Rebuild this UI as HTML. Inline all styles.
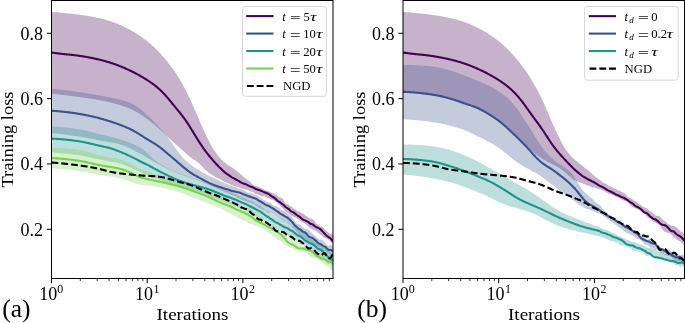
<!DOCTYPE html>
<html><head><meta charset="utf-8"><style>
html,body{margin:0;padding:0;background:#fff;}
svg{display:block;font-family:"Liberation Serif", serif;will-change:transform;}
</style></head><body>
<svg width="685" height="323" viewBox="0 0 685 323">
<defs>
<clipPath id="cl"><rect x="51.50" y="0.50" width="281.50" height="278.00"/></clipPath>
<clipPath id="cr"><rect x="403.00" y="0.50" width="281.50" height="278.00"/></clipPath>
</defs>

<g clip-path="url(#cl)">
<path d="M51.5,11.90 52.0,11.94 52.5,11.98 53.0,12.02 53.5,12.06 54.0,12.10 54.5,12.14 55.0,12.18 55.5,12.22 56.0,12.26 56.5,12.30 57.0,12.35 57.5,12.39 58.0,12.43 58.5,12.48 59.0,12.52 59.5,12.56 60.0,12.61 60.5,12.66 61.0,12.70 61.5,12.75 62.0,12.80 62.5,12.84 63.0,12.89 63.5,12.94 64.0,12.99 64.5,13.04 65.0,13.09 65.5,13.14 66.0,13.19 66.5,13.24 67.0,13.29 67.5,13.35 68.0,13.40 68.5,13.45 69.0,13.51 69.5,13.56 70.0,13.61 70.5,13.67 71.0,13.72 71.5,13.78 72.0,13.84 72.5,13.89 73.0,13.95 73.5,14.01 74.0,14.07 74.5,14.13 75.0,14.19 75.5,14.25 76.0,14.31 76.5,14.37 77.0,14.43 77.5,14.49 78.0,14.56 78.5,14.62 79.0,14.69 79.5,14.75 80.0,14.82 80.5,14.89 81.0,14.95 81.5,15.02 82.0,15.09 82.5,15.16 83.0,15.23 83.5,15.31 84.0,15.38 84.5,15.45 85.0,15.53 85.5,15.61 86.0,15.68 86.5,15.76 87.0,15.84 87.5,15.92 88.0,16.00 88.5,16.09 89.0,16.17 89.5,16.25 90.0,16.34 90.5,16.43 91.0,16.52 91.5,16.61 92.0,16.70 92.5,16.79 93.0,16.89 93.5,16.98 94.0,17.08 94.5,17.18 95.0,17.28 95.5,17.38 96.0,17.48 96.5,17.59 97.0,17.70 97.5,17.80 98.0,17.91 98.5,18.03 99.0,18.14 99.5,18.25 100.0,18.37 100.5,18.49 101.0,18.61 101.5,18.73 102.0,18.85 102.5,18.98 103.0,19.10 103.5,19.23 104.0,19.36 104.5,19.49 105.0,19.63 105.5,19.76 106.0,19.90 106.5,20.04 107.0,20.19 107.5,20.33 108.0,20.48 108.5,20.63 109.0,20.78 109.5,20.93 110.0,21.09 110.5,21.25 111.0,21.41 111.5,21.58 112.0,21.75 112.5,21.92 113.0,22.10 113.5,22.27 114.0,22.46 114.5,22.64 115.0,22.83 115.5,23.02 116.0,23.21 116.5,23.41 117.0,23.61 117.5,23.81 118.0,24.02 118.5,24.23 119.0,24.44 119.5,24.66 120.0,24.88 120.5,25.10 121.0,25.32 121.5,25.55 122.0,25.78 122.5,26.01 123.0,26.24 123.5,26.48 124.0,26.72 124.5,26.96 125.0,27.21 125.5,27.45 126.0,27.70 126.5,27.96 127.0,28.21 127.5,28.47 128.0,28.73 128.5,28.99 129.0,29.25 129.5,29.52 130.0,29.79 130.5,30.07 131.0,30.34 131.5,30.62 132.0,30.90 132.5,31.19 133.0,31.48 133.5,31.77 134.0,32.07 134.5,32.37 135.0,32.67 135.5,32.98 136.0,33.29 136.5,33.60 137.0,33.92 137.5,34.24 138.0,34.57 138.5,34.89 139.0,35.23 139.5,35.56 140.0,35.90 140.5,36.24 141.0,36.59 141.5,36.94 142.0,37.29 142.5,37.65 143.0,38.01 143.5,38.38 144.0,38.75 144.5,39.12 145.0,39.49 145.5,39.87 146.0,40.26 146.5,40.64 147.0,41.04 147.5,41.43 148.0,41.83 148.5,42.24 149.0,42.65 149.5,43.07 150.0,43.49 150.5,43.92 151.0,44.35 151.5,44.79 152.0,45.23 152.5,45.68 153.0,46.14 153.5,46.60 154.0,47.07 154.5,47.55 155.0,48.03 155.5,48.52 156.0,49.01 156.5,49.51 157.0,50.02 157.5,50.53 158.0,51.05 158.5,51.57 159.0,52.10 159.5,52.64 160.0,53.18 160.5,53.72 161.0,54.28 161.5,54.83 162.0,55.40 162.5,55.97 163.0,56.54 163.5,57.12 164.0,57.71 164.5,58.30 165.0,58.90 165.5,59.50 166.0,60.11 166.5,60.72 167.0,61.34 167.5,61.97 168.0,62.60 168.5,63.24 169.0,63.88 169.5,64.53 170.0,65.18 170.5,65.84 171.0,66.51 171.5,67.18 172.0,67.86 172.5,68.54 173.0,69.23 173.5,69.93 174.0,70.64 174.5,71.35 175.0,72.08 175.5,72.81 176.0,73.55 176.5,74.30 177.0,75.06 177.5,75.83 178.0,76.60 178.5,77.39 179.0,78.19 179.5,79.01 180.0,79.83 180.5,80.66 181.0,81.51 181.5,82.37 182.0,83.25 182.5,84.14 183.0,85.04 183.5,85.95 184.0,86.88 184.5,87.83 185.0,88.78 185.5,89.76 186.0,90.74 186.5,91.74 187.0,92.76 187.5,93.79 188.0,94.83 188.5,95.88 189.0,96.94 189.5,98.01 190.0,99.10 190.5,100.19 191.0,101.29 191.5,102.40 192.0,103.51 192.5,104.63 193.0,105.75 193.5,106.88 194.0,108.02 194.5,109.15 195.0,110.29 195.5,111.43 196.0,112.58 196.5,113.72 197.0,114.87 197.5,116.02 198.0,117.16 198.5,118.31 199.0,119.46 199.5,120.61 200.0,121.75 200.5,122.90 201.0,124.04 201.5,125.18 202.0,126.31 202.5,127.45 203.0,128.57 203.5,129.69 204.0,130.80 204.5,131.90 205.0,132.99 205.5,134.07 206.0,135.14 206.5,136.20 207.0,137.24 207.5,138.27 208.0,139.29 208.5,140.30 209.0,141.29 209.5,142.26 210.0,143.21 210.5,144.15 211.0,145.06 211.5,145.95 212.0,146.82 212.5,147.67 213.0,148.50 213.5,149.30 214.0,150.08 214.5,150.84 215.0,151.57 215.5,152.28 216.0,152.98 216.5,153.66 217.0,154.32 217.5,154.98 218.0,155.61 218.5,156.22 219.0,156.82 219.5,157.40 220.0,157.95 220.5,158.50 221.0,159.02 221.5,159.54 222.0,160.03 222.5,160.52 223.0,161.00 223.5,161.47 224.0,161.92 224.5,162.36 225.0,162.78 225.5,163.18 226.0,163.57 226.5,163.95 227.0,164.33 227.5,164.70 228.0,165.06 228.5,165.40 229.0,165.73 229.5,166.05 230.0,166.36 230.5,166.67 231.0,166.98 231.5,167.28 232.0,167.57 232.5,167.87 233.0,168.19 233.5,168.52 234.0,168.89 234.5,169.28 235.0,169.69 235.5,170.11 236.0,170.52 236.5,170.93 237.0,171.32 237.5,171.70 238.0,172.09 238.5,172.49 239.0,172.88 239.5,173.28 240.0,173.68 240.5,174.08 241.0,174.49 241.5,174.91 242.0,175.36 242.5,175.83 243.0,176.32 243.5,176.79 244.0,177.23 244.5,177.65 245.0,178.05 245.5,178.41 246.0,178.73 246.5,179.03 247.0,179.33 247.5,179.66 248.0,180.02 248.5,180.43 249.0,180.86 249.5,181.31 250.0,181.78 250.5,182.28 251.0,182.81 251.5,183.35 252.0,183.89 252.5,184.38 253.0,184.81 253.5,185.16 254.0,185.45 254.5,185.67 255.0,185.83 255.5,185.93 256.0,185.99 256.5,186.03 257.0,186.10 257.5,186.24 258.0,186.46 258.5,186.75 259.0,187.06 259.5,187.35 260.0,187.62 260.5,187.85 261.0,188.07 261.5,188.29 262.0,188.52 262.5,188.77 263.0,189.04 263.5,189.31 264.0,189.57 264.5,189.81 265.0,190.02 265.5,190.20 266.0,190.36 266.5,190.51 267.0,190.65 267.5,190.79 268.0,190.95 268.5,191.15 269.0,191.41 269.5,191.70 270.0,192.00 270.5,192.24 271.0,192.41 271.5,192.56 272.0,192.72 272.5,192.95 273.0,193.25 273.5,193.57 274.0,193.86 274.5,194.06 275.0,194.17 275.5,194.26 276.0,194.42 276.5,194.72 277.0,195.15 277.5,195.66 278.0,196.16 278.5,196.60 279.0,196.95 279.5,197.21 280.0,197.42 280.5,197.60 281.0,197.77 281.5,198.00 282.0,198.32 282.5,198.76 283.0,199.32 283.5,199.97 284.0,200.69 284.5,201.44 285.0,202.17 285.5,202.83 286.0,203.37 286.5,203.75 287.0,204.01 287.5,204.21 288.0,204.41 288.5,204.67 289.0,204.99 289.5,205.33 290.0,205.64 290.5,205.92 291.0,206.18 291.5,206.49 292.0,206.88 292.5,207.38 293.0,207.93 293.5,208.44 294.0,208.85 294.5,209.16 295.0,209.43 295.5,209.72 296.0,210.06 296.5,210.40 297.0,210.68 297.5,210.89 298.0,211.04 298.5,211.21 299.0,211.41 299.5,211.67 300.0,211.98 300.5,212.30 301.0,212.61 301.5,212.88 302.0,213.11 302.5,213.33 303.0,213.56 303.5,213.85 304.0,214.20 304.5,214.60 305.0,215.02 305.5,215.41 306.0,215.76 306.5,216.07 307.0,216.36 307.5,216.67 308.0,217.03 308.5,217.42 309.0,217.79 309.5,218.10 310.0,218.34 310.5,218.52 311.0,218.68 311.5,218.84 312.0,218.99 312.5,219.17 313.0,219.43 313.5,219.84 314.0,220.42 314.5,221.13 315.0,221.87 315.5,222.57 316.0,223.20 316.5,223.79 317.0,224.32 317.5,224.79 318.0,225.18 318.5,225.52 319.0,225.82 319.5,226.10 320.0,226.32 320.5,226.45 321.0,226.51 321.5,226.57 322.0,226.70 322.5,226.95 323.0,227.36 323.5,227.90 324.0,228.54 324.5,229.21 325.0,229.85 325.5,230.41 326.0,230.85 326.5,231.19 327.0,231.47 327.5,231.74 328.0,232.06 328.5,232.46 329.0,232.90 329.5,233.32 330.0,233.66 330.5,233.87 331.0,233.99 331.5,234.06 332.0,234.16 332.5,234.33 333.0,234.63 L333.0,243.57 332.5,243.24 332.0,242.99 331.5,242.73 331.0,242.38 330.5,241.89 330.0,241.32 329.5,240.72 329.0,240.18 328.5,239.72 328.0,239.36 327.5,239.05 327.0,238.80 326.5,238.58 326.0,238.40 325.5,238.23 325.0,238.06 324.5,237.83 324.0,237.55 323.5,237.20 323.0,236.79 322.5,236.32 322.0,235.84 321.5,235.37 321.0,234.96 320.5,234.61 320.0,234.31 319.5,234.00 319.0,233.61 318.5,233.14 318.0,232.61 317.5,232.07 317.0,231.57 316.5,231.15 316.0,230.85 315.5,230.65 315.0,230.52 314.5,230.40 314.0,230.25 313.5,230.02 313.0,229.72 312.5,229.37 312.0,229.00 311.5,228.67 311.0,228.40 310.5,228.19 310.0,228.00 309.5,227.77 309.0,227.46 308.5,227.05 308.0,226.56 307.5,226.02 307.0,225.49 306.5,224.98 306.0,224.49 305.5,224.04 305.0,223.62 304.5,223.27 304.0,223.00 303.5,222.78 303.0,222.57 302.5,222.29 302.0,221.94 301.5,221.53 301.0,221.13 300.5,220.78 300.0,220.49 299.5,220.23 299.0,219.95 298.5,219.64 298.0,219.27 297.5,218.85 297.0,218.42 296.5,218.03 296.0,217.73 295.5,217.52 295.0,217.36 294.5,217.19 294.0,217.00 293.5,216.79 293.0,216.57 292.5,216.36 292.0,216.13 291.5,215.84 291.0,215.49 290.5,215.09 290.0,214.68 289.5,214.28 289.0,213.92 288.5,213.59 288.0,213.29 287.5,213.00 287.0,212.69 286.5,212.31 286.0,211.83 285.5,211.27 285.0,210.65 284.5,210.04 284.0,209.47 283.5,208.96 283.0,208.49 282.5,208.04 282.0,207.60 281.5,207.14 281.0,206.66 280.5,206.16 280.0,205.65 279.5,205.12 279.0,204.57 278.5,204.00 278.0,203.40 277.5,202.81 277.0,202.27 276.5,201.82 276.0,201.46 275.5,201.16 275.0,200.89 274.5,200.64 274.0,200.41 273.5,200.21 273.0,200.05 272.5,199.92 272.0,199.80 271.5,199.65 271.0,199.46 270.5,199.22 270.0,198.97 269.5,198.72 269.0,198.51 268.5,198.32 268.0,198.15 267.5,197.94 267.0,197.68 266.5,197.36 266.0,196.99 265.5,196.63 265.0,196.32 264.5,196.14 264.0,196.08 263.5,196.14 263.0,196.23 262.5,196.30 262.0,196.29 261.5,196.18 261.0,196.00 260.5,195.76 260.0,195.51 259.5,195.24 259.0,194.97 258.5,194.72 258.0,194.50 257.5,194.33 257.0,194.20 256.5,194.10 256.0,193.99 255.5,193.81 255.0,193.55 254.5,193.20 254.0,192.83 253.5,192.47 253.0,192.17 252.5,191.93 252.0,191.75 251.5,191.61 251.0,191.47 250.5,191.31 250.0,191.11 249.5,190.87 249.0,190.61 248.5,190.35 248.0,190.13 247.5,189.96 247.0,189.84 246.5,189.75 246.0,189.67 245.5,189.57 245.0,189.46 244.5,189.33 244.0,189.18 243.5,189.03 243.0,188.90 242.5,188.77 242.0,188.63 241.5,188.47 241.0,188.27 240.5,188.03 240.0,187.78 239.5,187.52 239.0,187.30 238.5,187.11 238.0,186.97 237.5,186.87 237.0,186.77 236.5,186.68 236.0,186.58 235.5,186.47 235.0,186.34 234.5,186.19 234.0,186.04 233.5,185.89 233.0,185.72 232.5,185.54 232.0,185.34 231.5,185.13 231.0,184.90 230.5,184.66 230.0,184.39 229.5,184.11 229.0,183.83 228.5,183.57 228.0,183.33 227.5,183.12 227.0,182.93 226.5,182.73 226.0,182.53 225.5,182.31 225.0,182.06 224.5,181.78 224.0,181.50 223.5,181.21 223.0,180.92 222.5,180.65 222.0,180.38 221.5,180.12 221.0,179.86 220.5,179.60 220.0,179.34 219.5,179.08 219.0,178.82 218.5,178.55 218.0,178.28 217.5,178.01 217.0,177.74 216.5,177.46 216.0,177.18 215.5,176.91 215.0,176.63 214.5,176.35 214.0,176.06 213.5,175.78 213.0,175.49 212.5,175.19 212.0,174.89 211.5,174.58 211.0,174.27 210.5,173.94 210.0,173.61 209.5,173.26 209.0,172.90 208.5,172.53 208.0,172.14 207.5,171.74 207.0,171.33 206.5,170.89 206.0,170.44 205.5,169.97 205.0,169.48 204.5,168.98 204.0,168.46 203.5,167.93 203.0,167.39 202.5,166.85 202.0,166.32 201.5,165.79 201.0,165.27 200.5,164.77 200.0,164.28 199.5,163.81 199.0,163.37 198.5,162.94 198.0,162.53 197.5,162.13 197.0,161.75 196.5,161.38 196.0,161.02 195.5,160.67 195.0,160.33 194.5,159.99 194.0,159.65 193.5,159.31 193.0,158.96 192.5,158.61 192.0,158.26 191.5,157.90 191.0,157.53 190.5,157.15 190.0,156.77 189.5,156.37 189.0,155.97 188.5,155.57 188.0,155.15 187.5,154.73 187.0,154.30 186.5,153.86 186.0,153.42 185.5,152.98 185.0,152.53 184.5,152.08 184.0,151.63 183.5,151.18 183.0,150.73 182.5,150.28 182.0,149.83 181.5,149.38 181.0,148.93 180.5,148.48 180.0,148.04 179.5,147.59 179.0,147.15 178.5,146.71 178.0,146.26 177.5,145.82 177.0,145.38 176.5,144.94 176.0,144.50 175.5,144.05 175.0,143.61 174.5,143.16 174.0,142.71 173.5,142.26 173.0,141.81 172.5,141.36 172.0,140.90 171.5,140.44 171.0,139.98 170.5,139.52 170.0,139.05 169.5,138.58 169.0,138.11 168.5,137.64 168.0,137.16 167.5,136.69 167.0,136.21 166.5,135.73 166.0,135.26 165.5,134.78 165.0,134.30 164.5,133.82 164.0,133.35 163.5,132.87 163.0,132.40 162.5,131.93 162.0,131.46 161.5,130.99 161.0,130.53 160.5,130.07 160.0,129.61 159.5,129.15 159.0,128.70 158.5,128.25 158.0,127.81 157.5,127.37 157.0,126.93 156.5,126.49 156.0,126.06 155.5,125.63 155.0,125.21 154.5,124.79 154.0,124.37 153.5,123.96 153.0,123.55 152.5,123.14 152.0,122.74 151.5,122.34 151.0,121.95 150.5,121.56 150.0,121.17 149.5,120.79 149.0,120.41 148.5,120.04 148.0,119.67 147.5,119.30 147.0,118.93 146.5,118.57 146.0,118.21 145.5,117.86 145.0,117.50 144.5,117.15 144.0,116.80 143.5,116.46 143.0,116.12 142.5,115.78 142.0,115.44 141.5,115.11 141.0,114.78 140.5,114.46 140.0,114.14 139.5,113.82 139.0,113.51 138.5,113.20 138.0,112.90 137.5,112.60 137.0,112.30 136.5,112.01 136.0,111.73 135.5,111.45 135.0,111.18 134.5,110.91 134.0,110.65 133.5,110.40 133.0,110.15 132.5,109.90 132.0,109.66 131.5,109.43 131.0,109.20 130.5,108.98 130.0,108.76 129.5,108.55 129.0,108.34 128.5,108.14 128.0,107.94 127.5,107.74 127.0,107.55 126.5,107.36 126.0,107.18 125.5,106.99 125.0,106.81 124.5,106.64 124.0,106.46 123.5,106.29 123.0,106.12 122.5,105.95 122.0,105.79 121.5,105.63 121.0,105.47 120.5,105.31 120.0,105.15 119.5,105.00 119.0,104.84 118.5,104.69 118.0,104.54 117.5,104.40 117.0,104.25 116.5,104.11 116.0,103.97 115.5,103.83 115.0,103.69 114.5,103.55 114.0,103.42 113.5,103.28 113.0,103.15 112.5,103.02 112.0,102.90 111.5,102.77 111.0,102.64 110.5,102.52 110.0,102.40 109.5,102.28 109.0,102.16 108.5,102.04 108.0,101.92 107.5,101.81 107.0,101.69 106.5,101.58 106.0,101.47 105.5,101.36 105.0,101.25 104.5,101.15 104.0,101.04 103.5,100.94 103.0,100.83 102.5,100.73 102.0,100.63 101.5,100.53 101.0,100.43 100.5,100.33 100.0,100.24 99.5,100.14 99.0,100.05 98.5,99.96 98.0,99.87 97.5,99.78 97.0,99.69 96.5,99.60 96.0,99.51 95.5,99.43 95.0,99.34 94.5,99.26 94.0,99.18 93.5,99.10 93.0,99.02 92.5,98.94 92.0,98.86 91.5,98.78 91.0,98.70 90.5,98.63 90.0,98.55 89.5,98.48 89.0,98.41 88.5,98.33 88.0,98.26 87.5,98.19 87.0,98.12 86.5,98.05 86.0,97.98 85.5,97.91 85.0,97.84 84.5,97.77 84.0,97.70 83.5,97.63 83.0,97.57 82.5,97.50 82.0,97.43 81.5,97.36 81.0,97.30 80.5,97.23 80.0,97.16 79.5,97.10 79.0,97.03 78.5,96.96 78.0,96.90 77.5,96.83 77.0,96.77 76.5,96.70 76.0,96.63 75.5,96.57 75.0,96.50 74.5,96.43 74.0,96.37 73.5,96.30 73.0,96.24 72.5,96.17 72.0,96.11 71.5,96.04 71.0,95.98 70.5,95.91 70.0,95.85 69.5,95.78 69.0,95.72 68.5,95.65 68.0,95.59 67.5,95.52 67.0,95.46 66.5,95.40 66.0,95.33 65.5,95.27 65.0,95.21 64.5,95.15 64.0,95.08 63.5,95.02 63.0,94.96 62.5,94.90 62.0,94.84 61.5,94.78 61.0,94.71 60.5,94.65 60.0,94.59 59.5,94.53 59.0,94.47 58.5,94.41 58.0,94.36 57.5,94.30 57.0,94.24 56.5,94.18 56.0,94.12 55.5,94.06 55.0,94.00 54.5,93.95 54.0,93.89 53.5,93.83 53.0,93.77 52.5,93.72 52.0,93.66 51.5,93.60 Z" fill="#440154" fill-opacity="0.30" stroke="none"/>
<path d="M51.5,88.70 52.0,88.75 52.5,88.80 53.0,88.86 53.5,88.91 54.0,88.96 54.5,89.01 55.0,89.07 55.5,89.12 56.0,89.17 56.5,89.23 57.0,89.28 57.5,89.34 58.0,89.39 58.5,89.45 59.0,89.50 59.5,89.56 60.0,89.62 60.5,89.67 61.0,89.73 61.5,89.79 62.0,89.85 62.5,89.91 63.0,89.97 63.5,90.03 64.0,90.09 64.5,90.15 65.0,90.21 65.5,90.27 66.0,90.33 66.5,90.39 67.0,90.46 67.5,90.52 68.0,90.58 68.5,90.65 69.0,90.71 69.5,90.78 70.0,90.84 70.5,90.91 71.0,90.97 71.5,91.04 72.0,91.10 72.5,91.17 73.0,91.24 73.5,91.31 74.0,91.38 74.5,91.44 75.0,91.51 75.5,91.58 76.0,91.65 76.5,91.72 77.0,91.80 77.5,91.87 78.0,91.94 78.5,92.01 79.0,92.08 79.5,92.16 80.0,92.23 80.5,92.31 81.0,92.38 81.5,92.46 82.0,92.53 82.5,92.61 83.0,92.69 83.5,92.76 84.0,92.84 84.5,92.92 85.0,93.00 85.5,93.08 86.0,93.16 86.5,93.24 87.0,93.32 87.5,93.40 88.0,93.48 88.5,93.57 89.0,93.65 89.5,93.73 90.0,93.82 90.5,93.90 91.0,93.99 91.5,94.07 92.0,94.16 92.5,94.25 93.0,94.34 93.5,94.42 94.0,94.51 94.5,94.60 95.0,94.69 95.5,94.78 96.0,94.87 96.5,94.96 97.0,95.05 97.5,95.14 98.0,95.23 98.5,95.32 99.0,95.42 99.5,95.51 100.0,95.60 100.5,95.69 101.0,95.78 101.5,95.87 102.0,95.97 102.5,96.06 103.0,96.15 103.5,96.24 104.0,96.33 104.5,96.42 105.0,96.52 105.5,96.61 106.0,96.70 106.5,96.79 107.0,96.88 107.5,96.97 108.0,97.07 108.5,97.16 109.0,97.25 109.5,97.35 110.0,97.44 110.5,97.54 111.0,97.63 111.5,97.73 112.0,97.83 112.5,97.93 113.0,98.02 113.5,98.13 114.0,98.23 114.5,98.33 115.0,98.44 115.5,98.54 116.0,98.65 116.5,98.76 117.0,98.87 117.5,98.98 118.0,99.10 118.5,99.21 119.0,99.33 119.5,99.45 120.0,99.58 120.5,99.70 121.0,99.83 121.5,99.96 122.0,100.10 122.5,100.23 123.0,100.37 123.5,100.51 124.0,100.66 124.5,100.81 125.0,100.96 125.5,101.12 126.0,101.28 126.5,101.45 127.0,101.62 127.5,101.80 128.0,101.99 128.5,102.18 129.0,102.38 129.5,102.58 130.0,102.80 130.5,103.02 131.0,103.25 131.5,103.50 132.0,103.75 132.5,104.01 133.0,104.28 133.5,104.56 134.0,104.85 134.5,105.15 135.0,105.46 135.5,105.77 136.0,106.10 136.5,106.44 137.0,106.78 137.5,107.14 138.0,107.50 138.5,107.86 139.0,108.24 139.5,108.62 140.0,109.00 140.5,109.40 141.0,109.79 141.5,110.19 142.0,110.60 142.5,111.01 143.0,111.43 143.5,111.85 144.0,112.27 144.5,112.70 145.0,113.13 145.5,113.56 146.0,114.01 146.5,114.45 147.0,114.90 147.5,115.36 148.0,115.82 148.5,116.28 149.0,116.75 149.5,117.22 150.0,117.70 150.5,118.19 151.0,118.68 151.5,119.17 152.0,119.67 152.5,120.17 153.0,120.67 153.5,121.18 154.0,121.70 154.5,122.21 155.0,122.73 155.5,123.25 156.0,123.78 156.5,124.31 157.0,124.84 157.5,125.37 158.0,125.91 158.5,126.45 159.0,126.99 159.5,127.53 160.0,128.08 160.5,128.64 161.0,129.19 161.5,129.76 162.0,130.32 162.5,130.90 163.0,131.48 163.5,132.06 164.0,132.66 164.5,133.26 165.0,133.87 165.5,134.49 166.0,135.11 166.5,135.75 167.0,136.39 167.5,137.04 168.0,137.70 168.5,138.36 169.0,139.03 169.5,139.71 170.0,140.40 170.5,141.09 171.0,141.79 171.5,142.49 172.0,143.19 172.5,143.90 173.0,144.61 173.5,145.32 174.0,146.03 174.5,146.74 175.0,147.45 175.5,148.16 176.0,148.86 176.5,149.56 177.0,150.25 177.5,150.93 178.0,151.61 178.5,152.28 179.0,152.94 179.5,153.58 180.0,154.22 180.5,154.84 181.0,155.45 181.5,156.04 182.0,156.62 182.5,157.19 183.0,157.74 183.5,158.28 184.0,158.80 184.5,159.31 185.0,159.81 185.5,160.29 186.0,160.76 186.5,161.22 187.0,161.67 187.5,162.11 188.0,162.54 188.5,162.96 189.0,163.37 189.5,163.77 190.0,164.16 190.5,164.55 191.0,164.93 191.5,165.31 192.0,165.67 192.5,166.04 193.0,166.39 193.5,166.74 194.0,167.09 194.5,167.43 195.0,167.77 195.5,168.10 196.0,168.42 196.5,168.75 197.0,169.07 197.5,169.38 198.0,169.69 198.5,170.00 199.0,170.30 199.5,170.60 200.0,170.90 200.5,171.19 201.0,171.48 201.5,171.77 202.0,172.05 202.5,172.33 203.0,172.61 203.5,172.88 204.0,173.15 204.5,173.42 205.0,173.68 205.5,173.94 206.0,174.20 206.5,174.45 207.0,174.70 207.5,174.95 208.0,175.20 208.5,175.45 209.0,175.69 209.5,175.94 210.0,176.18 210.5,176.42 211.0,176.66 211.5,176.90 212.0,177.14 212.5,177.37 213.0,177.61 213.5,177.85 214.0,178.09 214.5,178.32 215.0,178.56 215.5,178.79 216.0,179.02 216.5,179.26 217.0,179.50 217.5,179.74 218.0,179.99 218.5,180.23 219.0,180.47 219.5,180.70 220.0,180.93 220.5,181.16 221.0,181.39 221.5,181.64 222.0,181.88 222.5,182.12 223.0,182.35 223.5,182.57 224.0,182.78 224.5,182.98 225.0,183.19 225.5,183.41 226.0,183.64 226.5,183.87 227.0,184.09 227.5,184.30 228.0,184.49 228.5,184.66 229.0,184.83 229.5,185.01 230.0,185.22 230.5,185.45 231.0,185.69 231.5,185.92 232.0,186.14 232.5,186.34 233.0,186.51 233.5,186.65 234.0,186.76 234.5,186.86 235.0,186.96 235.5,187.09 236.0,187.26 236.5,187.49 237.0,187.77 237.5,188.07 238.0,188.35 238.5,188.56 239.0,188.71 239.5,188.81 240.0,188.90 240.5,189.01 241.0,189.15 241.5,189.34 242.0,189.55 242.5,189.78 243.0,190.01 243.5,190.23 244.0,190.45 244.5,190.68 245.0,190.93 245.5,191.20 246.0,191.49 246.5,191.78 247.0,192.04 247.5,192.25 248.0,192.40 248.5,192.49 249.0,192.55 249.5,192.61 250.0,192.70 250.5,192.83 251.0,193.01 251.5,193.24 252.0,193.50 252.5,193.78 253.0,194.06 253.5,194.32 254.0,194.55 254.5,194.74 255.0,194.91 255.5,195.08 256.0,195.25 256.5,195.44 257.0,195.63 257.5,195.85 258.0,196.09 258.5,196.38 259.0,196.72 259.5,197.11 260.0,197.52 260.5,197.92 261.0,198.29 261.5,198.62 262.0,198.92 262.5,199.20 263.0,199.48 263.5,199.75 264.0,200.02 264.5,200.29 265.0,200.56 265.5,200.85 266.0,201.14 266.5,201.43 267.0,201.68 267.5,201.89 268.0,202.04 268.5,202.16 269.0,202.27 269.5,202.40 270.0,202.59 270.5,202.84 271.0,203.21 271.5,203.68 272.0,204.24 272.5,204.80 273.0,205.28 273.5,205.62 274.0,205.82 274.5,205.90 275.0,205.94 275.5,205.98 276.0,206.07 276.5,206.19 277.0,206.37 277.5,206.61 278.0,206.93 278.5,207.32 279.0,207.76 279.5,208.22 280.0,208.68 280.5,209.13 281.0,209.56 281.5,209.94 282.0,210.24 282.5,210.45 283.0,210.63 283.5,210.82 284.0,211.02 284.5,211.25 285.0,211.49 285.5,211.75 286.0,212.06 286.5,212.45 287.0,212.91 287.5,213.41 288.0,213.90 288.5,214.34 289.0,214.71 289.5,215.04 290.0,215.35 290.5,215.71 291.0,216.18 291.5,216.75 292.0,217.40 292.5,218.09 293.0,218.78 293.5,219.45 294.0,220.10 294.5,220.73 295.0,221.36 295.5,221.95 296.0,222.51 296.5,222.98 297.0,223.38 297.5,223.71 298.0,224.01 298.5,224.32 299.0,224.63 299.5,224.93 300.0,225.22 300.5,225.51 301.0,225.80 301.5,226.12 302.0,226.46 302.5,226.83 303.0,227.27 303.5,227.75 304.0,228.23 304.5,228.65 305.0,228.92 305.5,229.03 306.0,229.04 306.5,229.04 307.0,229.12 307.5,229.31 308.0,229.60 308.5,229.97 309.0,230.38 309.5,230.81 310.0,231.26 310.5,231.75 311.0,232.27 311.5,232.81 312.0,233.36 312.5,233.86 313.0,234.30 313.5,234.68 314.0,235.01 314.5,235.37 315.0,235.78 315.5,236.25 316.0,236.74 316.5,237.22 317.0,237.67 317.5,238.12 318.0,238.58 318.5,239.03 319.0,239.41 319.5,239.67 320.0,239.80 320.5,239.84 321.0,239.85 321.5,239.90 322.0,240.06 322.5,240.36 323.0,240.77 323.5,241.26 324.0,241.76 324.5,242.23 325.0,242.69 325.5,243.15 326.0,243.65 326.5,244.18 327.0,244.69 327.5,245.12 328.0,245.41 328.5,245.53 329.0,245.50 329.5,245.40 330.0,245.30 330.5,245.27 331.0,245.32 331.5,245.46 332.0,245.66 332.5,245.91 333.0,246.17 L333.0,257.90 332.5,257.80 332.0,257.74 331.5,257.59 331.0,257.22 330.5,256.62 330.0,255.90 329.5,255.17 329.0,254.58 328.5,254.18 328.0,253.97 327.5,253.87 327.0,253.78 326.5,253.60 326.0,253.29 325.5,252.87 325.0,252.42 324.5,252.05 324.0,251.81 323.5,251.69 323.0,251.62 322.5,251.51 322.0,251.28 321.5,250.92 321.0,250.44 320.5,249.89 320.0,249.33 319.5,248.77 319.0,248.26 318.5,247.82 318.0,247.51 317.5,247.33 317.0,247.23 316.5,247.13 316.0,246.96 315.5,246.73 315.0,246.49 314.5,246.28 314.0,246.08 313.5,245.81 313.0,245.43 312.5,244.96 312.0,244.48 311.5,244.09 311.0,243.86 310.5,243.76 310.0,243.71 309.5,243.61 309.0,243.38 308.5,242.98 308.0,242.40 307.5,241.67 307.0,240.87 306.5,240.10 306.0,239.45 305.5,238.97 305.0,238.64 304.5,238.43 304.0,238.28 303.5,238.12 303.0,237.93 302.5,237.69 302.0,237.40 301.5,237.10 301.0,236.80 300.5,236.53 300.0,236.23 299.5,235.86 299.0,235.37 298.5,234.76 298.0,234.07 297.5,233.35 297.0,232.62 296.5,231.86 296.0,231.09 295.5,230.33 295.0,229.66 294.5,229.13 294.0,228.76 293.5,228.47 293.0,228.19 292.5,227.82 292.0,227.35 291.5,226.82 291.0,226.27 290.5,225.73 290.0,225.21 289.5,224.67 289.0,224.13 288.5,223.59 288.0,223.09 287.5,222.66 287.0,222.30 286.5,222.01 286.0,221.79 285.5,221.63 285.0,221.52 284.5,221.40 284.0,221.23 283.5,220.96 283.0,220.60 282.5,220.17 282.0,219.73 281.5,219.32 281.0,218.94 280.5,218.59 280.0,218.28 279.5,218.01 279.0,217.78 278.5,217.58 278.0,217.38 277.5,217.14 277.0,216.85 276.5,216.53 276.0,216.23 275.5,215.95 275.0,215.69 274.5,215.43 274.0,215.14 273.5,214.84 273.0,214.53 272.5,214.23 272.0,213.93 271.5,213.64 271.0,213.39 270.5,213.21 270.0,213.11 269.5,213.06 269.0,213.02 268.5,212.92 268.0,212.72 267.5,212.41 267.0,212.04 266.5,211.63 266.0,211.24 265.5,210.87 265.0,210.55 264.5,210.28 264.0,210.08 263.5,209.92 263.0,209.77 262.5,209.59 262.0,209.36 261.5,209.10 261.0,208.82 260.5,208.56 260.0,208.35 259.5,208.15 259.0,207.94 258.5,207.67 258.0,207.34 257.5,206.97 257.0,206.60 256.5,206.24 256.0,205.92 255.5,205.59 255.0,205.26 254.5,204.93 254.0,204.60 253.5,204.30 253.0,204.02 252.5,203.77 252.0,203.54 251.5,203.34 251.0,203.13 250.5,202.91 250.0,202.66 249.5,202.41 249.0,202.16 248.5,201.94 248.0,201.74 247.5,201.56 247.0,201.40 246.5,201.25 246.0,201.08 245.5,200.89 245.0,200.69 244.5,200.49 244.0,200.32 243.5,200.16 243.0,200.01 242.5,199.84 242.0,199.63 241.5,199.39 241.0,199.13 240.5,198.88 240.0,198.63 239.5,198.40 239.0,198.16 238.5,197.91 238.0,197.65 237.5,197.38 237.0,197.12 236.5,196.87 236.0,196.63 235.5,196.41 235.0,196.19 234.5,195.99 234.0,195.80 233.5,195.65 233.0,195.50 232.5,195.34 232.0,195.17 231.5,194.97 231.0,194.74 230.5,194.49 230.0,194.23 229.5,193.98 229.0,193.73 228.5,193.50 228.0,193.29 227.5,193.08 227.0,192.87 226.5,192.66 226.0,192.46 225.5,192.26 225.0,192.05 224.5,191.85 224.0,191.64 223.5,191.43 223.0,191.21 222.5,190.98 222.0,190.74 221.5,190.50 221.0,190.26 220.5,190.02 220.0,189.79 219.5,189.56 219.0,189.34 218.5,189.12 218.0,188.90 217.5,188.68 217.0,188.46 216.5,188.24 216.0,188.02 215.5,187.80 215.0,187.59 214.5,187.37 214.0,187.15 213.5,186.93 213.0,186.71 212.5,186.49 212.0,186.27 211.5,186.05 211.0,185.83 210.5,185.61 210.0,185.39 209.5,185.17 209.0,184.96 208.5,184.74 208.0,184.53 207.5,184.31 207.0,184.10 206.5,183.89 206.0,183.68 205.5,183.47 205.0,183.26 204.5,183.05 204.0,182.84 203.5,182.64 203.0,182.43 202.5,182.23 202.0,182.03 201.5,181.82 201.0,181.63 200.5,181.43 200.0,181.23 199.5,181.04 199.0,180.85 198.5,180.65 198.0,180.47 197.5,180.28 197.0,180.09 196.5,179.91 196.0,179.73 195.5,179.55 195.0,179.37 194.5,179.20 194.0,179.03 193.5,178.86 193.0,178.69 192.5,178.52 192.0,178.36 191.5,178.20 191.0,178.03 190.5,177.87 190.0,177.71 189.5,177.56 189.0,177.40 188.5,177.24 188.0,177.08 187.5,176.93 187.0,176.77 186.5,176.61 186.0,176.45 185.5,176.29 185.0,176.13 184.5,175.96 184.0,175.80 183.5,175.63 183.0,175.46 182.5,175.28 182.0,175.11 181.5,174.93 181.0,174.74 180.5,174.56 180.0,174.37 179.5,174.17 179.0,173.98 178.5,173.78 178.0,173.58 177.5,173.37 177.0,173.16 176.5,172.95 176.0,172.73 175.5,172.51 175.0,172.29 174.5,172.07 174.0,171.84 173.5,171.62 173.0,171.39 172.5,171.15 172.0,170.92 171.5,170.69 171.0,170.45 170.5,170.21 170.0,169.98 169.5,169.74 169.0,169.49 168.5,169.25 168.0,169.01 167.5,168.77 167.0,168.52 166.5,168.27 166.0,168.03 165.5,167.78 165.0,167.53 164.5,167.27 164.0,167.02 163.5,166.76 163.0,166.51 162.5,166.25 162.0,165.99 161.5,165.73 161.0,165.46 160.5,165.20 160.0,164.93 159.5,164.66 159.0,164.39 158.5,164.11 158.0,163.84 157.5,163.56 157.0,163.28 156.5,163.00 156.0,162.71 155.5,162.43 155.0,162.14 154.5,161.85 154.0,161.56 153.5,161.27 153.0,160.98 152.5,160.69 152.0,160.39 151.5,160.10 151.0,159.80 150.5,159.51 150.0,159.22 149.5,158.92 149.0,158.63 148.5,158.33 148.0,158.04 147.5,157.75 147.0,157.46 146.5,157.17 146.0,156.88 145.5,156.59 145.0,156.31 144.5,156.02 144.0,155.74 143.5,155.46 143.0,155.18 142.5,154.90 142.0,154.62 141.5,154.35 141.0,154.08 140.5,153.80 140.0,153.53 139.5,153.26 139.0,152.99 138.5,152.72 138.0,152.46 137.5,152.19 137.0,151.92 136.5,151.66 136.0,151.39 135.5,151.13 135.0,150.87 134.5,150.61 134.0,150.35 133.5,150.09 133.0,149.83 132.5,149.57 132.0,149.32 131.5,149.07 131.0,148.82 130.5,148.57 130.0,148.33 129.5,148.09 129.0,147.85 128.5,147.61 128.0,147.38 127.5,147.16 127.0,146.94 126.5,146.72 126.0,146.51 125.5,146.30 125.0,146.10 124.5,145.90 124.0,145.71 123.5,145.52 123.0,145.34 122.5,145.17 122.0,145.00 121.5,144.83 121.0,144.68 120.5,144.52 120.0,144.38 119.5,144.23 119.0,144.09 118.5,143.96 118.0,143.83 117.5,143.71 117.0,143.59 116.5,143.47 116.0,143.36 115.5,143.25 115.0,143.14 114.5,143.03 114.0,142.93 113.5,142.83 113.0,142.73 112.5,142.64 112.0,142.55 111.5,142.45 111.0,142.36 110.5,142.28 110.0,142.19 109.5,142.10 109.0,142.02 108.5,141.93 108.0,141.85 107.5,141.76 107.0,141.68 106.5,141.59 106.0,141.51 105.5,141.43 105.0,141.34 104.5,141.26 104.0,141.17 103.5,141.09 103.0,141.00 102.5,140.91 102.0,140.82 101.5,140.74 101.0,140.65 100.5,140.56 100.0,140.47 99.5,140.37 99.0,140.28 98.5,140.19 98.0,140.09 97.5,140.00 97.0,139.90 96.5,139.81 96.0,139.71 95.5,139.61 95.0,139.52 94.5,139.42 94.0,139.32 93.5,139.22 93.0,139.12 92.5,139.02 92.0,138.93 91.5,138.83 91.0,138.73 90.5,138.63 90.0,138.53 89.5,138.44 89.0,138.34 88.5,138.24 88.0,138.15 87.5,138.05 87.0,137.96 86.5,137.86 86.0,137.77 85.5,137.68 85.0,137.59 84.5,137.50 84.0,137.41 83.5,137.32 83.0,137.23 82.5,137.15 82.0,137.06 81.5,136.98 81.0,136.89 80.5,136.81 80.0,136.73 79.5,136.65 79.0,136.57 78.5,136.49 78.0,136.41 77.5,136.33 77.0,136.25 76.5,136.18 76.0,136.10 75.5,136.03 75.0,135.95 74.5,135.88 74.0,135.80 73.5,135.73 73.0,135.66 72.5,135.58 72.0,135.51 71.5,135.44 71.0,135.37 70.5,135.30 70.0,135.23 69.5,135.16 69.0,135.09 68.5,135.02 68.0,134.95 67.5,134.88 67.0,134.81 66.5,134.75 66.0,134.68 65.5,134.62 65.0,134.55 64.5,134.49 64.0,134.42 63.5,134.36 63.0,134.29 62.5,134.23 62.0,134.17 61.5,134.11 61.0,134.05 60.5,133.99 60.0,133.93 59.5,133.87 59.0,133.81 58.5,133.75 58.0,133.70 57.5,133.64 57.0,133.59 56.5,133.53 56.0,133.48 55.5,133.42 55.0,133.37 54.5,133.31 54.0,133.26 53.5,133.21 53.0,133.16 52.5,133.10 52.0,133.05 51.5,133.00 Z" fill="#3b528b" fill-opacity="0.30" stroke="none"/>
<path d="M51.5,126.51 52.0,126.52 52.5,126.54 53.0,126.56 53.5,126.57 54.0,126.59 54.5,126.61 55.0,126.64 55.5,126.66 56.0,126.68 56.5,126.71 57.0,126.74 57.5,126.76 58.0,126.79 58.5,126.83 59.0,126.86 59.5,126.89 60.0,126.93 60.5,126.97 61.0,127.01 61.5,127.05 62.0,127.09 62.5,127.14 63.0,127.18 63.5,127.23 64.0,127.28 64.5,127.33 65.0,127.38 65.5,127.43 66.0,127.48 66.5,127.54 67.0,127.59 67.5,127.65 68.0,127.71 68.5,127.76 69.0,127.82 69.5,127.88 70.0,127.95 70.5,128.01 71.0,128.07 71.5,128.14 72.0,128.20 72.5,128.27 73.0,128.33 73.5,128.40 74.0,128.47 74.5,128.54 75.0,128.61 75.5,128.68 76.0,128.75 76.5,128.82 77.0,128.90 77.5,128.97 78.0,129.05 78.5,129.13 79.0,129.21 79.5,129.29 80.0,129.37 80.5,129.46 81.0,129.55 81.5,129.64 82.0,129.73 82.5,129.83 83.0,129.93 83.5,130.03 84.0,130.13 84.5,130.24 85.0,130.35 85.5,130.46 86.0,130.58 86.5,130.70 87.0,130.82 87.5,130.94 88.0,131.06 88.5,131.19 89.0,131.32 89.5,131.45 90.0,131.58 90.5,131.71 91.0,131.85 91.5,131.98 92.0,132.12 92.5,132.25 93.0,132.39 93.5,132.52 94.0,132.66 94.5,132.80 95.0,132.93 95.5,133.07 96.0,133.20 96.5,133.34 97.0,133.47 97.5,133.61 98.0,133.74 98.5,133.87 99.0,134.00 99.5,134.13 100.0,134.26 100.5,134.38 101.0,134.51 101.5,134.63 102.0,134.76 102.5,134.88 103.0,135.00 103.5,135.12 104.0,135.24 104.5,135.36 105.0,135.48 105.5,135.60 106.0,135.72 106.5,135.84 107.0,135.96 107.5,136.08 108.0,136.20 108.5,136.32 109.0,136.44 109.5,136.56 110.0,136.68 110.5,136.80 111.0,136.92 111.5,137.05 112.0,137.17 112.5,137.30 113.0,137.42 113.5,137.55 114.0,137.68 114.5,137.81 115.0,137.94 115.5,138.08 116.0,138.21 116.5,138.35 117.0,138.49 117.5,138.63 118.0,138.77 118.5,138.92 119.0,139.06 119.5,139.21 120.0,139.36 120.5,139.51 121.0,139.67 121.5,139.82 122.0,139.98 122.5,140.14 123.0,140.30 123.5,140.47 124.0,140.63 124.5,140.80 125.0,140.97 125.5,141.14 126.0,141.32 126.5,141.50 127.0,141.68 127.5,141.86 128.0,142.04 128.5,142.23 129.0,142.42 129.5,142.61 130.0,142.81 130.5,143.00 131.0,143.21 131.5,143.41 132.0,143.62 132.5,143.83 133.0,144.05 133.5,144.27 134.0,144.49 134.5,144.72 135.0,144.95 135.5,145.19 136.0,145.44 136.5,145.69 137.0,145.94 137.5,146.20 138.0,146.47 138.5,146.75 139.0,147.04 139.5,147.33 140.0,147.64 140.5,147.95 141.0,148.27 141.5,148.60 142.0,148.94 142.5,149.30 143.0,149.66 143.5,150.03 144.0,150.42 144.5,150.81 145.0,151.21 145.5,151.62 146.0,152.04 146.5,152.46 147.0,152.89 147.5,153.33 148.0,153.78 148.5,154.23 149.0,154.68 149.5,155.13 150.0,155.59 150.5,156.05 151.0,156.51 151.5,156.96 152.0,157.42 152.5,157.87 153.0,158.32 153.5,158.76 154.0,159.20 154.5,159.63 155.0,160.06 155.5,160.48 156.0,160.89 156.5,161.29 157.0,161.69 157.5,162.07 158.0,162.45 158.5,162.81 159.0,163.17 159.5,163.52 160.0,163.86 160.5,164.19 161.0,164.51 161.5,164.82 162.0,165.12 162.5,165.42 163.0,165.71 163.5,165.99 164.0,166.26 164.5,166.54 165.0,166.80 165.5,167.06 166.0,167.32 166.5,167.57 167.0,167.83 167.5,168.07 168.0,168.32 168.5,168.56 169.0,168.81 169.5,169.05 170.0,169.28 170.5,169.52 171.0,169.76 171.5,169.99 172.0,170.23 172.5,170.46 173.0,170.69 173.5,170.92 174.0,171.14 174.5,171.37 175.0,171.59 175.5,171.81 176.0,172.03 176.5,172.25 177.0,172.46 177.5,172.68 178.0,172.88 178.5,173.09 179.0,173.29 179.5,173.49 180.0,173.69 180.5,173.88 181.0,174.07 181.5,174.26 182.0,174.45 182.5,174.63 183.0,174.81 183.5,174.99 184.0,175.16 184.5,175.34 185.0,175.51 185.5,175.68 186.0,175.85 186.5,176.01 187.0,176.18 187.5,176.35 188.0,176.51 188.5,176.68 189.0,176.84 189.5,177.00 190.0,177.17 190.5,177.33 191.0,177.50 191.5,177.66 192.0,177.83 192.5,177.99 193.0,178.16 193.5,178.33 194.0,178.50 194.5,178.67 195.0,178.84 195.5,179.02 196.0,179.19 196.5,179.37 197.0,179.54 197.5,179.72 198.0,179.90 198.5,180.08 199.0,180.26 199.5,180.44 200.0,180.62 200.5,180.81 201.0,180.99 201.5,181.18 202.0,181.36 202.5,181.55 203.0,181.74 203.5,181.92 204.0,182.11 204.5,182.30 205.0,182.49 205.5,182.68 206.0,182.86 206.5,183.05 207.0,183.24 207.5,183.43 208.0,183.62 208.5,183.82 209.0,184.01 209.5,184.20 210.0,184.39 210.5,184.58 211.0,184.77 211.5,184.96 212.0,185.15 212.5,185.34 213.0,185.53 213.5,185.73 214.0,185.92 214.5,186.11 215.0,186.30 215.5,186.49 216.0,186.69 216.5,186.88 217.0,187.07 217.5,187.26 218.0,187.45 218.5,187.63 219.0,187.81 219.5,187.99 220.0,188.18 220.5,188.36 221.0,188.56 221.5,188.75 222.0,188.95 222.5,189.14 223.0,189.34 223.5,189.53 224.0,189.74 224.5,189.94 225.0,190.14 225.5,190.32 226.0,190.50 226.5,190.67 227.0,190.85 227.5,191.04 228.0,191.24 228.5,191.46 229.0,191.67 229.5,191.87 230.0,192.06 230.5,192.24 231.0,192.42 231.5,192.62 232.0,192.84 232.5,193.09 233.0,193.34 233.5,193.57 234.0,193.77 234.5,193.94 235.0,194.10 235.5,194.27 236.0,194.46 236.5,194.68 237.0,194.93 237.5,195.21 238.0,195.51 238.5,195.80 239.0,196.07 239.5,196.29 240.0,196.46 240.5,196.60 241.0,196.71 241.5,196.82 242.0,196.95 242.5,197.10 243.0,197.28 243.5,197.47 244.0,197.66 244.5,197.85 245.0,198.07 245.5,198.31 246.0,198.59 246.5,198.88 247.0,199.18 247.5,199.45 248.0,199.69 248.5,199.89 249.0,200.07 249.5,200.25 250.0,200.43 250.5,200.63 251.0,200.85 251.5,201.06 252.0,201.28 252.5,201.51 253.0,201.76 253.5,202.06 254.0,202.41 254.5,202.80 255.0,203.20 255.5,203.56 256.0,203.83 256.5,204.02 257.0,204.16 257.5,204.30 258.0,204.49 258.5,204.74 259.0,205.04 259.5,205.36 260.0,205.69 260.5,206.02 261.0,206.36 261.5,206.71 262.0,207.09 262.5,207.49 263.0,207.92 263.5,208.37 264.0,208.84 264.5,209.34 265.0,209.83 265.5,210.29 266.0,210.69 266.5,211.00 267.0,211.24 267.5,211.43 268.0,211.62 268.5,211.84 269.0,212.12 269.5,212.47 270.0,212.88 270.5,213.33 271.0,213.79 271.5,214.21 272.0,214.57 272.5,214.86 273.0,215.09 273.5,215.31 274.0,215.54 274.5,215.81 275.0,216.10 275.5,216.38 276.0,216.62 276.5,216.84 277.0,217.03 277.5,217.23 278.0,217.44 278.5,217.62 279.0,217.77 279.5,217.87 280.0,217.93 280.5,218.01 281.0,218.14 281.5,218.37 282.0,218.71 282.5,219.14 283.0,219.62 283.5,220.08 284.0,220.50 284.5,220.85 285.0,221.12 285.5,221.31 286.0,221.42 286.5,221.49 287.0,221.57 287.5,221.71 288.0,221.98 288.5,222.40 289.0,222.98 289.5,223.69 290.0,224.45 290.5,225.15 291.0,225.69 291.5,226.02 292.0,226.16 292.5,226.18 293.0,226.19 293.5,226.26 294.0,226.44 294.5,226.72 295.0,227.06 295.5,227.45 296.0,227.87 296.5,228.28 297.0,228.67 297.5,228.99 298.0,229.23 298.5,229.39 299.0,229.52 299.5,229.70 300.0,229.94 300.5,230.26 301.0,230.61 301.5,230.95 302.0,231.30 302.5,231.66 303.0,232.08 303.5,232.53 304.0,233.00 304.5,233.51 305.0,234.08 305.5,234.77 306.0,235.54 306.5,236.28 307.0,236.85 307.5,237.19 308.0,237.36 308.5,237.44 309.0,237.55 309.5,237.75 310.0,238.01 310.5,238.33 311.0,238.66 311.5,238.99 312.0,239.30 312.5,239.56 313.0,239.79 313.5,240.00 314.0,240.25 314.5,240.58 315.0,241.02 315.5,241.58 316.0,242.20 316.5,242.77 317.0,243.22 317.5,243.49 318.0,243.58 318.5,243.56 319.0,243.53 319.5,243.57 320.0,243.77 320.5,244.16 321.0,244.71 321.5,245.35 322.0,246.00 322.5,246.61 323.0,247.11 323.5,247.45 324.0,247.63 324.5,247.69 325.0,247.72 325.5,247.84 326.0,248.09 326.5,248.46 327.0,248.87 327.5,249.25 328.0,249.58 328.5,249.88 329.0,250.21 329.5,250.60 330.0,251.04 330.5,251.47 331.0,251.80 331.5,252.01 332.0,252.10 332.5,252.18 333.0,252.37 L333.0,266.60 332.5,266.09 332.0,265.52 331.5,264.97 331.0,264.50 330.5,264.16 330.0,263.94 329.5,263.81 329.0,263.75 328.5,263.71 328.0,263.63 327.5,263.42 327.0,263.04 326.5,262.48 326.0,261.78 325.5,261.06 325.0,260.38 324.5,259.83 324.0,259.44 323.5,259.20 323.0,259.01 322.5,258.78 322.0,258.42 321.5,257.97 321.0,257.48 320.5,257.03 320.0,256.60 319.5,256.13 319.0,255.58 318.5,254.99 318.0,254.43 317.5,253.96 317.0,253.58 316.5,253.25 316.0,252.90 315.5,252.45 315.0,251.93 314.5,251.37 314.0,250.83 313.5,250.38 313.0,250.00 312.5,249.69 312.0,249.40 311.5,249.10 311.0,248.77 310.5,248.42 310.0,248.13 309.5,247.91 309.0,247.78 308.5,247.68 308.0,247.61 307.5,247.56 307.0,247.58 306.5,247.66 306.0,247.67 305.5,247.46 305.0,246.95 304.5,246.21 304.0,245.42 303.5,244.78 303.0,244.39 302.5,244.24 302.0,244.23 301.5,244.23 301.0,244.15 300.5,243.97 300.0,243.67 299.5,243.27 299.0,242.79 298.5,242.26 298.0,241.73 297.5,241.24 297.0,240.85 296.5,240.53 296.0,240.26 295.5,239.98 295.0,239.68 294.5,239.41 294.0,239.18 293.5,238.99 293.0,238.80 292.5,238.55 292.0,238.23 291.5,237.83 291.0,237.39 290.5,236.95 290.0,236.54 289.5,236.20 289.0,235.91 288.5,235.67 288.0,235.43 287.5,235.20 287.0,234.95 286.5,234.70 286.0,234.48 285.5,234.28 285.0,234.09 284.5,233.89 284.0,233.62 283.5,233.32 283.0,233.01 282.5,232.74 282.0,232.52 281.5,232.31 281.0,232.06 280.5,231.73 280.0,231.31 279.5,230.85 279.0,230.37 278.5,229.92 278.0,229.49 277.5,229.12 277.0,228.81 276.5,228.59 276.0,228.45 275.5,228.37 275.0,228.30 274.5,228.19 274.0,227.97 273.5,227.65 273.0,227.26 272.5,226.85 272.0,226.45 271.5,226.09 271.0,225.75 270.5,225.41 270.0,225.05 269.5,224.66 269.0,224.24 268.5,223.81 268.0,223.40 267.5,223.05 267.0,222.79 266.5,222.58 266.0,222.35 265.5,222.05 265.0,221.64 264.5,221.16 264.0,220.69 263.5,220.28 263.0,219.92 262.5,219.59 262.0,219.25 261.5,218.89 261.0,218.52 260.5,218.17 260.0,217.88 259.5,217.63 259.0,217.42 258.5,217.22 258.0,217.01 257.5,216.78 257.0,216.50 256.5,216.18 256.0,215.80 255.5,215.40 255.0,215.03 254.5,214.71 254.0,214.47 253.5,214.28 253.0,214.10 252.5,213.88 252.0,213.64 251.5,213.37 251.0,213.09 250.5,212.82 250.0,212.54 249.5,212.24 249.0,211.94 248.5,211.64 248.0,211.35 247.5,211.10 247.0,210.88 246.5,210.71 246.0,210.57 245.5,210.44 245.0,210.29 244.5,210.11 244.0,209.89 243.5,209.63 243.0,209.34 242.5,209.05 242.0,208.78 241.5,208.57 241.0,208.42 240.5,208.29 240.0,208.16 239.5,208.01 239.0,207.83 238.5,207.63 238.0,207.42 237.5,207.20 237.0,206.97 236.5,206.72 236.0,206.46 235.5,206.20 235.0,205.92 234.5,205.65 234.0,205.39 233.5,205.16 233.0,204.99 232.5,204.85 232.0,204.74 231.5,204.61 231.0,204.45 230.5,204.25 230.0,204.03 229.5,203.80 229.0,203.58 228.5,203.38 228.0,203.20 227.5,203.04 227.0,202.91 226.5,202.78 226.0,202.63 225.5,202.46 225.0,202.26 224.5,202.04 224.0,201.81 223.5,201.58 223.0,201.36 222.5,201.16 222.0,200.97 221.5,200.78 221.0,200.60 220.5,200.42 220.0,200.25 219.5,200.06 219.0,199.87 218.5,199.68 218.0,199.48 217.5,199.28 217.0,199.08 216.5,198.88 216.0,198.67 215.5,198.47 215.0,198.26 214.5,198.05 214.0,197.84 213.5,197.63 213.0,197.42 212.5,197.20 212.0,196.99 211.5,196.77 211.0,196.55 210.5,196.33 210.0,196.11 209.5,195.90 209.0,195.68 208.5,195.46 208.0,195.24 207.5,195.03 207.0,194.81 206.5,194.60 206.0,194.39 205.5,194.18 205.0,193.98 204.5,193.77 204.0,193.57 203.5,193.38 203.0,193.19 202.5,193.00 202.0,192.82 201.5,192.64 201.0,192.47 200.5,192.30 200.0,192.13 199.5,191.97 199.0,191.81 198.5,191.66 198.0,191.51 197.5,191.36 197.0,191.22 196.5,191.08 196.0,190.94 195.5,190.80 195.0,190.67 194.5,190.54 194.0,190.41 193.5,190.29 193.0,190.17 192.5,190.04 192.0,189.92 191.5,189.80 191.0,189.68 190.5,189.56 190.0,189.45 189.5,189.33 189.0,189.21 188.5,189.09 188.0,188.98 187.5,188.86 187.0,188.74 186.5,188.62 186.0,188.50 185.5,188.38 185.0,188.25 184.5,188.13 184.0,188.00 183.5,187.87 183.0,187.74 182.5,187.61 182.0,187.48 181.5,187.34 181.0,187.20 180.5,187.06 180.0,186.92 179.5,186.78 179.0,186.63 178.5,186.48 178.0,186.33 177.5,186.18 177.0,186.02 176.5,185.86 176.0,185.71 175.5,185.54 175.0,185.38 174.5,185.22 174.0,185.05 173.5,184.88 173.0,184.71 172.5,184.54 172.0,184.37 171.5,184.20 171.0,184.02 170.5,183.85 170.0,183.67 169.5,183.49 169.0,183.31 168.5,183.14 168.0,182.95 167.5,182.77 167.0,182.59 166.5,182.41 166.0,182.23 165.5,182.04 165.0,181.86 164.5,181.67 164.0,181.49 163.5,181.30 163.0,181.11 162.5,180.93 162.0,180.74 161.5,180.55 161.0,180.36 160.5,180.18 160.0,179.99 159.5,179.80 159.0,179.61 158.5,179.42 158.0,179.23 157.5,179.03 157.0,178.84 156.5,178.65 156.0,178.46 155.5,178.26 155.0,178.07 154.5,177.87 154.0,177.68 153.5,177.48 153.0,177.28 152.5,177.08 152.0,176.89 151.5,176.69 151.0,176.49 150.5,176.29 150.0,176.09 149.5,175.89 149.0,175.68 148.5,175.48 148.0,175.28 147.5,175.08 147.0,174.87 146.5,174.67 146.0,174.46 145.5,174.26 145.0,174.05 144.5,173.84 144.0,173.64 143.5,173.43 143.0,173.22 142.5,173.01 142.0,172.80 141.5,172.59 141.0,172.37 140.5,172.16 140.0,171.94 139.5,171.72 139.0,171.50 138.5,171.28 138.0,171.06 137.5,170.83 137.0,170.61 136.5,170.38 136.0,170.15 135.5,169.92 135.0,169.69 134.5,169.46 134.0,169.23 133.5,168.99 133.0,168.76 132.5,168.53 132.0,168.29 131.5,168.06 131.0,167.83 130.5,167.60 130.0,167.37 129.5,167.15 129.0,166.92 128.5,166.70 128.0,166.48 127.5,166.27 127.0,166.06 126.5,165.85 126.0,165.64 125.5,165.44 125.0,165.25 124.5,165.06 124.0,164.87 123.5,164.69 123.0,164.52 122.5,164.35 122.0,164.18 121.5,164.02 121.0,163.87 120.5,163.72 120.0,163.57 119.5,163.43 119.0,163.30 118.5,163.17 118.0,163.04 117.5,162.92 117.0,162.80 116.5,162.69 116.0,162.58 115.5,162.47 115.0,162.36 114.5,162.26 114.0,162.16 113.5,162.06 113.0,161.97 112.5,161.88 112.0,161.78 111.5,161.69 111.0,161.60 110.5,161.52 110.0,161.43 109.5,161.34 109.0,161.26 108.5,161.17 108.0,161.09 107.5,161.00 107.0,160.92 106.5,160.83 106.0,160.74 105.5,160.66 105.0,160.57 104.5,160.48 104.0,160.39 103.5,160.30 103.0,160.21 102.5,160.12 102.0,160.03 101.5,159.93 101.0,159.83 100.5,159.73 100.0,159.63 99.5,159.53 99.0,159.43 98.5,159.32 98.0,159.22 97.5,159.11 97.0,159.00 96.5,158.89 96.0,158.77 95.5,158.66 95.0,158.54 94.5,158.43 94.0,158.31 93.5,158.19 93.0,158.08 92.5,157.96 92.0,157.84 91.5,157.72 91.0,157.60 90.5,157.49 90.0,157.37 89.5,157.25 89.0,157.14 88.5,157.02 88.0,156.91 87.5,156.80 87.0,156.69 86.5,156.58 86.0,156.47 85.5,156.37 85.0,156.27 84.5,156.17 84.0,156.07 83.5,155.97 83.0,155.88 82.5,155.79 82.0,155.70 81.5,155.61 81.0,155.53 80.5,155.45 80.0,155.36 79.5,155.29 79.0,155.21 78.5,155.13 78.0,155.06 77.5,154.99 77.0,154.91 76.5,154.84 76.0,154.77 75.5,154.71 75.0,154.64 74.5,154.57 74.0,154.51 73.5,154.44 73.0,154.38 72.5,154.31 72.0,154.25 71.5,154.19 71.0,154.13 70.5,154.07 70.0,154.01 69.5,153.95 69.0,153.89 68.5,153.83 68.0,153.78 67.5,153.72 67.0,153.66 66.5,153.61 66.0,153.56 65.5,153.51 65.0,153.45 64.5,153.40 64.0,153.36 63.5,153.31 63.0,153.26 62.5,153.22 62.0,153.17 61.5,153.13 61.0,153.09 60.5,153.04 60.0,153.00 59.5,152.97 59.0,152.93 58.5,152.89 58.0,152.86 57.5,152.82 57.0,152.79 56.5,152.76 56.0,152.73 55.5,152.70 55.0,152.68 54.5,152.65 54.0,152.62 53.5,152.60 53.0,152.57 52.5,152.55 52.0,152.53 51.5,152.50 Z" fill="#21918c" fill-opacity="0.30" stroke="none"/>
<path d="M51.5,147.90 52.0,147.91 52.5,147.92 53.0,147.93 53.5,147.94 54.0,147.94 54.5,147.95 55.0,147.97 55.5,147.98 56.0,147.99 56.5,148.00 57.0,148.02 57.5,148.03 58.0,148.05 58.5,148.07 59.0,148.09 59.5,148.11 60.0,148.13 60.5,148.15 61.0,148.17 61.5,148.19 62.0,148.22 62.5,148.25 63.0,148.27 63.5,148.30 64.0,148.33 64.5,148.36 65.0,148.39 65.5,148.42 66.0,148.46 66.5,148.49 67.0,148.53 67.5,148.56 68.0,148.60 68.5,148.64 69.0,148.68 69.5,148.72 70.0,148.76 70.5,148.80 71.0,148.84 71.5,148.88 72.0,148.93 72.5,148.97 73.0,149.02 73.5,149.07 74.0,149.12 74.5,149.17 75.0,149.22 75.5,149.27 76.0,149.33 76.5,149.38 77.0,149.44 77.5,149.51 78.0,149.57 78.5,149.64 79.0,149.72 79.5,149.79 80.0,149.88 80.5,149.96 81.0,150.06 81.5,150.15 82.0,150.26 82.5,150.37 83.0,150.48 83.5,150.60 84.0,150.73 84.5,150.87 85.0,151.01 85.5,151.15 86.0,151.30 86.5,151.45 87.0,151.61 87.5,151.78 88.0,151.95 88.5,152.12 89.0,152.29 89.5,152.47 90.0,152.64 90.5,152.82 91.0,153.00 91.5,153.18 92.0,153.36 92.5,153.54 93.0,153.71 93.5,153.89 94.0,154.06 94.5,154.23 95.0,154.40 95.5,154.56 96.0,154.72 96.5,154.87 97.0,155.02 97.5,155.17 98.0,155.31 98.5,155.44 99.0,155.57 99.5,155.69 100.0,155.81 100.5,155.93 101.0,156.04 101.5,156.14 102.0,156.25 102.5,156.34 103.0,156.44 103.5,156.52 104.0,156.61 104.5,156.69 105.0,156.77 105.5,156.85 106.0,156.93 106.5,157.00 107.0,157.07 107.5,157.14 108.0,157.21 108.5,157.28 109.0,157.35 109.5,157.42 110.0,157.49 110.5,157.56 111.0,157.63 111.5,157.70 112.0,157.77 112.5,157.85 113.0,157.92 113.5,158.00 114.0,158.08 114.5,158.16 115.0,158.25 115.5,158.34 116.0,158.43 116.5,158.53 117.0,158.63 117.5,158.74 118.0,158.85 118.5,158.97 119.0,159.09 119.5,159.23 120.0,159.37 120.5,159.51 121.0,159.67 121.5,159.83 122.0,160.00 122.5,160.18 123.0,160.36 123.5,160.56 124.0,160.76 124.5,160.97 125.0,161.19 125.5,161.41 126.0,161.64 126.5,161.88 127.0,162.12 127.5,162.37 128.0,162.63 128.5,162.89 129.0,163.15 129.5,163.42 130.0,163.68 130.5,163.96 131.0,164.23 131.5,164.50 132.0,164.78 132.5,165.05 133.0,165.32 133.5,165.60 134.0,165.87 134.5,166.13 135.0,166.40 135.5,166.66 136.0,166.92 136.5,167.18 137.0,167.43 137.5,167.68 138.0,167.92 138.5,168.16 139.0,168.39 139.5,168.63 140.0,168.85 140.5,169.08 141.0,169.29 141.5,169.51 142.0,169.72 142.5,169.93 143.0,170.14 143.5,170.34 144.0,170.54 144.5,170.74 145.0,170.93 145.5,171.13 146.0,171.32 146.5,171.51 147.0,171.70 147.5,171.88 148.0,172.07 148.5,172.25 149.0,172.43 149.5,172.61 150.0,172.79 150.5,172.96 151.0,173.13 151.5,173.31 152.0,173.48 152.5,173.64 153.0,173.81 153.5,173.97 154.0,174.14 154.5,174.30 155.0,174.46 155.5,174.61 156.0,174.77 156.5,174.92 157.0,175.07 157.5,175.22 158.0,175.36 158.5,175.50 159.0,175.65 159.5,175.78 160.0,175.92 160.5,176.06 161.0,176.19 161.5,176.32 162.0,176.44 162.5,176.57 163.0,176.69 163.5,176.82 164.0,176.94 164.5,177.05 165.0,177.17 165.5,177.28 166.0,177.40 166.5,177.51 167.0,177.62 167.5,177.73 168.0,177.84 168.5,177.94 169.0,178.05 169.5,178.16 170.0,178.27 170.5,178.37 171.0,178.48 171.5,178.59 172.0,178.69 172.5,178.80 173.0,178.91 173.5,179.02 174.0,179.13 174.5,179.24 175.0,179.35 175.5,179.47 176.0,179.58 176.5,179.70 177.0,179.82 177.5,179.94 178.0,180.07 178.5,180.19 179.0,180.32 179.5,180.45 180.0,180.58 180.5,180.72 181.0,180.85 181.5,180.99 182.0,181.13 182.5,181.28 183.0,181.42 183.5,181.57 184.0,181.72 184.5,181.87 185.0,182.02 185.5,182.18 186.0,182.33 186.5,182.49 187.0,182.65 187.5,182.81 188.0,182.97 188.5,183.13 189.0,183.30 189.5,183.46 190.0,183.63 190.5,183.79 191.0,183.96 191.5,184.12 192.0,184.29 192.5,184.46 193.0,184.62 193.5,184.79 194.0,184.95 194.5,185.12 195.0,185.29 195.5,185.45 196.0,185.62 196.5,185.79 197.0,185.95 197.5,186.12 198.0,186.28 198.5,186.45 199.0,186.61 199.5,186.78 200.0,186.95 200.5,187.12 201.0,187.28 201.5,187.45 202.0,187.62 202.5,187.79 203.0,187.96 203.5,188.14 204.0,188.31 204.5,188.49 205.0,188.67 205.5,188.85 206.0,189.03 206.5,189.21 207.0,189.40 207.5,189.59 208.0,189.78 208.5,189.98 209.0,190.18 209.5,190.38 210.0,190.58 210.5,190.79 211.0,191.00 211.5,191.21 212.0,191.43 212.5,191.65 213.0,191.88 213.5,192.10 214.0,192.33 214.5,192.57 215.0,192.80 215.5,193.04 216.0,193.28 216.5,193.53 217.0,193.79 217.5,194.04 218.0,194.30 218.5,194.56 219.0,194.82 219.5,195.08 220.0,195.33 220.5,195.57 221.0,195.80 221.5,196.04 222.0,196.29 222.5,196.55 223.0,196.84 223.5,197.15 224.0,197.47 224.5,197.81 225.0,198.14 225.5,198.47 226.0,198.78 226.5,199.07 227.0,199.32 227.5,199.56 228.0,199.80 228.5,200.05 229.0,200.32 229.5,200.61 230.0,200.92 230.5,201.24 231.0,201.56 231.5,201.89 232.0,202.23 232.5,202.57 233.0,202.89 233.5,203.18 234.0,203.43 234.5,203.65 235.0,203.86 235.5,204.06 236.0,204.25 236.5,204.44 237.0,204.62 237.5,204.78 238.0,204.93 238.5,205.08 239.0,205.23 239.5,205.42 240.0,205.63 240.5,205.88 241.0,206.13 241.5,206.37 242.0,206.57 242.5,206.75 243.0,206.92 243.5,207.10 244.0,207.30 244.5,207.50 245.0,207.69 245.5,207.85 246.0,207.96 246.5,208.04 247.0,208.12 247.5,208.22 248.0,208.37 248.5,208.58 249.0,208.84 249.5,209.13 250.0,209.43 250.5,209.70 251.0,209.96 251.5,210.20 252.0,210.43 252.5,210.66 253.0,210.91 253.5,211.20 254.0,211.55 254.5,211.98 255.0,212.48 255.5,213.00 256.0,213.52 256.5,213.99 257.0,214.41 257.5,214.78 258.0,215.14 258.5,215.52 259.0,215.94 259.5,216.39 260.0,216.89 260.5,217.41 261.0,217.96 261.5,218.49 262.0,218.96 262.5,219.34 263.0,219.63 263.5,219.86 264.0,220.09 264.5,220.39 265.0,220.77 265.5,221.24 266.0,221.75 266.5,222.28 267.0,222.79 267.5,223.25 268.0,223.67 268.5,224.02 269.0,224.31 269.5,224.53 270.0,224.70 270.5,224.84 271.0,224.97 271.5,225.10 272.0,225.22 272.5,225.35 273.0,225.51 273.5,225.72 274.0,226.02 274.5,226.40 275.0,226.86 275.5,227.38 276.0,227.93 276.5,228.48 277.0,229.01 277.5,229.50 278.0,229.95 278.5,230.36 279.0,230.73 279.5,231.07 280.0,231.40 280.5,231.72 281.0,232.07 281.5,232.45 282.0,232.86 282.5,233.28 283.0,233.71 283.5,234.11 284.0,234.49 284.5,234.83 285.0,235.14 285.5,235.45 286.0,235.82 286.5,236.27 287.0,236.80 287.5,237.36 288.0,237.90 288.5,238.37 289.0,238.73 289.5,238.99 290.0,239.14 290.5,239.18 291.0,239.14 291.5,239.10 292.0,239.10 292.5,239.18 293.0,239.36 293.5,239.61 294.0,239.91 294.5,240.24 295.0,240.56 295.5,240.84 296.0,241.08 296.5,241.26 297.0,241.40 297.5,241.54 298.0,241.70 298.5,241.90 299.0,242.16 299.5,242.52 300.0,242.99 300.5,243.52 301.0,244.07 301.5,244.58 302.0,245.02 302.5,245.39 303.0,245.70 303.5,245.96 304.0,246.17 304.5,246.29 305.0,246.32 305.5,246.26 306.0,246.19 306.5,246.14 307.0,246.15 307.5,246.22 308.0,246.32 308.5,246.43 309.0,246.54 309.5,246.66 310.0,246.79 310.5,246.97 311.0,247.20 311.5,247.51 312.0,247.88 312.5,248.31 313.0,248.77 313.5,249.23 314.0,249.65 314.5,250.01 315.0,250.28 315.5,250.50 316.0,250.72 316.5,251.01 317.0,251.36 317.5,251.74 318.0,252.08 318.5,252.33 319.0,252.48 319.5,252.50 320.0,252.42 320.5,252.23 321.0,251.97 321.5,251.73 322.0,251.63 322.5,251.75 323.0,252.11 323.5,252.64 324.0,253.21 324.5,253.69 325.0,254.03 325.5,254.28 326.0,254.53 326.5,254.84 327.0,255.20 327.5,255.56 328.0,255.82 328.5,255.93 329.0,255.94 329.5,255.91 330.0,255.92 330.5,255.97 331.0,256.07 331.5,256.17 332.0,256.28 332.5,256.38 333.0,256.48 L333.0,270.42 332.5,270.25 332.0,270.17 331.5,270.04 331.0,269.77 330.5,269.34 330.0,268.79 329.5,268.20 329.0,267.66 328.5,267.19 328.0,266.80 327.5,266.47 327.0,266.19 326.5,265.94 326.0,265.68 325.5,265.37 325.0,264.98 324.5,264.50 324.0,263.95 323.5,263.39 323.0,262.87 322.5,262.42 322.0,262.07 321.5,261.80 321.0,261.60 320.5,261.42 320.0,261.20 319.5,260.90 319.0,260.51 318.5,260.02 318.0,259.48 317.5,258.97 317.0,258.57 316.5,258.31 316.0,258.19 315.5,258.16 315.0,258.17 314.5,258.16 314.0,258.11 313.5,257.98 313.0,257.79 312.5,257.53 312.0,257.25 311.5,256.95 311.0,256.64 310.5,256.30 310.0,255.95 309.5,255.60 309.0,255.25 308.5,254.89 308.0,254.50 307.5,254.06 307.0,253.61 306.5,253.22 306.0,252.93 305.5,252.76 305.0,252.65 304.5,252.55 304.0,252.43 303.5,252.29 303.0,252.13 302.5,251.98 302.0,251.82 301.5,251.67 301.0,251.51 300.5,251.33 300.0,251.13 299.5,250.89 299.0,250.62 298.5,250.35 298.0,250.13 297.5,250.00 297.0,249.98 296.5,250.06 296.0,250.18 295.5,250.25 295.0,250.20 294.5,249.97 294.0,249.57 293.5,249.11 293.0,248.68 292.5,248.36 292.0,248.15 291.5,247.99 291.0,247.81 290.5,247.57 290.0,247.26 289.5,246.90 289.0,246.52 288.5,246.15 288.0,245.84 287.5,245.60 287.0,245.46 286.5,245.39 286.0,245.35 285.5,245.28 285.0,245.10 284.5,244.78 284.0,244.29 283.5,243.68 283.0,243.04 282.5,242.45 282.0,241.97 281.5,241.63 281.0,241.37 280.5,241.15 280.0,240.93 279.5,240.69 279.0,240.43 278.5,240.11 278.0,239.72 277.5,239.27 277.0,238.78 276.5,238.30 276.0,237.89 275.5,237.54 275.0,237.26 274.5,237.00 274.0,236.74 273.5,236.43 273.0,236.05 272.5,235.59 272.0,235.06 271.5,234.52 271.0,234.02 270.5,233.62 270.0,233.32 269.5,233.10 269.0,232.93 268.5,232.76 268.0,232.56 267.5,232.30 267.0,231.94 266.5,231.49 266.0,230.95 265.5,230.37 265.0,229.83 264.5,229.39 264.0,229.08 263.5,228.88 263.0,228.76 262.5,228.64 262.0,228.50 261.5,228.33 261.0,228.12 260.5,227.89 260.0,227.64 259.5,227.37 259.0,227.08 258.5,226.78 258.0,226.50 257.5,226.26 257.0,226.11 256.5,226.04 256.0,226.03 255.5,226.03 255.0,225.97 254.5,225.85 254.0,225.63 253.5,225.35 253.0,225.02 252.5,224.68 252.0,224.37 251.5,224.09 251.0,223.86 250.5,223.65 250.0,223.46 249.5,223.28 249.0,223.10 248.5,222.90 248.0,222.66 247.5,222.38 247.0,222.06 246.5,221.75 246.0,221.46 245.5,221.21 245.0,220.99 244.5,220.80 244.0,220.63 243.5,220.45 243.0,220.25 242.5,220.02 242.0,219.79 241.5,219.54 241.0,219.30 240.5,219.06 240.0,218.84 239.5,218.62 239.0,218.39 238.5,218.15 238.0,217.88 237.5,217.59 237.0,217.27 236.5,216.95 236.0,216.63 235.5,216.33 235.0,216.07 234.5,215.83 234.0,215.61 233.5,215.39 233.0,215.16 232.5,214.89 232.0,214.59 231.5,214.26 231.0,213.91 230.5,213.57 230.0,213.24 229.5,212.94 229.0,212.66 228.5,212.40 228.0,212.16 227.5,211.94 227.0,211.71 226.5,211.49 226.0,211.25 225.5,210.99 225.0,210.72 224.5,210.44 224.0,210.17 223.5,209.91 223.0,209.66 222.5,209.43 222.0,209.21 221.5,209.00 221.0,208.78 220.5,208.56 220.0,208.34 219.5,208.11 219.0,207.88 218.5,207.65 218.0,207.42 217.5,207.19 217.0,206.96 216.5,206.74 216.0,206.53 215.5,206.31 215.0,206.10 214.5,205.89 214.0,205.68 213.5,205.47 213.0,205.26 212.5,205.05 212.0,204.85 211.5,204.64 211.0,204.43 210.5,204.23 210.0,204.03 209.5,203.83 209.0,203.63 208.5,203.43 208.0,203.23 207.5,203.03 207.0,202.84 206.5,202.64 206.0,202.45 205.5,202.25 205.0,202.06 204.5,201.87 204.0,201.68 203.5,201.49 203.0,201.30 202.5,201.11 202.0,200.92 201.5,200.74 201.0,200.55 200.5,200.36 200.0,200.17 199.5,199.98 199.0,199.79 198.5,199.61 198.0,199.42 197.5,199.23 197.0,199.04 196.5,198.84 196.0,198.65 195.5,198.46 195.0,198.27 194.5,198.07 194.0,197.88 193.5,197.68 193.0,197.48 192.5,197.29 192.0,197.09 191.5,196.89 191.0,196.69 190.5,196.49 190.0,196.29 189.5,196.10 189.0,195.90 188.5,195.70 188.0,195.50 187.5,195.31 187.0,195.11 186.5,194.92 186.0,194.73 185.5,194.54 185.0,194.35 184.5,194.16 184.0,193.98 183.5,193.79 183.0,193.61 182.5,193.43 182.0,193.26 181.5,193.08 181.0,192.91 180.5,192.74 180.0,192.57 179.5,192.41 179.0,192.24 178.5,192.08 178.0,191.92 177.5,191.76 177.0,191.60 176.5,191.45 176.0,191.29 175.5,191.14 175.0,190.99 174.5,190.84 174.0,190.69 173.5,190.55 173.0,190.40 172.5,190.26 172.0,190.12 171.5,189.98 171.0,189.84 170.5,189.70 170.0,189.57 169.5,189.43 169.0,189.30 168.5,189.17 168.0,189.05 167.5,188.92 167.0,188.80 166.5,188.68 166.0,188.56 165.5,188.44 165.0,188.33 164.5,188.22 164.0,188.11 163.5,188.00 163.0,187.90 162.5,187.79 162.0,187.70 161.5,187.60 161.0,187.51 160.5,187.42 160.0,187.33 159.5,187.24 159.0,187.16 158.5,187.08 158.0,187.00 157.5,186.92 157.0,186.85 156.5,186.78 156.0,186.71 155.5,186.64 155.0,186.58 154.5,186.52 154.0,186.45 153.5,186.39 153.0,186.33 152.5,186.27 152.0,186.22 151.5,186.16 151.0,186.10 150.5,186.04 150.0,185.99 149.5,185.93 149.0,185.87 148.5,185.82 148.0,185.76 147.5,185.70 147.0,185.64 146.5,185.57 146.0,185.51 145.5,185.45 145.0,185.38 144.5,185.31 144.0,185.23 143.5,185.16 143.0,185.08 142.5,184.99 142.0,184.91 141.5,184.81 141.0,184.72 140.5,184.62 140.0,184.51 139.5,184.40 139.0,184.29 138.5,184.16 138.0,184.04 137.5,183.91 137.0,183.77 136.5,183.63 136.0,183.48 135.5,183.32 135.0,183.17 134.5,183.00 134.0,182.84 133.5,182.67 133.0,182.49 132.5,182.32 132.0,182.14 131.5,181.95 131.0,181.77 130.5,181.59 130.0,181.40 129.5,181.21 129.0,181.03 128.5,180.84 128.0,180.66 127.5,180.48 127.0,180.30 126.5,180.12 126.0,179.94 125.5,179.77 125.0,179.60 124.5,179.44 124.0,179.28 123.5,179.12 123.0,178.97 122.5,178.83 122.0,178.69 121.5,178.55 121.0,178.42 120.5,178.29 120.0,178.17 119.5,178.05 119.0,177.94 118.5,177.83 118.0,177.73 117.5,177.63 117.0,177.53 116.5,177.44 116.0,177.35 115.5,177.26 115.0,177.18 114.5,177.09 114.0,177.01 113.5,176.93 113.0,176.86 112.5,176.78 112.0,176.71 111.5,176.63 111.0,176.56 110.5,176.49 110.0,176.42 109.5,176.35 109.0,176.28 108.5,176.21 108.0,176.14 107.5,176.07 107.0,176.00 106.5,175.93 106.0,175.86 105.5,175.79 105.0,175.72 104.5,175.65 104.0,175.57 103.5,175.50 103.0,175.42 102.5,175.35 102.0,175.27 101.5,175.19 101.0,175.11 100.5,175.02 100.0,174.94 99.5,174.85 99.0,174.76 98.5,174.67 98.0,174.58 97.5,174.49 97.0,174.39 96.5,174.30 96.0,174.20 95.5,174.10 95.0,174.00 94.5,173.90 94.0,173.80 93.5,173.70 93.0,173.60 92.5,173.49 92.0,173.39 91.5,173.28 91.0,173.18 90.5,173.08 90.0,172.97 89.5,172.87 89.0,172.77 88.5,172.67 88.0,172.57 87.5,172.47 87.0,172.37 86.5,172.27 86.0,172.17 85.5,172.08 85.0,171.99 84.5,171.90 84.0,171.81 83.5,171.72 83.0,171.63 82.5,171.55 82.0,171.47 81.5,171.39 81.0,171.31 80.5,171.23 80.0,171.15 79.5,171.08 79.0,171.01 78.5,170.94 78.0,170.87 77.5,170.80 77.0,170.73 76.5,170.66 76.0,170.60 75.5,170.53 75.0,170.47 74.5,170.40 74.0,170.34 73.5,170.28 73.0,170.22 72.5,170.16 72.0,170.10 71.5,170.04 71.0,169.98 70.5,169.92 70.0,169.86 69.5,169.80 69.0,169.75 68.5,169.69 68.0,169.64 67.5,169.58 67.0,169.53 66.5,169.48 66.0,169.42 65.5,169.37 65.0,169.32 64.5,169.27 64.0,169.22 63.5,169.18 63.0,169.13 62.5,169.08 62.0,169.04 61.5,168.99 61.0,168.95 60.5,168.91 60.0,168.87 59.5,168.83 59.0,168.79 58.5,168.75 58.0,168.71 57.5,168.68 57.0,168.64 56.5,168.61 56.0,168.57 55.5,168.54 55.0,168.51 54.5,168.48 54.0,168.45 53.5,168.42 53.0,168.39 52.5,168.36 52.0,168.33 51.5,168.30 Z" fill="#7ad151" fill-opacity="0.30" stroke="none"/>
<path d="M51.5,52.50 52.0,52.57 52.5,52.64 53.0,52.72 53.5,52.79 54.0,52.86 54.5,52.93 55.0,53.00 55.5,53.07 56.0,53.14 56.5,53.21 57.0,53.28 57.5,53.34 58.0,53.41 58.5,53.47 59.0,53.53 59.5,53.59 60.0,53.65 60.5,53.71 61.0,53.77 61.5,53.83 62.0,53.88 62.5,53.94 63.0,53.99 63.5,54.04 64.0,54.10 64.5,54.15 65.0,54.20 65.5,54.25 66.0,54.30 66.5,54.35 67.0,54.40 67.5,54.44 68.0,54.49 68.5,54.54 69.0,54.59 69.5,54.64 70.0,54.69 70.5,54.74 71.0,54.80 71.5,54.85 72.0,54.90 72.5,54.96 73.0,55.01 73.5,55.07 74.0,55.13 74.5,55.19 75.0,55.25 75.5,55.31 76.0,55.37 76.5,55.44 77.0,55.50 77.5,55.57 78.0,55.64 78.5,55.71 79.0,55.78 79.5,55.85 80.0,55.92 80.5,56.00 81.0,56.07 81.5,56.15 82.0,56.23 82.5,56.31 83.0,56.39 83.5,56.47 84.0,56.55 84.5,56.64 85.0,56.72 85.5,56.81 86.0,56.90 86.5,56.99 87.0,57.07 87.5,57.17 88.0,57.26 88.5,57.35 89.0,57.44 89.5,57.54 90.0,57.64 90.5,57.73 91.0,57.83 91.5,57.93 92.0,58.03 92.5,58.13 93.0,58.24 93.5,58.34 94.0,58.45 94.5,58.55 95.0,58.66 95.5,58.77 96.0,58.88 96.5,58.99 97.0,59.11 97.5,59.22 98.0,59.34 98.5,59.45 99.0,59.57 99.5,59.69 100.0,59.81 100.5,59.94 101.0,60.06 101.5,60.19 102.0,60.31 102.5,60.44 103.0,60.57 103.5,60.70 104.0,60.84 104.5,60.97 105.0,61.11 105.5,61.25 106.0,61.39 106.5,61.53 107.0,61.67 107.5,61.82 108.0,61.96 108.5,62.11 109.0,62.26 109.5,62.42 110.0,62.57 110.5,62.73 111.0,62.89 111.5,63.05 112.0,63.21 112.5,63.38 113.0,63.55 113.5,63.72 114.0,63.89 114.5,64.07 115.0,64.25 115.5,64.43 116.0,64.61 116.5,64.79 117.0,64.98 117.5,65.17 118.0,65.36 118.5,65.56 119.0,65.75 119.5,65.95 120.0,66.15 120.5,66.36 121.0,66.56 121.5,66.77 122.0,66.98 122.5,67.19 123.0,67.40 123.5,67.62 124.0,67.83 124.5,68.05 125.0,68.27 125.5,68.49 126.0,68.71 126.5,68.94 127.0,69.16 127.5,69.39 128.0,69.62 128.5,69.85 129.0,70.09 129.5,70.32 130.0,70.56 130.5,70.80 131.0,71.04 131.5,71.28 132.0,71.52 132.5,71.77 133.0,72.02 133.5,72.27 134.0,72.52 134.5,72.78 135.0,73.04 135.5,73.30 136.0,73.56 136.5,73.82 137.0,74.09 137.5,74.36 138.0,74.63 138.5,74.90 139.0,75.18 139.5,75.46 140.0,75.74 140.5,76.02 141.0,76.31 141.5,76.60 142.0,76.89 142.5,77.18 143.0,77.48 143.5,77.78 144.0,78.08 144.5,78.38 145.0,78.69 145.5,79.00 146.0,79.31 146.5,79.63 147.0,79.94 147.5,80.26 148.0,80.59 148.5,80.91 149.0,81.25 149.5,81.58 150.0,81.92 150.5,82.26 151.0,82.60 151.5,82.95 152.0,83.31 152.5,83.67 153.0,84.03 153.5,84.40 154.0,84.78 154.5,85.16 155.0,85.54 155.5,85.94 156.0,86.34 156.5,86.74 157.0,87.16 157.5,87.58 158.0,88.01 158.5,88.44 159.0,88.89 159.5,89.34 160.0,89.80 160.5,90.27 161.0,90.75 161.5,91.23 162.0,91.73 162.5,92.23 163.0,92.74 163.5,93.26 164.0,93.79 164.5,94.33 165.0,94.87 165.5,95.42 166.0,95.98 166.5,96.55 167.0,97.12 167.5,97.70 168.0,98.29 168.5,98.88 169.0,99.47 169.5,100.07 170.0,100.68 170.5,101.28 171.0,101.90 171.5,102.51 172.0,103.12 172.5,103.74 173.0,104.35 173.5,104.97 174.0,105.58 174.5,106.20 175.0,106.81 175.5,107.42 176.0,108.03 176.5,108.64 177.0,109.25 177.5,109.85 178.0,110.46 178.5,111.07 179.0,111.68 179.5,112.29 180.0,112.91 180.5,113.53 181.0,114.15 181.5,114.78 182.0,115.42 182.5,116.07 183.0,116.73 183.5,117.40 184.0,118.08 184.5,118.77 185.0,119.47 185.5,120.19 186.0,120.91 186.5,121.65 187.0,122.39 187.5,123.15 188.0,123.91 188.5,124.69 189.0,125.47 189.5,126.26 190.0,127.05 190.5,127.85 191.0,128.66 191.5,129.47 192.0,130.28 192.5,131.09 193.0,131.91 193.5,132.73 194.0,133.54 194.5,134.36 195.0,135.17 195.5,135.99 196.0,136.80 196.5,137.61 197.0,138.42 197.5,139.22 198.0,140.02 198.5,140.82 199.0,141.61 199.5,142.39 200.0,143.17 200.5,143.93 201.0,144.69 201.5,145.45 202.0,146.19 202.5,146.92 203.0,147.64 203.5,148.35 204.0,149.06 204.5,149.75 205.0,150.43 205.5,151.11 206.0,151.77 206.5,152.43 207.0,153.08 207.5,153.72 208.0,154.35 208.5,154.98 209.0,155.60 209.5,156.21 210.0,156.82 210.5,157.42 211.0,158.01 211.5,158.60 212.0,159.18 212.5,159.76 213.0,160.33 213.5,160.90 214.0,161.46 214.5,162.02 215.0,162.58 215.5,163.13 216.0,163.68 216.5,164.23 217.0,164.77 217.5,165.31 218.0,165.84 218.5,166.36 219.0,166.87 219.5,167.38 220.0,167.87 220.5,168.36 221.0,168.84 221.5,169.31 222.0,169.77 222.5,170.22 223.0,170.68 223.5,171.13 224.0,171.58 224.5,172.01 225.0,172.43 225.5,172.84 226.0,173.22 226.5,173.58 227.0,173.93 227.5,174.28 228.0,174.63 228.5,174.98 229.0,175.33 229.5,175.69 230.0,176.04 230.5,176.38 231.0,176.71 231.5,177.03 232.0,177.33 232.5,177.61 233.0,177.89 233.5,178.16 234.0,178.42 234.5,178.69 235.0,178.96 235.5,179.24 236.0,179.52 236.5,179.82 237.0,180.11 237.5,180.39 238.0,180.67 238.5,180.93 239.0,181.20 239.5,181.49 240.0,181.79 240.5,182.10 241.0,182.40 241.5,182.67 242.0,182.92 242.5,183.12 243.0,183.31 243.5,183.47 244.0,183.63 244.5,183.80 245.0,183.98 245.5,184.17 246.0,184.37 246.5,184.58 247.0,184.81 247.5,185.07 248.0,185.35 248.5,185.64 249.0,185.91 249.5,186.15 250.0,186.36 250.5,186.54 251.0,186.70 251.5,186.85 252.0,187.00 252.5,187.18 253.0,187.40 253.5,187.65 254.0,187.94 254.5,188.24 255.0,188.54 255.5,188.81 256.0,189.04 256.5,189.24 257.0,189.40 257.5,189.54 258.0,189.69 258.5,189.84 259.0,190.01 259.5,190.18 260.0,190.35 260.5,190.53 261.0,190.72 261.5,190.93 262.0,191.16 262.5,191.40 263.0,191.64 263.5,191.86 264.0,192.08 264.5,192.28 265.0,192.47 265.5,192.66 266.0,192.85 266.5,193.04 267.0,193.23 267.5,193.43 268.0,193.66 268.5,193.92 269.0,194.23 269.5,194.58 270.0,194.98 270.5,195.38 271.0,195.78 271.5,196.15 272.0,196.46 272.5,196.72 273.0,196.96 273.5,197.22 274.0,197.53 274.5,197.92 275.0,198.37 275.5,198.85 276.0,199.36 276.5,199.87 277.0,200.35 277.5,200.78 278.0,201.14 278.5,201.43 279.0,201.70 279.5,201.98 280.0,202.32 280.5,202.70 281.0,203.11 281.5,203.51 282.0,203.88 282.5,204.22 283.0,204.57 283.5,204.96 284.0,205.41 284.5,205.90 285.0,206.39 285.5,206.85 286.0,207.26 286.5,207.62 287.0,207.94 287.5,208.24 288.0,208.55 288.5,208.91 289.0,209.32 289.5,209.79 290.0,210.27 290.5,210.72 291.0,211.11 291.5,211.43 292.0,211.70 292.5,211.93 293.0,212.17 293.5,212.44 294.0,212.77 294.5,213.14 295.0,213.55 295.5,213.97 296.0,214.38 296.5,214.78 297.0,215.15 297.5,215.48 298.0,215.79 298.5,216.08 299.0,216.38 299.5,216.71 300.0,217.09 300.5,217.51 301.0,217.97 301.5,218.42 302.0,218.84 302.5,219.20 303.0,219.51 303.5,219.77 304.0,219.98 304.5,220.17 305.0,220.37 305.5,220.59 306.0,220.85 306.5,221.10 307.0,221.34 307.5,221.57 308.0,221.84 308.5,222.17 309.0,222.58 309.5,223.03 310.0,223.45 310.5,223.77 311.0,223.98 311.5,224.09 312.0,224.20 312.5,224.37 313.0,224.66 313.5,225.07 314.0,225.53 314.5,225.97 315.0,226.32 315.5,226.60 316.0,226.84 316.5,227.08 317.0,227.34 317.5,227.62 318.0,227.90 318.5,228.16 319.0,228.39 319.5,228.63 320.0,228.92 320.5,229.30 321.0,229.78 321.5,230.31 322.0,230.85 322.5,231.38 323.0,231.88 323.5,232.40 324.0,232.95 324.5,233.52 325.0,234.09 325.5,234.62 326.0,235.12 326.5,235.57 327.0,235.98 327.5,236.37 328.0,236.72 328.5,237.06 329.0,237.37 329.5,237.68 330.0,238.01 330.5,238.40 331.0,238.88 331.5,239.46 332.0,240.09 332.5,240.73 333.0,241.32" fill="none" stroke="#440154" stroke-width="2.1" stroke-linejoin="round" stroke-linecap="butt"/>
<path d="M51.5,110.70 52.0,110.74 52.5,110.78 53.0,110.82 53.5,110.85 54.0,110.89 54.5,110.93 55.0,110.97 55.5,111.01 56.0,111.05 56.5,111.10 57.0,111.14 57.5,111.18 58.0,111.23 58.5,111.27 59.0,111.32 59.5,111.36 60.0,111.41 60.5,111.46 61.0,111.51 61.5,111.56 62.0,111.61 62.5,111.66 63.0,111.71 63.5,111.77 64.0,111.82 64.5,111.88 65.0,111.93 65.5,111.99 66.0,112.05 66.5,112.10 67.0,112.16 67.5,112.22 68.0,112.28 68.5,112.34 69.0,112.40 69.5,112.47 70.0,112.53 70.5,112.59 71.0,112.66 71.5,112.73 72.0,112.79 72.5,112.86 73.0,112.93 73.5,113.00 74.0,113.07 74.5,113.15 75.0,113.22 75.5,113.30 76.0,113.37 76.5,113.45 77.0,113.53 77.5,113.61 78.0,113.69 78.5,113.77 79.0,113.85 79.5,113.94 80.0,114.02 80.5,114.11 81.0,114.20 81.5,114.28 82.0,114.37 82.5,114.46 83.0,114.56 83.5,114.65 84.0,114.74 84.5,114.83 85.0,114.93 85.5,115.03 86.0,115.12 86.5,115.22 87.0,115.32 87.5,115.42 88.0,115.52 88.5,115.63 89.0,115.73 89.5,115.84 90.0,115.94 90.5,116.05 91.0,116.16 91.5,116.27 92.0,116.38 92.5,116.50 93.0,116.61 93.5,116.73 94.0,116.85 94.5,116.97 95.0,117.09 95.5,117.21 96.0,117.34 96.5,117.46 97.0,117.59 97.5,117.72 98.0,117.85 98.5,117.98 99.0,118.12 99.5,118.25 100.0,118.39 100.5,118.52 101.0,118.66 101.5,118.80 102.0,118.95 102.5,119.09 103.0,119.23 103.5,119.38 104.0,119.53 104.5,119.67 105.0,119.82 105.5,119.97 106.0,120.12 106.5,120.28 107.0,120.43 107.5,120.58 108.0,120.74 108.5,120.90 109.0,121.05 109.5,121.21 110.0,121.37 110.5,121.53 111.0,121.69 111.5,121.86 112.0,122.02 112.5,122.19 113.0,122.35 113.5,122.52 114.0,122.69 114.5,122.86 115.0,123.03 115.5,123.21 116.0,123.38 116.5,123.56 117.0,123.74 117.5,123.92 118.0,124.10 118.5,124.28 119.0,124.46 119.5,124.65 120.0,124.84 120.5,125.03 121.0,125.22 121.5,125.41 122.0,125.61 122.5,125.80 123.0,126.00 123.5,126.20 124.0,126.40 124.5,126.61 125.0,126.82 125.5,127.03 126.0,127.24 126.5,127.45 127.0,127.67 127.5,127.89 128.0,128.11 128.5,128.33 129.0,128.56 129.5,128.80 130.0,129.03 130.5,129.27 131.0,129.51 131.5,129.76 132.0,130.01 132.5,130.27 133.0,130.53 133.5,130.79 134.0,131.06 134.5,131.34 135.0,131.62 135.5,131.90 136.0,132.19 136.5,132.48 137.0,132.78 137.5,133.08 138.0,133.38 138.5,133.69 139.0,134.00 139.5,134.32 140.0,134.63 140.5,134.95 141.0,135.27 141.5,135.59 142.0,135.91 142.5,136.23 143.0,136.55 143.5,136.87 144.0,137.19 144.5,137.51 145.0,137.82 145.5,138.14 146.0,138.45 146.5,138.76 147.0,139.07 147.5,139.38 148.0,139.68 148.5,139.99 149.0,140.29 149.5,140.59 150.0,140.89 150.5,141.18 151.0,141.48 151.5,141.78 152.0,142.08 152.5,142.38 153.0,142.68 153.5,142.98 154.0,143.28 154.5,143.59 155.0,143.90 155.5,144.22 156.0,144.54 156.5,144.86 157.0,145.20 157.5,145.54 158.0,145.88 158.5,146.24 159.0,146.60 159.5,146.96 160.0,147.34 160.5,147.72 161.0,148.11 161.5,148.51 162.0,148.91 162.5,149.32 163.0,149.74 163.5,150.16 164.0,150.58 164.5,151.01 165.0,151.44 165.5,151.87 166.0,152.30 166.5,152.73 167.0,153.16 167.5,153.59 168.0,154.02 168.5,154.44 169.0,154.87 169.5,155.29 170.0,155.71 170.5,156.13 171.0,156.55 171.5,156.97 172.0,157.38 172.5,157.80 173.0,158.22 173.5,158.63 174.0,159.05 174.5,159.47 175.0,159.89 175.5,160.31 176.0,160.74 176.5,161.16 177.0,161.59 177.5,162.02 178.0,162.45 178.5,162.88 179.0,163.32 179.5,163.75 180.0,164.18 180.5,164.62 181.0,165.05 181.5,165.48 182.0,165.91 182.5,166.34 183.0,166.77 183.5,167.20 184.0,167.62 184.5,168.04 185.0,168.45 185.5,168.86 186.0,169.27 186.5,169.67 187.0,170.06 187.5,170.45 188.0,170.83 188.5,171.21 189.0,171.58 189.5,171.93 190.0,172.29 190.5,172.63 191.0,172.97 191.5,173.30 192.0,173.62 192.5,173.93 193.0,174.24 193.5,174.53 194.0,174.83 194.5,175.11 195.0,175.40 195.5,175.67 196.0,175.95 196.5,176.22 197.0,176.49 197.5,176.75 198.0,177.02 198.5,177.28 199.0,177.55 199.5,177.82 200.0,178.09 200.5,178.35 201.0,178.62 201.5,178.90 202.0,179.17 202.5,179.44 203.0,179.72 203.5,179.99 204.0,180.27 204.5,180.54 205.0,180.81 205.5,181.08 206.0,181.35 206.5,181.62 207.0,181.88 207.5,182.14 208.0,182.39 208.5,182.64 209.0,182.88 209.5,183.12 210.0,183.35 210.5,183.58 211.0,183.80 211.5,184.01 212.0,184.23 212.5,184.43 213.0,184.63 213.5,184.83 214.0,185.02 214.5,185.21 215.0,185.40 215.5,185.58 216.0,185.76 216.5,185.93 217.0,186.11 217.5,186.28 218.0,186.45 218.5,186.61 219.0,186.78 219.5,186.94 220.0,187.11 220.5,187.27 221.0,187.44 221.5,187.60 222.0,187.77 222.5,187.93 223.0,188.10 223.5,188.26 224.0,188.43 224.5,188.59 225.0,188.75 225.5,188.91 226.0,189.06 226.5,189.21 227.0,189.34 227.5,189.47 228.0,189.60 228.5,189.74 229.0,189.91 229.5,190.09 230.0,190.28 230.5,190.47 231.0,190.65 231.5,190.81 232.0,190.94 232.5,191.05 233.0,191.15 233.5,191.25 234.0,191.35 234.5,191.46 235.0,191.59 235.5,191.72 236.0,191.85 236.5,191.98 237.0,192.09 237.5,192.17 238.0,192.25 238.5,192.33 239.0,192.43 239.5,192.56 240.0,192.73 240.5,192.93 241.0,193.15 241.5,193.38 242.0,193.61 242.5,193.83 243.0,194.05 243.5,194.24 244.0,194.43 244.5,194.61 245.0,194.78 245.5,194.97 246.0,195.17 246.5,195.39 247.0,195.60 247.5,195.80 248.0,195.99 248.5,196.16 249.0,196.32 249.5,196.48 250.0,196.63 250.5,196.78 251.0,196.96 251.5,197.15 252.0,197.35 252.5,197.55 253.0,197.74 253.5,197.92 254.0,198.09 254.5,198.26 255.0,198.45 255.5,198.66 256.0,198.89 256.5,199.15 257.0,199.45 257.5,199.78 258.0,200.10 258.5,200.42 259.0,200.71 259.5,200.98 260.0,201.26 260.5,201.54 261.0,201.83 261.5,202.13 262.0,202.43 262.5,202.73 263.0,203.04 263.5,203.35 264.0,203.67 264.5,204.01 265.0,204.35 265.5,204.66 266.0,204.93 266.5,205.15 267.0,205.32 267.5,205.48 268.0,205.64 268.5,205.83 269.0,206.07 269.5,206.37 270.0,206.70 270.5,207.04 271.0,207.35 271.5,207.63 272.0,207.90 272.5,208.16 273.0,208.45 273.5,208.78 274.0,209.13 274.5,209.50 275.0,209.87 275.5,210.23 276.0,210.58 276.5,210.90 277.0,211.19 277.5,211.48 278.0,211.80 278.5,212.17 279.0,212.59 279.5,213.02 280.0,213.43 280.5,213.79 281.0,214.08 281.5,214.32 282.0,214.53 282.5,214.76 283.0,215.02 283.5,215.33 284.0,215.67 284.5,216.00 285.0,216.31 285.5,216.57 286.0,216.82 286.5,217.08 287.0,217.39 287.5,217.75 288.0,218.16 288.5,218.60 289.0,219.05 289.5,219.50 290.0,219.94 290.5,220.40 291.0,220.87 291.5,221.37 292.0,221.91 292.5,222.50 293.0,223.12 293.5,223.75 294.0,224.37 294.5,224.94 295.0,225.46 295.5,225.93 296.0,226.38 296.5,226.82 297.0,227.26 297.5,227.70 298.0,228.12 298.5,228.51 299.0,228.86 299.5,229.15 300.0,229.42 300.5,229.69 301.0,230.02 301.5,230.42 302.0,230.86 302.5,231.28 303.0,231.63 303.5,231.90 304.0,232.10 304.5,232.28 305.0,232.50 305.5,232.81 306.0,233.24 306.5,233.77 307.0,234.38 307.5,235.02 308.0,235.63 308.5,236.17 309.0,236.61 309.5,236.93 310.0,237.15 310.5,237.29 311.0,237.41 311.5,237.55 312.0,237.76 312.5,238.03 313.0,238.36 313.5,238.73 314.0,239.12 314.5,239.54 315.0,239.97 315.5,240.40 316.0,240.84 316.5,241.30 317.0,241.80 317.5,242.31 318.0,242.79 318.5,243.18 319.0,243.48 319.5,243.69 320.0,243.87 320.5,244.07 321.0,244.33 321.5,244.67 322.0,245.06 322.5,245.47 323.0,245.85 323.5,246.14 324.0,246.35 324.5,246.55 325.0,246.81 325.5,247.16 326.0,247.60 326.5,248.10 327.0,248.61 327.5,249.09 328.0,249.50 328.5,249.81 329.0,249.99 329.5,250.05 330.0,250.04 330.5,250.05 331.0,250.12 331.5,250.28 332.0,250.51 332.5,250.78 333.0,251.03" fill="none" stroke="#3b528b" stroke-width="2.1" stroke-linejoin="round" stroke-linecap="butt"/>
<path d="M51.5,138.61 52.0,138.63 52.5,138.65 53.0,138.67 53.5,138.69 54.0,138.72 54.5,138.74 55.0,138.77 55.5,138.80 56.0,138.82 56.5,138.85 57.0,138.88 57.5,138.91 58.0,138.95 58.5,138.98 59.0,139.02 59.5,139.05 60.0,139.09 60.5,139.13 61.0,139.17 61.5,139.21 62.0,139.26 62.5,139.30 63.0,139.35 63.5,139.39 64.0,139.44 64.5,139.49 65.0,139.54 65.5,139.59 66.0,139.64 66.5,139.70 67.0,139.75 67.5,139.81 68.0,139.86 68.5,139.92 69.0,139.98 69.5,140.04 70.0,140.10 70.5,140.16 71.0,140.22 71.5,140.28 72.0,140.34 72.5,140.41 73.0,140.47 73.5,140.53 74.0,140.60 74.5,140.67 75.0,140.73 75.5,140.80 76.0,140.87 76.5,140.94 77.0,141.01 77.5,141.08 78.0,141.16 78.5,141.23 79.0,141.31 79.5,141.38 80.0,141.46 80.5,141.55 81.0,141.63 81.5,141.71 82.0,141.80 82.5,141.89 83.0,141.98 83.5,142.08 84.0,142.17 84.5,142.27 85.0,142.37 85.5,142.48 86.0,142.58 86.5,142.69 87.0,142.80 87.5,142.91 88.0,143.02 88.5,143.14 89.0,143.25 89.5,143.37 90.0,143.49 90.5,143.61 91.0,143.73 91.5,143.85 92.0,143.97 92.5,144.09 93.0,144.21 93.5,144.33 94.0,144.45 94.5,144.58 95.0,144.70 95.5,144.81 96.0,144.93 96.5,145.05 97.0,145.17 97.5,145.28 98.0,145.40 98.5,145.51 99.0,145.63 99.5,145.74 100.0,145.85 100.5,145.96 101.0,146.07 101.5,146.17 102.0,146.28 102.5,146.39 103.0,146.50 103.5,146.60 104.0,146.71 104.5,146.82 105.0,146.93 105.5,147.04 106.0,147.16 106.5,147.27 107.0,147.39 107.5,147.51 108.0,147.63 108.5,147.76 109.0,147.89 109.5,148.03 110.0,148.17 110.5,148.31 111.0,148.46 111.5,148.61 112.0,148.77 112.5,148.93 113.0,149.09 113.5,149.26 114.0,149.43 114.5,149.61 115.0,149.79 115.5,149.97 116.0,150.16 116.5,150.35 117.0,150.54 117.5,150.73 118.0,150.93 118.5,151.12 119.0,151.32 119.5,151.52 120.0,151.72 120.5,151.93 121.0,152.13 121.5,152.34 122.0,152.54 122.5,152.75 123.0,152.96 123.5,153.17 124.0,153.38 124.5,153.60 125.0,153.82 125.5,154.03 126.0,154.26 126.5,154.48 127.0,154.70 127.5,154.93 128.0,155.16 128.5,155.39 129.0,155.63 129.5,155.87 130.0,156.11 130.5,156.35 131.0,156.60 131.5,156.84 132.0,157.09 132.5,157.35 133.0,157.60 133.5,157.86 134.0,158.12 134.5,158.37 135.0,158.63 135.5,158.89 136.0,159.16 136.5,159.42 137.0,159.68 137.5,159.94 138.0,160.19 138.5,160.45 139.0,160.71 139.5,160.96 140.0,161.22 140.5,161.47 141.0,161.72 141.5,161.97 142.0,162.22 142.5,162.47 143.0,162.71 143.5,162.96 144.0,163.20 144.5,163.45 145.0,163.69 145.5,163.94 146.0,164.19 146.5,164.43 147.0,164.68 147.5,164.93 148.0,165.18 148.5,165.43 149.0,165.69 149.5,165.95 150.0,166.21 150.5,166.47 151.0,166.73 151.5,167.00 152.0,167.26 152.5,167.53 153.0,167.80 153.5,168.08 154.0,168.35 154.5,168.62 155.0,168.90 155.5,169.17 156.0,169.45 156.5,169.72 157.0,170.00 157.5,170.27 158.0,170.54 158.5,170.82 159.0,171.09 159.5,171.35 160.0,171.62 160.5,171.88 161.0,172.15 161.5,172.41 162.0,172.66 162.5,172.92 163.0,173.17 163.5,173.43 164.0,173.68 164.5,173.93 165.0,174.18 165.5,174.42 166.0,174.67 166.5,174.91 167.0,175.15 167.5,175.39 168.0,175.63 168.5,175.87 169.0,176.11 169.5,176.34 170.0,176.58 170.5,176.81 171.0,177.04 171.5,177.28 172.0,177.51 172.5,177.73 173.0,177.96 173.5,178.18 174.0,178.41 174.5,178.63 175.0,178.85 175.5,179.06 176.0,179.28 176.5,179.49 177.0,179.69 177.5,179.90 178.0,180.10 178.5,180.30 179.0,180.49 179.5,180.68 180.0,180.87 180.5,181.06 181.0,181.24 181.5,181.42 182.0,181.59 182.5,181.76 183.0,181.93 183.5,182.10 184.0,182.26 184.5,182.42 185.0,182.58 185.5,182.74 186.0,182.89 186.5,183.04 187.0,183.20 187.5,183.34 188.0,183.49 188.5,183.64 189.0,183.79 189.5,183.93 190.0,184.07 190.5,184.22 191.0,184.36 191.5,184.50 192.0,184.64 192.5,184.79 193.0,184.93 193.5,185.07 194.0,185.21 194.5,185.35 195.0,185.48 195.5,185.62 196.0,185.76 196.5,185.90 197.0,186.04 197.5,186.17 198.0,186.31 198.5,186.44 199.0,186.58 199.5,186.72 200.0,186.85 200.5,186.99 201.0,187.12 201.5,187.26 202.0,187.39 202.5,187.53 203.0,187.67 203.5,187.81 204.0,187.95 204.5,188.09 205.0,188.23 205.5,188.38 206.0,188.52 206.5,188.67 207.0,188.83 207.5,188.98 208.0,189.14 208.5,189.30 209.0,189.47 209.5,189.64 210.0,189.81 210.5,189.99 211.0,190.17 211.5,190.35 212.0,190.54 212.5,190.73 213.0,190.93 213.5,191.13 214.0,191.33 214.5,191.53 215.0,191.74 215.5,191.95 216.0,192.16 216.5,192.37 217.0,192.58 217.5,192.79 218.0,193.00 218.5,193.22 219.0,193.43 219.5,193.64 220.0,193.86 220.5,194.07 221.0,194.28 221.5,194.48 222.0,194.68 222.5,194.88 223.0,195.07 223.5,195.26 224.0,195.44 224.5,195.63 225.0,195.82 225.5,196.01 226.0,196.20 226.5,196.39 227.0,196.56 227.5,196.72 228.0,196.87 228.5,197.03 229.0,197.19 229.5,197.36 230.0,197.54 230.5,197.73 231.0,197.92 231.5,198.13 232.0,198.33 232.5,198.52 233.0,198.70 233.5,198.88 234.0,199.05 234.5,199.22 235.0,199.41 235.5,199.61 236.0,199.82 236.5,200.04 237.0,200.27 237.5,200.49 238.0,200.70 238.5,200.92 239.0,201.14 239.5,201.37 240.0,201.61 240.5,201.87 241.0,202.12 241.5,202.38 242.0,202.61 242.5,202.83 243.0,203.03 243.5,203.20 244.0,203.37 244.5,203.53 245.0,203.71 245.5,203.92 246.0,204.15 246.5,204.40 247.0,204.67 247.5,204.96 248.0,205.25 248.5,205.54 249.0,205.81 249.5,206.06 250.0,206.30 250.5,206.53 251.0,206.77 251.5,207.00 252.0,207.23 252.5,207.47 253.0,207.71 253.5,207.97 254.0,208.24 254.5,208.53 255.0,208.82 255.5,209.11 256.0,209.39 256.5,209.66 257.0,209.93 257.5,210.19 258.0,210.44 258.5,210.67 259.0,210.89 259.5,211.12 260.0,211.38 260.5,211.70 261.0,212.05 261.5,212.43 262.0,212.80 262.5,213.16 263.0,213.52 263.5,213.90 264.0,214.29 264.5,214.69 265.0,215.07 265.5,215.42 266.0,215.75 266.5,216.06 267.0,216.35 267.5,216.65 268.0,216.96 268.5,217.29 269.0,217.64 269.5,218.01 270.0,218.37 270.5,218.71 271.0,219.02 271.5,219.31 272.0,219.61 272.5,219.92 273.0,220.27 273.5,220.64 274.0,221.03 274.5,221.42 275.0,221.79 275.5,222.11 276.0,222.37 276.5,222.59 277.0,222.81 277.5,223.05 278.0,223.32 278.5,223.61 279.0,223.92 279.5,224.24 280.0,224.56 280.5,224.87 281.0,225.14 281.5,225.39 282.0,225.65 282.5,225.93 283.0,226.25 283.5,226.60 284.0,226.94 284.5,227.22 285.0,227.43 285.5,227.57 286.0,227.68 286.5,227.80 287.0,227.95 287.5,228.17 288.0,228.47 288.5,228.81 289.0,229.18 289.5,229.53 290.0,229.84 290.5,230.11 291.0,230.35 291.5,230.58 292.0,230.83 292.5,231.12 293.0,231.46 293.5,231.84 294.0,232.27 294.5,232.74 295.0,233.22 295.5,233.69 296.0,234.14 296.5,234.56 297.0,234.93 297.5,235.25 298.0,235.50 298.5,235.70 299.0,235.87 299.5,236.04 300.0,236.25 300.5,236.53 301.0,236.87 301.5,237.27 302.0,237.70 302.5,238.13 303.0,238.58 303.5,239.03 304.0,239.48 304.5,239.92 305.0,240.33 305.5,240.69 306.0,240.99 306.5,241.23 307.0,241.44 307.5,241.67 308.0,241.96 308.5,242.30 309.0,242.66 309.5,242.98 310.0,243.22 310.5,243.40 311.0,243.55 311.5,243.70 312.0,243.89 312.5,244.14 313.0,244.43 313.5,244.78 314.0,245.19 314.5,245.63 315.0,246.10 315.5,246.59 316.0,247.07 316.5,247.54 317.0,247.99 317.5,248.39 318.0,248.71 318.5,248.96 319.0,249.16 319.5,249.34 320.0,249.54 320.5,249.80 321.0,250.10 321.5,250.45 322.0,250.85 322.5,251.31 323.0,251.85 323.5,252.46 324.0,253.10 324.5,253.69 325.0,254.20 325.5,254.61 326.0,254.97 326.5,255.34 327.0,255.76 327.5,256.22 328.0,256.70 328.5,257.17 329.0,257.63 329.5,258.10 330.0,258.56 330.5,258.99 331.0,259.35 331.5,259.63 332.0,259.85 332.5,260.05 333.0,260.28" fill="none" stroke="#21918c" stroke-width="2.1" stroke-linejoin="round" stroke-linecap="butt"/>
<path d="M51.5,158.10 52.0,158.13 52.5,158.15 53.0,158.17 53.5,158.20 54.0,158.22 54.5,158.25 55.0,158.28 55.5,158.30 56.0,158.33 56.5,158.36 57.0,158.39 57.5,158.42 58.0,158.46 58.5,158.49 59.0,158.53 59.5,158.57 60.0,158.60 60.5,158.64 61.0,158.69 61.5,158.73 62.0,158.77 62.5,158.82 63.0,158.86 63.5,158.91 64.0,158.96 64.5,159.00 65.0,159.05 65.5,159.11 66.0,159.16 66.5,159.21 67.0,159.26 67.5,159.32 68.0,159.38 68.5,159.43 69.0,159.49 69.5,159.55 70.0,159.61 70.5,159.67 71.0,159.73 71.5,159.79 72.0,159.85 72.5,159.91 73.0,159.98 73.5,160.04 74.0,160.11 74.5,160.17 75.0,160.24 75.5,160.31 76.0,160.38 76.5,160.44 77.0,160.52 77.5,160.59 78.0,160.66 78.5,160.74 79.0,160.81 79.5,160.89 80.0,160.97 80.5,161.05 81.0,161.14 81.5,161.22 82.0,161.31 82.5,161.40 83.0,161.50 83.5,161.59 84.0,161.69 84.5,161.79 85.0,161.89 85.5,162.00 86.0,162.11 86.5,162.21 87.0,162.32 87.5,162.44 88.0,162.55 88.5,162.67 89.0,162.78 89.5,162.90 90.0,163.02 90.5,163.14 91.0,163.25 91.5,163.37 92.0,163.49 92.5,163.61 93.0,163.73 93.5,163.84 94.0,163.96 94.5,164.07 95.0,164.19 95.5,164.30 96.0,164.41 96.5,164.52 97.0,164.62 97.5,164.73 98.0,164.83 98.5,164.93 99.0,165.03 99.5,165.12 100.0,165.22 100.5,165.31 101.0,165.40 101.5,165.49 102.0,165.57 102.5,165.66 103.0,165.74 103.5,165.82 104.0,165.90 104.5,165.98 105.0,166.06 105.5,166.14 106.0,166.21 106.5,166.29 107.0,166.37 107.5,166.45 108.0,166.52 108.5,166.60 109.0,166.68 109.5,166.76 110.0,166.84 110.5,166.93 111.0,167.01 111.5,167.10 112.0,167.18 112.5,167.27 113.0,167.36 113.5,167.45 114.0,167.54 114.5,167.64 115.0,167.74 115.5,167.84 116.0,167.94 116.5,168.04 117.0,168.14 117.5,168.25 118.0,168.36 118.5,168.48 119.0,168.59 119.5,168.71 120.0,168.83 120.5,168.96 121.0,169.09 121.5,169.23 122.0,169.37 122.5,169.51 123.0,169.66 123.5,169.82 124.0,169.98 124.5,170.15 125.0,170.33 125.5,170.51 126.0,170.70 126.5,170.90 127.0,171.10 127.5,171.31 128.0,171.53 128.5,171.75 129.0,171.98 129.5,172.21 130.0,172.45 130.5,172.69 131.0,172.94 131.5,173.18 132.0,173.43 132.5,173.68 133.0,173.93 133.5,174.18 134.0,174.43 134.5,174.68 135.0,174.92 135.5,175.16 136.0,175.39 136.5,175.62 137.0,175.84 137.5,176.05 138.0,176.26 138.5,176.47 139.0,176.66 139.5,176.85 140.0,177.04 140.5,177.21 141.0,177.38 141.5,177.55 142.0,177.70 142.5,177.86 143.0,178.00 143.5,178.14 144.0,178.28 144.5,178.41 145.0,178.54 145.5,178.67 146.0,178.79 146.5,178.91 147.0,179.02 147.5,179.14 148.0,179.25 148.5,179.36 149.0,179.47 149.5,179.57 150.0,179.68 150.5,179.78 151.0,179.89 151.5,179.99 152.0,180.09 152.5,180.19 153.0,180.29 153.5,180.39 154.0,180.49 154.5,180.58 155.0,180.68 155.5,180.78 156.0,180.88 156.5,180.98 157.0,181.08 157.5,181.18 158.0,181.28 158.5,181.39 159.0,181.49 159.5,181.60 160.0,181.70 160.5,181.81 161.0,181.92 161.5,182.03 162.0,182.15 162.5,182.26 163.0,182.38 163.5,182.49 164.0,182.61 164.5,182.73 165.0,182.85 165.5,182.97 166.0,183.09 166.5,183.21 167.0,183.33 167.5,183.45 168.0,183.57 168.5,183.69 169.0,183.81 169.5,183.93 170.0,184.05 170.5,184.17 171.0,184.29 171.5,184.41 172.0,184.53 172.5,184.66 173.0,184.78 173.5,184.90 174.0,185.02 174.5,185.14 175.0,185.27 175.5,185.39 176.0,185.52 176.5,185.65 177.0,185.78 177.5,185.91 178.0,186.04 178.5,186.18 179.0,186.32 179.5,186.46 180.0,186.60 180.5,186.75 181.0,186.89 181.5,187.04 182.0,187.20 182.5,187.35 183.0,187.51 183.5,187.68 184.0,187.84 184.5,188.01 185.0,188.17 185.5,188.34 186.0,188.52 186.5,188.69 187.0,188.87 187.5,189.04 188.0,189.22 188.5,189.40 189.0,189.58 189.5,189.77 190.0,189.95 190.5,190.13 191.0,190.31 191.5,190.50 192.0,190.68 192.5,190.86 193.0,191.05 193.5,191.23 194.0,191.41 194.5,191.59 195.0,191.78 195.5,191.96 196.0,192.14 196.5,192.32 197.0,192.50 197.5,192.68 198.0,192.86 198.5,193.04 199.0,193.22 199.5,193.40 200.0,193.58 200.5,193.76 201.0,193.94 201.5,194.13 202.0,194.31 202.5,194.49 203.0,194.68 203.5,194.87 204.0,195.05 204.5,195.24 205.0,195.44 205.5,195.63 206.0,195.83 206.5,196.03 207.0,196.23 207.5,196.44 208.0,196.65 208.5,196.86 209.0,197.08 209.5,197.30 210.0,197.52 210.5,197.75 211.0,197.98 211.5,198.22 212.0,198.46 212.5,198.70 213.0,198.95 213.5,199.19 214.0,199.44 214.5,199.69 215.0,199.95 215.5,200.20 216.0,200.45 216.5,200.69 217.0,200.93 217.5,201.17 218.0,201.41 218.5,201.64 219.0,201.87 219.5,202.10 220.0,202.32 220.5,202.55 221.0,202.77 221.5,203.00 222.0,203.21 222.5,203.42 223.0,203.63 223.5,203.82 224.0,204.01 224.5,204.20 225.0,204.39 225.5,204.58 226.0,204.76 226.5,204.93 227.0,205.10 227.5,205.27 228.0,205.45 228.5,205.64 229.0,205.85 229.5,206.06 230.0,206.30 230.5,206.54 231.0,206.78 231.5,207.04 232.0,207.30 232.5,207.55 233.0,207.78 233.5,208.01 234.0,208.22 234.5,208.44 235.0,208.69 235.5,208.95 236.0,209.21 236.5,209.45 237.0,209.66 237.5,209.83 238.0,209.99 238.5,210.17 239.0,210.37 239.5,210.62 240.0,210.89 240.5,211.16 241.0,211.40 241.5,211.59 242.0,211.75 242.5,211.90 243.0,212.06 243.5,212.25 244.0,212.47 244.5,212.71 245.0,212.96 245.5,213.22 246.0,213.49 246.5,213.75 247.0,214.02 247.5,214.31 248.0,214.61 248.5,214.93 249.0,215.26 249.5,215.60 250.0,215.93 250.5,216.24 251.0,216.53 251.5,216.82 252.0,217.14 252.5,217.51 253.0,217.92 253.5,218.37 254.0,218.81 254.5,219.23 255.0,219.60 255.5,219.93 256.0,220.24 256.5,220.54 257.0,220.85 257.5,221.15 258.0,221.46 258.5,221.76 259.0,222.04 259.5,222.30 260.0,222.54 260.5,222.78 261.0,223.02 261.5,223.27 262.0,223.53 262.5,223.78 263.0,224.03 263.5,224.26 264.0,224.49 264.5,224.72 265.0,224.96 265.5,225.23 266.0,225.54 266.5,225.86 267.0,226.17 267.5,226.45 268.0,226.69 268.5,226.90 269.0,227.10 269.5,227.30 270.0,227.55 270.5,227.83 271.0,228.16 271.5,228.50 272.0,228.82 272.5,229.08 273.0,229.30 273.5,229.50 274.0,229.74 274.5,230.05 275.0,230.42 275.5,230.83 276.0,231.21 276.5,231.56 277.0,231.87 277.5,232.16 278.0,232.44 278.5,232.73 279.0,233.04 279.5,233.38 280.0,233.74 280.5,234.16 281.0,234.62 281.5,235.11 282.0,235.60 282.5,236.10 283.0,236.62 283.5,237.15 284.0,237.72 284.5,238.31 285.0,238.93 285.5,239.56 286.0,240.18 286.5,240.77 287.0,241.32 287.5,241.80 288.0,242.24 288.5,242.65 289.0,243.04 289.5,243.37 290.0,243.65 290.5,243.86 291.0,244.03 291.5,244.18 292.0,244.35 292.5,244.57 293.0,244.84 293.5,245.15 294.0,245.46 294.5,245.77 295.0,246.07 295.5,246.37 296.0,246.70 296.5,247.06 297.0,247.44 297.5,247.80 298.0,248.10 298.5,248.31 299.0,248.42 299.5,248.45 300.0,248.46 300.5,248.46 301.0,248.46 301.5,248.47 302.0,248.47 302.5,248.50 303.0,248.59 303.5,248.73 304.0,248.91 304.5,249.10 305.0,249.23 305.5,249.30 306.0,249.33 306.5,249.37 307.0,249.48 307.5,249.70 308.0,249.98 308.5,250.27 309.0,250.48 309.5,250.60 310.0,250.65 310.5,250.71 311.0,250.84 311.5,251.06 312.0,251.39 312.5,251.81 313.0,252.28 313.5,252.81 314.0,253.36 314.5,253.92 315.0,254.46 315.5,254.95 316.0,255.38 316.5,255.75 317.0,256.03 317.5,256.23 318.0,256.39 318.5,256.58 319.0,256.87 319.5,257.28 320.0,257.76 320.5,258.22 321.0,258.58 321.5,258.78 322.0,258.83 322.5,258.80 323.0,258.78 323.5,258.84 324.0,259.01 324.5,259.28 325.0,259.60 325.5,259.95 326.0,260.31 326.5,260.66 327.0,260.99 327.5,261.26 328.0,261.46 328.5,261.59 329.0,261.69 329.5,261.76 330.0,261.84 330.5,261.94 331.0,262.08 331.5,262.24 332.0,262.42 332.5,262.60 333.0,262.78" fill="none" stroke="#7ad151" stroke-width="2.1" stroke-linejoin="round" stroke-linecap="butt"/>
<path d="M51.5,162.50 52.0,162.54 52.5,162.58 53.0,162.61 53.5,162.65 54.0,162.69 54.5,162.73 55.0,162.77 55.5,162.81 56.0,162.85 56.5,162.89 57.0,162.93 57.5,162.97 58.0,163.02 58.5,163.06 59.0,163.11 59.5,163.15 60.0,163.20 60.5,163.24 61.0,163.29 61.5,163.34 62.0,163.39 62.5,163.44 63.0,163.49 63.5,163.54 64.0,163.59 64.5,163.64 65.0,163.69 65.5,163.75 66.0,163.80 66.5,163.85 67.0,163.91 67.5,163.97 68.0,164.02 68.5,164.08 69.0,164.14 69.5,164.19 70.0,164.25 70.5,164.31 71.0,164.37 71.5,164.43 72.0,164.49 72.5,164.55 73.0,164.61 73.5,164.67 74.0,164.74 74.5,164.80 75.0,164.86 75.5,164.93 76.0,164.99 76.5,165.05 77.0,165.12 77.5,165.18 78.0,165.25 78.5,165.32 79.0,165.38 79.5,165.45 80.0,165.52 80.5,165.59 81.0,165.66 81.5,165.73 82.0,165.80 82.5,165.87 83.0,165.95 83.5,166.02 84.0,166.09 84.5,166.17 85.0,166.25 85.5,166.32 86.0,166.40 86.5,166.48 87.0,166.56 87.5,166.64 88.0,166.73 88.5,166.81 89.0,166.89 89.5,166.98 90.0,167.07 90.5,167.15 91.0,167.24 91.5,167.33 92.0,167.42 92.5,167.52 93.0,167.61 93.5,167.71 94.0,167.80 94.5,167.90 95.0,168.00 95.5,168.10 96.0,168.21 96.5,168.31 97.0,168.42 97.5,168.53 98.0,168.64 98.5,168.75 99.0,168.87 99.5,168.99 100.0,169.11 100.5,169.23 101.0,169.36 101.5,169.48 102.0,169.61 102.5,169.74 103.0,169.88 103.5,170.01 104.0,170.14 104.5,170.28 105.0,170.41 105.5,170.55 106.0,170.68 106.5,170.81 107.0,170.94 107.5,171.07 108.0,171.19 108.5,171.31 109.0,171.43 109.5,171.55 110.0,171.66 110.5,171.77 111.0,171.88 111.5,171.98 112.0,172.08 112.5,172.18 113.0,172.27 113.5,172.36 114.0,172.45 114.5,172.54 115.0,172.62 115.5,172.70 116.0,172.78 116.5,172.86 117.0,172.93 117.5,173.01 118.0,173.08 118.5,173.15 119.0,173.22 119.5,173.29 120.0,173.36 120.5,173.43 121.0,173.49 121.5,173.55 122.0,173.62 122.5,173.68 123.0,173.74 123.5,173.80 124.0,173.86 124.5,173.92 125.0,173.98 125.5,174.03 126.0,174.09 126.5,174.15 127.0,174.20 127.5,174.25 128.0,174.31 128.5,174.36 129.0,174.41 129.5,174.46 130.0,174.51 130.5,174.56 131.0,174.61 131.5,174.66 132.0,174.71 132.5,174.76 133.0,174.80 133.5,174.85 134.0,174.89 134.5,174.94 135.0,174.98 135.5,175.02 136.0,175.07 136.5,175.11 137.0,175.15 137.5,175.19 138.0,175.23 138.5,175.26 139.0,175.30 139.5,175.34 140.0,175.38 140.5,175.41 141.0,175.45 141.5,175.48 142.0,175.51 142.5,175.55 143.0,175.58 143.5,175.61 144.0,175.64 144.5,175.68 145.0,175.71 145.5,175.74 146.0,175.77 146.5,175.80 147.0,175.83 147.5,175.86 148.0,175.88 148.5,175.91 149.0,175.94 149.5,175.97 150.0,176.00 150.5,176.03 151.0,176.06 151.5,176.09 152.0,176.11 152.5,176.14 153.0,176.17 153.5,176.21 154.0,176.24 154.5,176.27 155.0,176.31 155.5,176.35 156.0,176.39 156.5,176.43 157.0,176.48 157.5,176.52 158.0,176.58 158.5,176.63 159.0,176.70 159.5,176.76 160.0,176.83 160.5,176.91 161.0,176.99 161.5,177.08 162.0,177.17 162.5,177.27 163.0,177.37 163.5,177.48 164.0,177.59 164.5,177.71 165.0,177.83 165.5,177.96 166.0,178.08 166.5,178.22 167.0,178.35 167.5,178.49 168.0,178.63 168.5,178.77 169.0,178.91 169.5,179.06 170.0,179.20 170.5,179.35 171.0,179.50 171.5,179.64 172.0,179.79 172.5,179.94 173.0,180.09 173.5,180.24 174.0,180.39 174.5,180.54 175.0,180.69 175.5,180.83 176.0,180.98 176.5,181.13 177.0,181.27 177.5,181.42 178.0,181.56 178.5,181.70 179.0,181.84 179.5,181.98 180.0,182.12 180.5,182.26 181.0,182.39 181.5,182.52 182.0,182.66 182.5,182.79 183.0,182.92 183.5,183.05 184.0,183.18 184.5,183.31 185.0,183.44 185.5,183.57 186.0,183.71 186.5,183.84 187.0,183.98 187.5,184.12 188.0,184.26 188.5,184.41 189.0,184.56 189.5,184.72 190.0,184.88 190.5,185.05 191.0,185.22 191.5,185.39 192.0,185.57 192.5,185.75 193.0,185.94 193.5,186.14 194.0,186.34 194.5,186.54 195.0,186.75 195.5,186.97 196.0,187.18 196.5,187.40 197.0,187.62 197.5,187.85 198.0,188.07 198.5,188.30 199.0,188.52 199.5,188.75 200.0,188.97 200.5,189.20 201.0,189.42 201.5,189.64 202.0,189.86 202.5,190.09 203.0,190.31 203.5,190.53 204.0,190.75 204.5,190.96 205.0,191.18 205.5,191.39 206.0,191.61 206.5,191.82 207.0,192.03 207.5,192.23 208.0,192.44 208.5,192.64 209.0,192.84 209.5,193.03 210.0,193.22 210.5,193.41 211.0,193.60 211.5,193.78 212.0,193.97 212.5,194.14 213.0,194.32 213.5,194.50 214.0,194.67 214.5,194.84 215.0,195.02 215.5,195.19 216.0,195.36 216.5,195.54 217.0,195.72 217.5,195.90 218.0,196.09 218.5,196.28 219.0,196.47 219.5,196.67 220.0,196.88 220.5,197.09 221.0,197.31 221.5,197.53 222.0,197.75 222.5,197.98 223.0,198.20 223.5,198.43 224.0,198.67 224.5,198.90 225.0,199.14 225.5,199.37 226.0,199.58 226.5,199.79 227.0,199.98 227.5,200.18 228.0,200.39 228.5,200.62 229.0,200.86 229.5,201.11 230.0,201.35 230.5,201.56 231.0,201.75 231.5,201.94 232.0,202.15 232.5,202.39 233.0,202.66 233.5,202.93 234.0,203.18 234.5,203.42 235.0,203.64 235.5,203.88 236.0,204.13 236.5,204.42 237.0,204.72 237.5,205.02 238.0,205.33 238.5,205.64 239.0,205.97 239.5,206.32 240.0,206.66 240.5,206.99 241.0,207.28 241.5,207.52 242.0,207.71 242.5,207.87 243.0,208.03 243.5,208.21 244.0,208.40 244.5,208.60 245.0,208.77 245.5,208.92 246.0,209.03 246.5,209.15 247.0,209.31 247.5,209.53 248.0,209.84 248.5,210.23 249.0,210.68 249.5,211.18 250.0,211.71 250.5,212.25 251.0,212.76 251.5,213.24 252.0,213.65 252.5,214.01 253.0,214.32 253.5,214.60 254.0,214.91 254.5,215.28 255.0,215.74 255.5,216.28 256.0,216.88 256.5,217.48 257.0,218.05 257.5,218.55 258.0,218.95 258.5,219.21 259.0,219.35 259.5,219.42 260.0,219.48 260.5,219.61 261.0,219.84 261.5,220.17 262.0,220.57 262.5,220.97 263.0,221.34 263.5,221.63 264.0,221.82 264.5,221.94 265.0,222.02 265.5,222.13 266.0,222.30 266.5,222.56 267.0,222.89 267.5,223.26 268.0,223.65 268.5,224.03 269.0,224.39 269.5,224.70 270.0,224.97 270.5,225.24 271.0,225.53 271.5,225.88 272.0,226.31 272.5,226.82 273.0,227.40 273.5,228.04 274.0,228.72 274.5,229.40 275.0,230.00 275.5,230.48 276.0,230.81 276.5,231.01 277.0,231.16 277.5,231.31 278.0,231.50 278.5,231.73 279.0,231.95 279.5,232.12 280.0,232.20 280.5,232.19 281.0,232.12 281.5,232.02 282.0,231.95 282.5,231.92 283.0,231.97 283.5,232.13 284.0,232.41 284.5,232.81 285.0,233.27 285.5,233.74 286.0,234.15 286.5,234.51 287.0,234.81 287.5,235.10 288.0,235.39 288.5,235.68 289.0,235.95 289.5,236.18 290.0,236.37 290.5,236.54 291.0,236.73 291.5,236.95 292.0,237.24 292.5,237.61 293.0,238.03 293.5,238.48 294.0,238.92 294.5,239.31 295.0,239.62 295.5,239.87 296.0,240.09 296.5,240.32 297.0,240.55 297.5,240.73 298.0,240.82 298.5,240.83 299.0,240.81 299.5,240.89 300.0,241.09 300.5,241.41 301.0,241.78 301.5,242.16 302.0,242.51 302.5,242.89 303.0,243.33 303.5,243.85 304.0,244.42 304.5,244.98 305.0,245.49 305.5,245.93 306.0,246.36 306.5,246.81 307.0,247.30 307.5,247.78 308.0,248.19 308.5,248.46 309.0,248.57 309.5,248.54 310.0,248.42 310.5,248.28 311.0,248.21 311.5,248.25 312.0,248.41 312.5,248.68 313.0,249.02 313.5,249.42 314.0,249.88 314.5,250.39 315.0,250.96 315.5,251.58 316.0,252.23 316.5,252.84 317.0,253.34 317.5,253.70 318.0,253.96 318.5,254.17 319.0,254.42 319.5,254.71 320.0,255.03 320.5,255.26 321.0,255.33 321.5,255.19 322.0,254.85 322.5,254.37 323.0,253.85 323.5,253.37 324.0,253.05 324.5,253.01 325.0,253.31 325.5,253.94 326.0,254.76 326.5,255.64 327.0,256.43 327.5,257.09 328.0,257.61 328.5,258.00 329.0,258.28 329.5,258.42 330.0,258.33 330.5,257.94 331.0,257.25 331.5,256.37 332.0,255.46 332.5,254.69 333.0,254.24" fill="none" stroke="#000" stroke-width="2.1" stroke-dasharray="6.85,2.95"/>
</g>
<g clip-path="url(#cr)">
<path d="M403.0,11.90 403.5,11.94 404.0,11.98 404.5,12.02 405.0,12.06 405.5,12.10 406.0,12.14 406.5,12.18 407.0,12.22 407.5,12.26 408.0,12.30 408.5,12.35 409.0,12.39 409.5,12.43 410.0,12.48 410.5,12.52 411.0,12.56 411.5,12.61 412.0,12.66 412.5,12.70 413.0,12.75 413.5,12.80 414.0,12.84 414.5,12.89 415.0,12.94 415.5,12.99 416.0,13.04 416.5,13.09 417.0,13.14 417.5,13.19 418.0,13.24 418.5,13.29 419.0,13.35 419.5,13.40 420.0,13.45 420.5,13.51 421.0,13.56 421.5,13.61 422.0,13.67 422.5,13.72 423.0,13.78 423.5,13.84 424.0,13.89 424.5,13.95 425.0,14.01 425.5,14.07 426.0,14.13 426.5,14.19 427.0,14.25 427.5,14.31 428.0,14.37 428.5,14.43 429.0,14.49 429.5,14.56 430.0,14.62 430.5,14.69 431.0,14.75 431.5,14.82 432.0,14.89 432.5,14.95 433.0,15.02 433.5,15.09 434.0,15.16 434.5,15.23 435.0,15.31 435.5,15.38 436.0,15.45 436.5,15.53 437.0,15.61 437.5,15.68 438.0,15.76 438.5,15.84 439.0,15.92 439.5,16.00 440.0,16.09 440.5,16.17 441.0,16.25 441.5,16.34 442.0,16.43 442.5,16.52 443.0,16.61 443.5,16.70 444.0,16.79 444.5,16.89 445.0,16.98 445.5,17.08 446.0,17.18 446.5,17.28 447.0,17.38 447.5,17.48 448.0,17.59 448.5,17.70 449.0,17.80 449.5,17.91 450.0,18.03 450.5,18.14 451.0,18.25 451.5,18.37 452.0,18.49 452.5,18.61 453.0,18.73 453.5,18.85 454.0,18.98 454.5,19.10 455.0,19.23 455.5,19.36 456.0,19.49 456.5,19.63 457.0,19.76 457.5,19.90 458.0,20.04 458.5,20.19 459.0,20.33 459.5,20.48 460.0,20.63 460.5,20.78 461.0,20.93 461.5,21.09 462.0,21.25 462.5,21.41 463.0,21.58 463.5,21.75 464.0,21.92 464.5,22.10 465.0,22.27 465.5,22.46 466.0,22.64 466.5,22.83 467.0,23.02 467.5,23.21 468.0,23.41 468.5,23.61 469.0,23.81 469.5,24.02 470.0,24.23 470.5,24.44 471.0,24.66 471.5,24.88 472.0,25.10 472.5,25.32 473.0,25.55 473.5,25.78 474.0,26.01 474.5,26.24 475.0,26.48 475.5,26.72 476.0,26.96 476.5,27.21 477.0,27.45 477.5,27.70 478.0,27.96 478.5,28.21 479.0,28.47 479.5,28.73 480.0,28.99 480.5,29.25 481.0,29.52 481.5,29.79 482.0,30.07 482.5,30.34 483.0,30.62 483.5,30.90 484.0,31.19 484.5,31.48 485.0,31.77 485.5,32.07 486.0,32.37 486.5,32.67 487.0,32.98 487.5,33.29 488.0,33.60 488.5,33.92 489.0,34.24 489.5,34.57 490.0,34.89 490.5,35.23 491.0,35.56 491.5,35.90 492.0,36.24 492.5,36.59 493.0,36.94 493.5,37.29 494.0,37.65 494.5,38.01 495.0,38.38 495.5,38.75 496.0,39.12 496.5,39.49 497.0,39.87 497.5,40.26 498.0,40.64 498.5,41.04 499.0,41.43 499.5,41.83 500.0,42.24 500.5,42.65 501.0,43.07 501.5,43.49 502.0,43.92 502.5,44.35 503.0,44.79 503.5,45.23 504.0,45.68 504.5,46.14 505.0,46.60 505.5,47.07 506.0,47.55 506.5,48.03 507.0,48.52 507.5,49.01 508.0,49.51 508.5,50.02 509.0,50.53 509.5,51.05 510.0,51.57 510.5,52.10 511.0,52.64 511.5,53.18 512.0,53.72 512.5,54.28 513.0,54.83 513.5,55.40 514.0,55.97 514.5,56.54 515.0,57.12 515.5,57.71 516.0,58.30 516.5,58.90 517.0,59.50 517.5,60.11 518.0,60.72 518.5,61.34 519.0,61.97 519.5,62.60 520.0,63.24 520.5,63.88 521.0,64.53 521.5,65.18 522.0,65.84 522.5,66.51 523.0,67.18 523.5,67.86 524.0,68.54 524.5,69.24 525.0,69.94 525.5,70.65 526.0,71.36 526.5,72.09 527.0,72.82 527.5,73.56 528.0,74.31 528.5,75.07 529.0,75.84 529.5,76.62 530.0,77.41 530.5,78.21 531.0,79.02 531.5,79.84 532.0,80.67 532.5,81.51 533.0,82.36 533.5,83.21 534.0,84.08 534.5,84.95 535.0,85.84 535.5,86.73 536.0,87.63 536.5,88.54 537.0,89.46 537.5,90.39 538.0,91.33 538.5,92.28 539.0,93.24 539.5,94.22 540.0,95.21 540.5,96.21 541.0,97.23 541.5,98.27 542.0,99.31 542.5,100.38 543.0,101.46 543.5,102.55 544.0,103.67 544.5,104.79 545.0,105.93 545.5,107.09 546.0,108.25 546.5,109.42 547.0,110.60 547.5,111.78 548.0,112.97 548.5,114.15 549.0,115.33 549.5,116.50 550.0,117.67 550.5,118.83 551.0,119.98 551.5,121.12 552.0,122.26 552.5,123.38 553.0,124.49 553.5,125.60 554.0,126.70 554.5,127.79 555.0,128.88 555.5,129.97 556.0,131.05 556.5,132.13 557.0,133.20 557.5,134.27 558.0,135.33 558.5,136.38 559.0,137.42 559.5,138.44 560.0,139.46 560.5,140.45 561.0,141.43 561.5,142.38 562.0,143.32 562.5,144.23 563.0,145.11 563.5,145.97 564.0,146.81 564.5,147.62 565.0,148.40 565.5,149.15 566.0,149.88 566.5,150.58 567.0,151.25 567.5,151.90 568.0,152.52 568.5,153.12 569.0,153.71 569.5,154.28 570.0,154.85 570.5,155.41 571.0,155.96 571.5,156.49 572.0,156.99 572.5,157.48 573.0,157.95 573.5,158.41 574.0,158.87 574.5,159.32 575.0,159.77 575.5,160.22 576.0,160.66 576.5,161.11 577.0,161.55 577.5,161.97 578.0,162.36 578.5,162.74 579.0,163.10 579.5,163.47 580.0,163.85 580.5,164.26 581.0,164.67 581.5,165.10 582.0,165.52 582.5,165.93 583.0,166.35 583.5,166.76 584.0,167.18 584.5,167.59 585.0,168.00 585.5,168.42 586.0,168.83 586.5,169.23 587.0,169.62 587.5,169.98 588.0,170.32 588.5,170.67 589.0,171.03 589.5,171.43 590.0,171.86 590.5,172.31 591.0,172.76 591.5,173.22 592.0,173.69 592.5,174.16 593.0,174.63 593.5,175.12 594.0,175.62 594.5,176.12 595.0,176.60 595.5,177.05 596.0,177.45 596.5,177.81 597.0,178.12 597.5,178.40 598.0,178.67 598.5,178.95 599.0,179.28 599.5,179.66 600.0,180.06 600.5,180.47 601.0,180.86 601.5,181.23 602.0,181.60 602.5,181.99 603.0,182.39 603.5,182.77 604.0,183.09 604.5,183.35 605.0,183.55 605.5,183.73 606.0,183.96 606.5,184.26 607.0,184.63 607.5,185.04 608.0,185.43 608.5,185.76 609.0,186.00 609.5,186.19 610.0,186.35 610.5,186.52 611.0,186.70 611.5,186.91 612.0,187.16 612.5,187.44 613.0,187.74 613.5,188.01 614.0,188.24 614.5,188.43 615.0,188.62 615.5,188.85 616.0,189.11 616.5,189.42 617.0,189.75 617.5,190.08 618.0,190.36 618.5,190.58 619.0,190.74 619.5,190.86 620.0,190.99 620.5,191.16 621.0,191.39 621.5,191.67 622.0,191.97 622.5,192.24 623.0,192.49 623.5,192.71 624.0,192.92 624.5,193.16 625.0,193.49 625.5,193.93 626.0,194.49 626.5,195.14 627.0,195.80 627.5,196.40 628.0,196.89 628.5,197.26 629.0,197.53 629.5,197.73 630.0,197.90 630.5,198.09 631.0,198.31 631.5,198.60 632.0,198.94 632.5,199.31 633.0,199.68 633.5,200.01 634.0,200.32 634.5,200.63 635.0,200.95 635.5,201.30 636.0,201.70 636.5,202.15 637.0,202.62 637.5,203.06 638.0,203.43 638.5,203.71 639.0,203.93 639.5,204.15 640.0,204.42 640.5,204.77 641.0,205.16 641.5,205.56 642.0,205.91 642.5,206.23 643.0,206.53 643.5,206.84 644.0,207.14 644.5,207.42 645.0,207.65 645.5,207.84 646.0,208.04 646.5,208.28 647.0,208.61 647.5,209.02 648.0,209.48 648.5,209.93 649.0,210.34 649.5,210.70 650.0,211.01 650.5,211.32 651.0,211.65 651.5,212.01 652.0,212.39 652.5,212.80 653.0,213.22 653.5,213.66 654.0,214.12 654.5,214.59 655.0,215.05 655.5,215.48 656.0,215.81 656.5,215.99 657.0,216.00 657.5,215.87 658.0,215.71 658.5,215.67 659.0,215.83 659.5,216.22 660.0,216.76 660.5,217.36 661.0,217.91 661.5,218.38 662.0,218.79 662.5,219.22 663.0,219.70 663.5,220.18 664.0,220.59 664.5,220.90 665.0,221.15 665.5,221.44 666.0,221.85 666.5,222.40 667.0,223.02 667.5,223.56 668.0,223.94 668.5,224.16 669.0,224.31 669.5,224.52 670.0,224.83 670.5,225.22 671.0,225.61 671.5,225.91 672.0,226.07 672.5,226.08 673.0,226.02 673.5,225.96 674.0,225.98 674.5,226.11 675.0,226.35 675.5,226.67 676.0,227.03 676.5,227.43 677.0,227.84 677.5,228.26 678.0,228.69 678.5,229.15 679.0,229.64 679.5,230.17 680.0,230.71 680.5,231.19 681.0,231.57 681.5,231.83 682.0,232.04 682.5,232.26 683.0,232.54 683.5,232.89 684.0,233.28 684.5,233.66 L684.5,245.39 684.0,244.98 683.5,244.55 683.0,244.10 682.5,243.64 682.0,243.20 681.5,242.78 681.0,242.38 680.5,241.98 680.0,241.59 679.5,241.21 679.0,240.87 678.5,240.54 678.0,240.22 677.5,239.88 677.0,239.53 676.5,239.20 676.0,238.89 675.5,238.61 675.0,238.34 674.5,238.01 674.0,237.58 673.5,237.03 673.0,236.37 672.5,235.67 672.0,235.01 671.5,234.43 671.0,233.99 670.5,233.69 670.0,233.48 669.5,233.31 669.0,233.15 668.5,232.95 668.0,232.74 667.5,232.55 667.0,232.39 666.5,232.30 666.0,232.25 665.5,232.19 665.0,232.04 664.5,231.74 664.0,231.30 663.5,230.75 663.0,230.11 662.5,229.42 662.0,228.66 661.5,227.83 661.0,226.97 660.5,226.13 660.0,225.39 659.5,224.82 659.0,224.41 658.5,224.14 658.0,223.95 657.5,223.77 657.0,223.57 656.5,223.32 656.0,223.02 655.5,222.72 655.0,222.43 654.5,222.19 654.0,221.97 653.5,221.72 653.0,221.40 652.5,220.97 652.0,220.46 651.5,219.94 651.0,219.45 650.5,219.03 650.0,218.68 649.5,218.37 649.0,218.08 648.5,217.79 648.0,217.44 647.5,217.01 647.0,216.50 646.5,215.95 646.0,215.39 645.5,214.86 645.0,214.36 644.5,213.88 644.0,213.43 643.5,213.02 643.0,212.65 642.5,212.26 642.0,211.84 641.5,211.37 641.0,210.90 640.5,210.50 640.0,210.19 639.5,209.99 639.0,209.85 638.5,209.71 638.0,209.52 637.5,209.29 637.0,209.02 636.5,208.78 636.0,208.57 635.5,208.41 635.0,208.26 634.5,208.07 634.0,207.83 633.5,207.54 633.0,207.21 632.5,206.87 632.0,206.53 631.5,206.18 631.0,205.80 630.5,205.37 630.0,204.89 629.5,204.36 629.0,203.80 628.5,203.25 628.0,202.75 627.5,202.31 627.0,201.93 626.5,201.61 626.0,201.33 625.5,201.09 625.0,200.89 624.5,200.75 624.0,200.63 623.5,200.52 623.0,200.35 622.5,200.12 622.0,199.82 621.5,199.48 621.0,199.13 620.5,198.77 620.0,198.43 619.5,198.13 619.0,197.90 618.5,197.73 618.0,197.61 617.5,197.48 617.0,197.31 616.5,197.07 616.0,196.77 615.5,196.46 615.0,196.15 614.5,195.88 614.0,195.65 613.5,195.46 613.0,195.31 612.5,195.18 612.0,195.03 611.5,194.84 611.0,194.61 610.5,194.36 610.0,194.10 609.5,193.86 609.0,193.65 608.5,193.46 608.0,193.28 607.5,193.07 607.0,192.82 606.5,192.52 606.0,192.18 605.5,191.82 605.0,191.46 604.5,191.13 604.0,190.84 603.5,190.59 603.0,190.36 602.5,190.14 602.0,189.92 601.5,189.70 601.0,189.50 600.5,189.34 600.0,189.24 599.5,189.19 599.0,189.14 598.5,189.06 598.0,188.92 597.5,188.70 597.0,188.44 596.5,188.18 596.0,187.95 595.5,187.78 595.0,187.68 594.5,187.62 594.0,187.57 593.5,187.51 593.0,187.41 592.5,187.29 592.0,187.15 591.5,186.98 591.0,186.78 590.5,186.56 590.0,186.34 589.5,186.13 589.0,185.96 588.5,185.81 588.0,185.67 587.5,185.51 587.0,185.32 586.5,185.10 586.0,184.86 585.5,184.63 585.0,184.41 584.5,184.21 584.0,184.01 583.5,183.81 583.0,183.62 582.5,183.44 582.0,183.27 581.5,183.12 581.0,182.97 580.5,182.80 580.0,182.62 579.5,182.43 579.0,182.22 578.5,182.00 578.0,181.77 577.5,181.54 577.0,181.30 576.5,181.04 576.0,180.77 575.5,180.48 575.0,180.18 574.5,179.88 574.0,179.58 573.5,179.28 573.0,178.97 572.5,178.65 572.0,178.31 571.5,177.95 571.0,177.56 570.5,177.14 570.0,176.72 569.5,176.29 569.0,175.85 568.5,175.42 568.0,174.98 567.5,174.54 567.0,174.10 566.5,173.66 566.0,173.22 565.5,172.79 565.0,172.36 564.5,171.95 564.0,171.53 563.5,171.13 563.0,170.73 562.5,170.34 562.0,169.96 561.5,169.59 561.0,169.23 560.5,168.87 560.0,168.53 559.5,168.19 559.0,167.86 558.5,167.54 558.0,167.23 557.5,166.93 557.0,166.63 556.5,166.34 556.0,166.06 555.5,165.79 555.0,165.51 554.5,165.25 554.0,164.99 553.5,164.73 553.0,164.47 552.5,164.22 552.0,163.96 551.5,163.71 551.0,163.46 550.5,163.21 550.0,162.96 549.5,162.71 549.0,162.46 548.5,162.20 548.0,161.94 547.5,161.68 547.0,161.41 546.5,161.14 546.0,160.87 545.5,160.59 545.0,160.30 544.5,160.01 544.0,159.72 543.5,159.41 543.0,159.11 542.5,158.79 542.0,158.47 541.5,158.15 541.0,157.82 540.5,157.49 540.0,157.15 539.5,156.80 539.0,156.45 538.5,156.09 538.0,155.73 537.5,155.36 537.0,154.99 536.5,154.62 536.0,154.24 535.5,153.85 535.0,153.46 534.5,153.07 534.0,152.67 533.5,152.27 533.0,151.87 532.5,151.46 532.0,151.05 531.5,150.63 531.0,150.21 530.5,149.78 530.0,149.36 529.5,148.92 529.0,148.49 528.5,148.05 528.0,147.60 527.5,147.16 527.0,146.71 526.5,146.26 526.0,145.80 525.5,145.34 525.0,144.89 524.5,144.43 524.0,143.97 523.5,143.50 523.0,143.04 522.5,142.58 522.0,142.12 521.5,141.66 521.0,141.20 520.5,140.75 520.0,140.29 519.5,139.84 519.0,139.39 518.5,138.93 518.0,138.48 517.5,138.04 517.0,137.59 516.5,137.14 516.0,136.70 515.5,136.25 515.0,135.81 514.5,135.36 514.0,134.92 513.5,134.47 513.0,134.02 512.5,133.57 512.0,133.13 511.5,132.68 511.0,132.22 510.5,131.77 510.0,131.32 509.5,130.86 509.0,130.41 508.5,129.95 508.0,129.49 507.5,129.04 507.0,128.58 506.5,128.13 506.0,127.67 505.5,127.22 505.0,126.77 504.5,126.33 504.0,125.89 503.5,125.45 503.0,125.02 502.5,124.59 502.0,124.17 501.5,123.76 501.0,123.35 500.5,122.94 500.0,122.55 499.5,122.16 499.0,121.77 498.5,121.39 498.0,121.02 497.5,120.66 497.0,120.30 496.5,119.94 496.0,119.59 495.5,119.24 495.0,118.90 494.5,118.56 494.0,118.23 493.5,117.90 493.0,117.57 492.5,117.25 492.0,116.92 491.5,116.61 491.0,116.29 490.5,115.98 490.0,115.66 489.5,115.35 489.0,115.05 488.5,114.74 488.0,114.44 487.5,114.14 487.0,113.84 486.5,113.54 486.0,113.25 485.5,112.96 485.0,112.67 484.5,112.39 484.0,112.11 483.5,111.83 483.0,111.55 482.5,111.28 482.0,111.02 481.5,110.75 481.0,110.49 480.5,110.24 480.0,109.99 479.5,109.74 479.0,109.50 478.5,109.26 478.0,109.03 477.5,108.81 477.0,108.59 476.5,108.37 476.0,108.17 475.5,107.96 475.0,107.76 474.5,107.57 474.0,107.38 473.5,107.20 473.0,107.02 472.5,106.84 472.0,106.67 471.5,106.50 471.0,106.33 470.5,106.16 470.0,106.00 469.5,105.83 469.0,105.67 468.5,105.51 468.0,105.34 467.5,105.18 467.0,105.01 466.5,104.85 466.0,104.68 465.5,104.51 465.0,104.34 464.5,104.17 464.0,104.00 463.5,103.83 463.0,103.65 462.5,103.48 462.0,103.30 461.5,103.13 461.0,102.95 460.5,102.78 460.0,102.60 459.5,102.43 459.0,102.26 458.5,102.08 458.0,101.91 457.5,101.74 457.0,101.57 456.5,101.40 456.0,101.23 455.5,101.06 455.0,100.90 454.5,100.74 454.0,100.58 453.5,100.42 453.0,100.26 452.5,100.11 452.0,99.95 451.5,99.80 451.0,99.65 450.5,99.51 450.0,99.36 449.5,99.22 449.0,99.08 448.5,98.94 448.0,98.80 447.5,98.67 447.0,98.53 446.5,98.40 446.0,98.27 445.5,98.14 445.0,98.01 444.5,97.88 444.0,97.76 443.5,97.64 443.0,97.51 442.5,97.39 442.0,97.28 441.5,97.16 441.0,97.04 440.5,96.93 440.0,96.82 439.5,96.71 439.0,96.61 438.5,96.50 438.0,96.40 437.5,96.30 437.0,96.20 436.5,96.11 436.0,96.02 435.5,95.93 435.0,95.84 434.5,95.75 434.0,95.67 433.5,95.58 433.0,95.50 432.5,95.43 432.0,95.35 431.5,95.27 431.0,95.20 430.5,95.13 430.0,95.05 429.5,94.98 429.0,94.91 428.5,94.85 428.0,94.78 427.5,94.71 427.0,94.64 426.5,94.58 426.0,94.51 425.5,94.45 425.0,94.39 424.5,94.32 424.0,94.26 423.5,94.20 423.0,94.14 422.5,94.08 422.0,94.02 421.5,93.96 421.0,93.91 420.5,93.85 420.0,93.79 419.5,93.74 419.0,93.68 418.5,93.63 418.0,93.58 417.5,93.53 417.0,93.48 416.5,93.43 416.0,93.38 415.5,93.34 415.0,93.29 414.5,93.25 414.0,93.21 413.5,93.16 413.0,93.12 412.5,93.09 412.0,93.05 411.5,93.01 411.0,92.98 410.5,92.95 410.0,92.91 409.5,92.88 409.0,92.86 408.5,92.83 408.0,92.80 407.5,92.78 407.0,92.76 406.5,92.73 406.0,92.71 405.5,92.69 405.0,92.67 404.5,92.66 404.0,92.64 403.5,92.62 403.0,92.61 Z" fill="#440154" fill-opacity="0.30" stroke="none"/>
<path d="M403.0,64.90 403.5,64.91 404.0,64.92 404.5,64.92 405.0,64.93 405.5,64.94 406.0,64.94 406.5,64.95 407.0,64.96 407.5,64.97 408.0,64.98 408.5,65.00 409.0,65.01 409.5,65.02 410.0,65.04 410.5,65.05 411.0,65.07 411.5,65.08 412.0,65.10 412.5,65.12 413.0,65.14 413.5,65.16 414.0,65.18 414.5,65.20 415.0,65.23 415.5,65.25 416.0,65.28 416.5,65.30 417.0,65.33 417.5,65.36 418.0,65.38 418.5,65.41 419.0,65.44 419.5,65.47 420.0,65.50 420.5,65.53 421.0,65.57 421.5,65.60 422.0,65.63 422.5,65.67 423.0,65.70 423.5,65.74 424.0,65.77 424.5,65.81 425.0,65.85 425.5,65.89 426.0,65.93 426.5,65.97 427.0,66.01 427.5,66.05 428.0,66.09 428.5,66.13 429.0,66.18 429.5,66.22 430.0,66.27 430.5,66.31 431.0,66.36 431.5,66.41 432.0,66.46 432.5,66.52 433.0,66.57 433.5,66.63 434.0,66.69 434.5,66.76 435.0,66.82 435.5,66.89 436.0,66.97 436.5,67.04 437.0,67.12 437.5,67.21 438.0,67.30 438.5,67.39 439.0,67.48 439.5,67.58 440.0,67.69 440.5,67.79 441.0,67.91 441.5,68.02 442.0,68.14 442.5,68.26 443.0,68.39 443.5,68.52 444.0,68.65 444.5,68.78 445.0,68.92 445.5,69.06 446.0,69.21 446.5,69.36 447.0,69.50 447.5,69.66 448.0,69.81 448.5,69.96 449.0,70.12 449.5,70.28 450.0,70.44 450.5,70.60 451.0,70.77 451.5,70.93 452.0,71.10 452.5,71.26 453.0,71.43 453.5,71.60 454.0,71.77 454.5,71.94 455.0,72.10 455.5,72.27 456.0,72.44 456.5,72.62 457.0,72.79 457.5,72.96 458.0,73.13 458.5,73.30 459.0,73.48 459.5,73.65 460.0,73.82 460.5,74.00 461.0,74.18 461.5,74.35 462.0,74.53 462.5,74.71 463.0,74.89 463.5,75.07 464.0,75.26 464.5,75.44 465.0,75.63 465.5,75.82 466.0,76.01 466.5,76.20 467.0,76.39 467.5,76.59 468.0,76.78 468.5,76.98 469.0,77.18 469.5,77.38 470.0,77.58 470.5,77.78 471.0,77.99 471.5,78.19 472.0,78.40 472.5,78.61 473.0,78.82 473.5,79.03 474.0,79.24 474.5,79.45 475.0,79.66 475.5,79.87 476.0,80.08 476.5,80.30 477.0,80.51 477.5,80.73 478.0,80.94 478.5,81.15 479.0,81.37 479.5,81.59 480.0,81.80 480.5,82.02 481.0,82.24 481.5,82.45 482.0,82.67 482.5,82.89 483.0,83.11 483.5,83.33 484.0,83.55 484.5,83.77 485.0,84.00 485.5,84.22 486.0,84.45 486.5,84.67 487.0,84.91 487.5,85.14 488.0,85.37 488.5,85.61 489.0,85.85 489.5,86.09 490.0,86.34 490.5,86.59 491.0,86.84 491.5,87.10 492.0,87.36 492.5,87.62 493.0,87.89 493.5,88.16 494.0,88.44 494.5,88.72 495.0,89.01 495.5,89.30 496.0,89.60 496.5,89.90 497.0,90.20 497.5,90.51 498.0,90.83 498.5,91.15 499.0,91.48 499.5,91.81 500.0,92.14 500.5,92.49 501.0,92.84 501.5,93.19 502.0,93.55 502.5,93.92 503.0,94.30 503.5,94.68 504.0,95.07 504.5,95.47 505.0,95.87 505.5,96.28 506.0,96.70 506.5,97.14 507.0,97.58 507.5,98.03 508.0,98.49 508.5,98.96 509.0,99.44 509.5,99.94 510.0,100.44 510.5,100.96 511.0,101.49 511.5,102.04 512.0,102.59 512.5,103.16 513.0,103.75 513.5,104.34 514.0,104.95 514.5,105.56 515.0,106.20 515.5,106.84 516.0,107.49 516.5,108.15 517.0,108.83 517.5,109.51 518.0,110.20 518.5,110.90 519.0,111.61 519.5,112.32 520.0,113.04 520.5,113.77 521.0,114.50 521.5,115.24 522.0,115.98 522.5,116.73 523.0,117.47 523.5,118.22 524.0,118.98 524.5,119.74 525.0,120.50 525.5,121.26 526.0,122.02 526.5,122.79 527.0,123.57 527.5,124.35 528.0,125.13 528.5,125.92 529.0,126.71 529.5,127.51 530.0,128.31 530.5,129.12 531.0,129.93 531.5,130.74 532.0,131.56 532.5,132.38 533.0,133.20 533.5,134.02 534.0,134.84 534.5,135.66 535.0,136.47 535.5,137.28 536.0,138.08 536.5,138.88 537.0,139.66 537.5,140.45 538.0,141.22 538.5,141.98 539.0,142.73 539.5,143.47 540.0,144.20 540.5,144.93 541.0,145.64 541.5,146.34 542.0,147.03 542.5,147.71 543.0,148.38 543.5,149.04 544.0,149.69 544.5,150.33 545.0,150.96 545.5,151.57 546.0,152.18 546.5,152.78 547.0,153.36 547.5,153.94 548.0,154.50 548.5,155.05 549.0,155.59 549.5,156.11 550.0,156.63 550.5,157.13 551.0,157.62 551.5,158.09 552.0,158.55 552.5,159.00 553.0,159.43 553.5,159.85 554.0,160.26 554.5,160.65 555.0,161.03 555.5,161.41 556.0,161.77 556.5,162.12 557.0,162.47 557.5,162.81 558.0,163.14 558.5,163.46 559.0,163.78 559.5,164.10 560.0,164.41 560.5,164.72 561.0,165.03 561.5,165.33 562.0,165.64 562.5,165.95 563.0,166.26 563.5,166.58 564.0,166.90 564.5,167.23 565.0,167.57 565.5,167.92 566.0,168.29 566.5,168.67 567.0,169.06 567.5,169.47 568.0,169.90 568.5,170.35 569.0,170.82 569.5,171.31 570.0,171.82 570.5,172.34 571.0,172.87 571.5,173.42 572.0,174.00 572.5,174.60 573.0,175.22 573.5,175.87 574.0,176.55 574.5,177.26 575.0,177.99 575.5,178.74 576.0,179.52 576.5,180.32 577.0,181.15 577.5,182.00 578.0,182.88 578.5,183.77 579.0,184.65 579.5,185.51 580.0,186.33 580.5,187.11 581.0,187.86 581.5,188.57 582.0,189.24 582.5,189.90 583.0,190.52 583.5,191.12 584.0,191.69 584.5,192.22 585.0,192.71 585.5,193.17 586.0,193.61 586.5,194.03 587.0,194.47 587.5,194.91 588.0,195.36 588.5,195.82 589.0,196.25 589.5,196.66 590.0,197.06 590.5,197.44 591.0,197.82 591.5,198.22 592.0,198.63 592.5,199.07 593.0,199.52 593.5,199.99 594.0,200.46 594.5,200.95 595.0,201.44 595.5,201.94 596.0,202.43 596.5,202.87 597.0,203.28 597.5,203.64 598.0,203.97 598.5,204.28 599.0,204.60 599.5,204.94 600.0,205.32 600.5,205.79 601.0,206.37 601.5,207.04 602.0,207.77 602.5,208.47 603.0,209.11 603.5,209.68 604.0,210.20 604.5,210.70 605.0,211.19 605.5,211.66 606.0,212.10 606.5,212.52 607.0,212.92 607.5,213.34 608.0,213.80 608.5,214.31 609.0,214.85 609.5,215.40 610.0,215.91 610.5,216.37 611.0,216.74 611.5,217.06 612.0,217.36 612.5,217.70 613.0,218.09 613.5,218.54 614.0,218.99 614.5,219.39 615.0,219.69 615.5,219.90 616.0,220.05 616.5,220.18 617.0,220.35 617.5,220.60 618.0,220.92 618.5,221.29 619.0,221.67 619.5,222.03 620.0,222.34 620.5,222.61 621.0,222.84 621.5,223.07 622.0,223.31 622.5,223.55 623.0,223.78 623.5,223.96 624.0,224.09 624.5,224.20 625.0,224.35 625.5,224.58 626.0,224.93 626.5,225.39 627.0,225.92 627.5,226.48 628.0,227.03 628.5,227.53 629.0,227.95 629.5,228.28 630.0,228.53 630.5,228.71 631.0,228.87 631.5,229.04 632.0,229.23 632.5,229.44 633.0,229.65 633.5,229.88 634.0,230.15 634.5,230.46 635.0,230.80 635.5,231.15 636.0,231.48 636.5,231.77 637.0,232.04 637.5,232.32 638.0,232.63 638.5,232.97 639.0,233.32 639.5,233.66 640.0,233.97 640.5,234.28 641.0,234.57 641.5,234.87 642.0,235.15 642.5,235.44 643.0,235.77 643.5,236.16 644.0,236.63 644.5,237.15 645.0,237.70 645.5,238.25 646.0,238.76 646.5,239.18 647.0,239.46 647.5,239.57 648.0,239.53 648.5,239.40 649.0,239.23 649.5,239.09 650.0,239.04 650.5,239.12 651.0,239.34 651.5,239.72 652.0,240.21 652.5,240.79 653.0,241.41 653.5,242.07 654.0,242.77 654.5,243.48 655.0,244.16 655.5,244.73 656.0,245.13 656.5,245.34 657.0,245.45 657.5,245.55 658.0,245.73 658.5,246.02 659.0,246.42 659.5,246.88 660.0,247.31 660.5,247.64 661.0,247.85 661.5,247.95 662.0,248.03 662.5,248.16 663.0,248.40 663.5,248.77 664.0,249.21 664.5,249.63 665.0,249.89 665.5,249.94 666.0,249.80 666.5,249.59 667.0,249.43 667.5,249.38 668.0,249.45 668.5,249.58 669.0,249.77 669.5,250.02 670.0,250.36 670.5,250.80 671.0,251.32 671.5,251.83 672.0,252.29 672.5,252.65 673.0,252.91 673.5,253.09 674.0,253.19 674.5,253.23 675.0,253.21 675.5,253.18 676.0,253.20 676.5,253.32 677.0,253.55 677.5,253.87 678.0,254.25 678.5,254.64 679.0,255.00 679.5,255.27 680.0,255.39 680.5,255.32 681.0,255.08 681.5,254.79 682.0,254.57 682.5,254.53 683.0,254.71 683.5,255.07 684.0,255.48 684.5,255.79 L684.5,263.10 684.0,262.89 683.5,262.66 683.0,262.40 682.5,262.13 682.0,261.90 681.5,261.76 681.0,261.73 680.5,261.78 680.0,261.84 679.5,261.84 679.0,261.77 678.5,261.63 678.0,261.48 677.5,261.39 677.0,261.38 676.5,261.41 676.0,261.39 675.5,261.23 675.0,260.88 674.5,260.39 674.0,259.83 673.5,259.29 673.0,258.81 672.5,258.37 672.0,257.95 671.5,257.52 671.0,257.07 670.5,256.62 670.0,256.19 669.5,255.84 669.0,255.63 668.5,255.59 668.0,255.67 667.5,255.78 667.0,255.82 666.5,255.76 666.0,255.60 665.5,255.38 665.0,255.14 664.5,254.88 664.0,254.61 663.5,254.33 663.0,254.06 662.5,253.79 662.0,253.51 661.5,253.19 661.0,252.78 660.5,252.32 660.0,251.83 659.5,251.37 659.0,250.98 658.5,250.65 658.0,250.39 657.5,250.18 657.0,250.02 656.5,249.87 656.0,249.70 655.5,249.44 655.0,249.08 654.5,248.65 654.0,248.25 653.5,247.99 653.0,247.90 652.5,247.96 652.0,248.07 651.5,248.10 651.0,247.97 650.5,247.69 650.0,247.29 649.5,246.84 649.0,246.38 648.5,245.94 648.0,245.57 647.5,245.28 647.0,245.10 646.5,244.97 646.0,244.85 645.5,244.66 645.0,244.36 644.5,243.97 644.0,243.52 643.5,243.05 643.0,242.57 642.5,242.07 642.0,241.58 641.5,241.08 641.0,240.60 640.5,240.16 640.0,239.79 639.5,239.51 639.0,239.32 638.5,239.17 638.0,239.03 637.5,238.84 637.0,238.59 636.5,238.27 636.0,237.91 635.5,237.53 635.0,237.14 634.5,236.76 634.0,236.39 633.5,236.07 633.0,235.79 632.5,235.57 632.0,235.40 631.5,235.24 631.0,235.01 630.5,234.70 630.0,234.31 629.5,233.91 629.0,233.56 628.5,233.30 628.0,233.13 627.5,233.01 627.0,232.90 626.5,232.75 626.0,232.54 625.5,232.27 625.0,231.93 624.5,231.57 624.0,231.17 623.5,230.75 623.0,230.29 622.5,229.82 622.0,229.37 621.5,228.95 621.0,228.58 620.5,228.27 620.0,227.99 619.5,227.74 619.0,227.47 618.5,227.15 618.0,226.76 617.5,226.32 617.0,225.84 616.5,225.36 616.0,224.90 615.5,224.46 615.0,224.06 614.5,223.71 614.0,223.40 613.5,223.11 613.0,222.80 612.5,222.46 612.0,222.09 611.5,221.70 611.0,221.31 610.5,220.92 610.0,220.54 609.5,220.19 609.0,219.87 608.5,219.61 608.0,219.40 607.5,219.20 607.0,218.97 606.5,218.67 606.0,218.29 605.5,217.84 605.0,217.35 604.5,216.89 604.0,216.48 603.5,216.13 603.0,215.82 602.5,215.51 602.0,215.18 601.5,214.83 601.0,214.48 600.5,214.16 600.0,213.88 599.5,213.62 599.0,213.40 598.5,213.22 598.0,213.08 597.5,212.96 597.0,212.84 596.5,212.70 596.0,212.54 595.5,212.34 595.0,212.13 594.5,211.91 594.0,211.68 593.5,211.44 593.0,211.19 592.5,210.93 592.0,210.67 591.5,210.41 591.0,210.16 590.5,209.92 590.0,209.70 589.5,209.50 589.0,209.35 588.5,209.24 588.0,209.16 587.5,209.07 587.0,208.96 586.5,208.79 586.0,208.58 585.5,208.35 585.0,208.09 584.5,207.83 584.0,207.55 583.5,207.26 583.0,206.95 582.5,206.63 582.0,206.33 581.5,206.04 581.0,205.76 580.5,205.49 580.0,205.22 579.5,204.94 579.0,204.64 578.5,204.32 578.0,203.97 577.5,203.59 577.0,203.20 576.5,202.79 576.0,202.39 575.5,202.01 575.0,201.63 574.5,201.25 574.0,200.88 573.5,200.51 573.0,200.14 572.5,199.78 572.0,199.43 571.5,199.08 571.0,198.73 570.5,198.37 570.0,198.01 569.5,197.65 569.0,197.30 568.5,196.94 568.0,196.58 567.5,196.22 567.0,195.85 566.5,195.49 566.0,195.12 565.5,194.76 565.0,194.40 564.5,194.03 564.0,193.67 563.5,193.30 563.0,192.93 562.5,192.57 562.0,192.20 561.5,191.83 561.0,191.46 560.5,191.09 560.0,190.72 559.5,190.35 559.0,189.97 558.5,189.60 558.0,189.23 557.5,188.85 557.0,188.48 556.5,188.10 556.0,187.72 555.5,187.34 555.0,186.96 554.5,186.58 554.0,186.20 553.5,185.82 553.0,185.43 552.5,185.05 552.0,184.66 551.5,184.28 551.0,183.89 550.5,183.50 550.0,183.11 549.5,182.72 549.0,182.34 548.5,181.95 548.0,181.56 547.5,181.17 547.0,180.79 546.5,180.40 546.0,180.02 545.5,179.64 545.0,179.26 544.5,178.89 544.0,178.51 543.5,178.14 543.0,177.78 542.5,177.41 542.0,177.05 541.5,176.70 541.0,176.35 540.5,176.00 540.0,175.66 539.5,175.32 539.0,174.99 538.5,174.66 538.0,174.34 537.5,174.02 537.0,173.71 536.5,173.41 536.0,173.11 535.5,172.82 535.0,172.53 534.5,172.25 534.0,171.97 533.5,171.70 533.0,171.43 532.5,171.16 532.0,170.90 531.5,170.64 531.0,170.38 530.5,170.13 530.0,169.87 529.5,169.62 529.0,169.36 528.5,169.11 528.0,168.85 527.5,168.59 527.0,168.33 526.5,168.06 526.0,167.79 525.5,167.52 525.0,167.25 524.5,166.96 524.0,166.68 523.5,166.39 523.0,166.09 522.5,165.79 522.0,165.49 521.5,165.18 521.0,164.86 520.5,164.55 520.0,164.22 519.5,163.89 519.0,163.56 518.5,163.22 518.0,162.88 517.5,162.54 517.0,162.19 516.5,161.83 516.0,161.47 515.5,161.11 515.0,160.74 514.5,160.36 514.0,159.99 513.5,159.60 513.0,159.22 512.5,158.83 512.0,158.43 511.5,158.03 511.0,157.63 510.5,157.23 510.0,156.82 509.5,156.41 509.0,156.00 508.5,155.58 508.0,155.17 507.5,154.76 507.0,154.34 506.5,153.93 506.0,153.52 505.5,153.11 505.0,152.71 504.5,152.31 504.0,151.91 503.5,151.51 503.0,151.12 502.5,150.74 502.0,150.35 501.5,149.98 501.0,149.61 500.5,149.24 500.0,148.87 499.5,148.52 499.0,148.16 498.5,147.81 498.0,147.47 497.5,147.13 497.0,146.79 496.5,146.46 496.0,146.13 495.5,145.81 495.0,145.49 494.5,145.17 494.0,144.86 493.5,144.55 493.0,144.25 492.5,143.95 492.0,143.65 491.5,143.36 491.0,143.07 490.5,142.79 490.0,142.51 489.5,142.23 489.0,141.96 488.5,141.68 488.0,141.42 487.5,141.15 487.0,140.89 486.5,140.63 486.0,140.37 485.5,140.12 485.0,139.86 484.5,139.61 484.0,139.36 483.5,139.11 483.0,138.86 482.5,138.61 482.0,138.36 481.5,138.12 481.0,137.87 480.5,137.62 480.0,137.38 479.5,137.13 479.0,136.88 478.5,136.63 478.0,136.38 477.5,136.14 477.0,135.89 476.5,135.64 476.0,135.39 475.5,135.14 475.0,134.90 474.5,134.65 474.0,134.40 473.5,134.16 473.0,133.91 472.5,133.67 472.0,133.43 471.5,133.19 471.0,132.96 470.5,132.72 470.0,132.49 469.5,132.26 469.0,132.04 468.5,131.81 468.0,131.60 467.5,131.38 467.0,131.17 466.5,130.96 466.0,130.76 465.5,130.56 465.0,130.36 464.5,130.17 464.0,129.98 463.5,129.80 463.0,129.61 462.5,129.44 462.0,129.26 461.5,129.09 461.0,128.92 460.5,128.75 460.0,128.59 459.5,128.43 459.0,128.27 458.5,128.11 458.0,127.95 457.5,127.80 457.0,127.65 456.5,127.49 456.0,127.34 455.5,127.20 455.0,127.05 454.5,126.91 454.0,126.76 453.5,126.62 453.0,126.48 452.5,126.34 452.0,126.20 451.5,126.07 451.0,125.93 450.5,125.80 450.0,125.67 449.5,125.54 449.0,125.41 448.5,125.28 448.0,125.15 447.5,125.03 447.0,124.91 446.5,124.79 446.0,124.67 445.5,124.55 445.0,124.43 444.5,124.32 444.0,124.21 443.5,124.10 443.0,123.99 442.5,123.88 442.0,123.78 441.5,123.67 441.0,123.57 440.5,123.47 440.0,123.37 439.5,123.28 439.0,123.18 438.5,123.09 438.0,123.00 437.5,122.91 437.0,122.82 436.5,122.74 436.0,122.65 435.5,122.57 435.0,122.49 434.5,122.41 434.0,122.33 433.5,122.26 433.0,122.18 432.5,122.11 432.0,122.04 431.5,121.96 431.0,121.89 430.5,121.82 430.0,121.76 429.5,121.69 429.0,121.62 428.5,121.55 428.0,121.49 427.5,121.42 427.0,121.36 426.5,121.30 426.0,121.23 425.5,121.17 425.0,121.11 424.5,121.05 424.0,120.99 423.5,120.93 423.0,120.87 422.5,120.81 422.0,120.75 421.5,120.69 421.0,120.64 420.5,120.58 420.0,120.53 419.5,120.47 419.0,120.42 418.5,120.37 418.0,120.32 417.5,120.27 417.0,120.22 416.5,120.17 416.0,120.12 415.5,120.08 415.0,120.03 414.5,119.99 414.0,119.94 413.5,119.90 413.0,119.86 412.5,119.82 412.0,119.79 411.5,119.75 411.0,119.71 410.5,119.68 410.0,119.65 409.5,119.62 409.0,119.59 408.5,119.56 408.0,119.53 407.5,119.50 407.0,119.48 406.5,119.45 406.0,119.43 405.5,119.41 405.0,119.38 404.5,119.36 404.0,119.34 403.5,119.32 403.0,119.30 Z" fill="#3b528b" fill-opacity="0.30" stroke="none"/>
<path d="M403.0,144.40 403.5,144.41 404.0,144.42 404.5,144.43 405.0,144.43 405.5,144.44 406.0,144.45 406.5,144.46 407.0,144.48 407.5,144.49 408.0,144.50 408.5,144.51 409.0,144.53 409.5,144.55 410.0,144.56 410.5,144.58 411.0,144.60 411.5,144.62 412.0,144.64 412.5,144.66 413.0,144.68 413.5,144.71 414.0,144.73 414.5,144.76 415.0,144.79 415.5,144.81 416.0,144.84 416.5,144.87 417.0,144.90 417.5,144.93 418.0,144.97 418.5,145.00 419.0,145.03 419.5,145.07 420.0,145.10 420.5,145.14 421.0,145.18 421.5,145.21 422.0,145.25 422.5,145.29 423.0,145.33 423.5,145.37 424.0,145.41 424.5,145.46 425.0,145.50 425.5,145.54 426.0,145.59 426.5,145.63 427.0,145.68 427.5,145.72 428.0,145.77 428.5,145.82 429.0,145.87 429.5,145.92 430.0,145.97 430.5,146.02 431.0,146.08 431.5,146.13 432.0,146.19 432.5,146.25 433.0,146.31 433.5,146.38 434.0,146.45 434.5,146.52 435.0,146.59 435.5,146.67 436.0,146.74 436.5,146.83 437.0,146.91 437.5,147.00 438.0,147.09 438.5,147.18 439.0,147.28 439.5,147.38 440.0,147.48 440.5,147.59 441.0,147.69 441.5,147.81 442.0,147.92 442.5,148.03 443.0,148.15 443.5,148.27 444.0,148.39 444.5,148.52 445.0,148.65 445.5,148.78 446.0,148.91 446.5,149.04 447.0,149.18 447.5,149.31 448.0,149.45 448.5,149.60 449.0,149.74 449.5,149.89 450.0,150.04 450.5,150.19 451.0,150.35 451.5,150.50 452.0,150.67 452.5,150.83 453.0,151.00 453.5,151.17 454.0,151.34 454.5,151.52 455.0,151.69 455.5,151.88 456.0,152.06 456.5,152.25 457.0,152.43 457.5,152.62 458.0,152.82 458.5,153.01 459.0,153.21 459.5,153.40 460.0,153.60 460.5,153.80 461.0,154.01 461.5,154.21 462.0,154.41 462.5,154.62 463.0,154.83 463.5,155.03 464.0,155.24 464.5,155.45 465.0,155.66 465.5,155.88 466.0,156.09 466.5,156.30 467.0,156.52 467.5,156.74 468.0,156.95 468.5,157.17 469.0,157.40 469.5,157.62 470.0,157.84 470.5,158.07 471.0,158.29 471.5,158.52 472.0,158.75 472.5,158.99 473.0,159.22 473.5,159.45 474.0,159.69 474.5,159.93 475.0,160.17 475.5,160.41 476.0,160.66 476.5,160.90 477.0,161.15 477.5,161.40 478.0,161.66 478.5,161.91 479.0,162.17 479.5,162.43 480.0,162.69 480.5,162.96 481.0,163.22 481.5,163.49 482.0,163.77 482.5,164.04 483.0,164.32 483.5,164.60 484.0,164.88 484.5,165.16 485.0,165.45 485.5,165.73 486.0,166.02 486.5,166.31 487.0,166.59 487.5,166.88 488.0,167.17 488.5,167.47 489.0,167.76 489.5,168.05 490.0,168.34 490.5,168.63 491.0,168.92 491.5,169.21 492.0,169.50 492.5,169.78 493.0,170.07 493.5,170.36 494.0,170.65 494.5,170.94 495.0,171.22 495.5,171.51 496.0,171.80 496.5,172.08 497.0,172.37 497.5,172.65 498.0,172.94 498.5,173.23 499.0,173.51 499.5,173.80 500.0,174.08 500.5,174.37 501.0,174.65 501.5,174.94 502.0,175.22 502.5,175.51 503.0,175.80 503.5,176.08 504.0,176.37 504.5,176.66 505.0,176.94 505.5,177.23 506.0,177.52 506.5,177.81 507.0,178.10 507.5,178.38 508.0,178.67 508.5,178.96 509.0,179.25 509.5,179.54 510.0,179.83 510.5,180.12 511.0,180.41 511.5,180.70 512.0,180.98 512.5,181.27 513.0,181.56 513.5,181.85 514.0,182.13 514.5,182.42 515.0,182.70 515.5,182.98 516.0,183.27 516.5,183.55 517.0,183.82 517.5,184.10 518.0,184.38 518.5,184.65 519.0,184.93 519.5,185.20 520.0,185.47 520.5,185.75 521.0,186.02 521.5,186.29 522.0,186.56 522.5,186.83 523.0,187.11 523.5,187.38 524.0,187.66 524.5,187.94 525.0,188.22 525.5,188.51 526.0,188.79 526.5,189.08 527.0,189.38 527.5,189.68 528.0,189.98 528.5,190.29 529.0,190.60 529.5,190.91 530.0,191.23 530.5,191.55 531.0,191.88 531.5,192.21 532.0,192.54 532.5,192.88 533.0,193.22 533.5,193.56 534.0,193.90 534.5,194.25 535.0,194.60 535.5,194.95 536.0,195.30 536.5,195.66 537.0,196.01 537.5,196.36 538.0,196.72 538.5,197.07 539.0,197.43 539.5,197.78 540.0,198.14 540.5,198.49 541.0,198.85 541.5,199.20 542.0,199.55 542.5,199.91 543.0,200.26 543.5,200.61 544.0,200.96 544.5,201.32 545.0,201.67 545.5,202.02 546.0,202.37 546.5,202.72 547.0,203.07 547.5,203.42 548.0,203.77 548.5,204.12 549.0,204.46 549.5,204.81 550.0,205.15 550.5,205.50 551.0,205.84 551.5,206.17 552.0,206.51 552.5,206.84 553.0,207.17 553.5,207.50 554.0,207.83 554.5,208.15 555.0,208.46 555.5,208.77 556.0,209.08 556.5,209.39 557.0,209.69 557.5,209.98 558.0,210.27 558.5,210.55 559.0,210.83 559.5,211.11 560.0,211.38 560.5,211.64 561.0,211.91 561.5,212.16 562.0,212.42 562.5,212.66 563.0,212.91 563.5,213.15 564.0,213.39 564.5,213.62 565.0,213.85 565.5,214.08 566.0,214.31 566.5,214.53 567.0,214.74 567.5,214.95 568.0,215.16 568.5,215.38 569.0,215.59 569.5,215.81 570.0,216.04 570.5,216.26 571.0,216.49 571.5,216.70 572.0,216.91 572.5,217.11 573.0,217.29 573.5,217.46 574.0,217.63 574.5,217.80 575.0,217.99 575.5,218.20 576.0,218.42 576.5,218.65 577.0,218.87 577.5,219.09 578.0,219.29 578.5,219.49 579.0,219.68 579.5,219.86 580.0,220.04 580.5,220.21 581.0,220.37 581.5,220.52 582.0,220.69 582.5,220.89 583.0,221.12 583.5,221.38 584.0,221.64 584.5,221.90 585.0,222.13 585.5,222.33 586.0,222.50 586.5,222.64 587.0,222.77 587.5,222.91 588.0,223.07 588.5,223.26 589.0,223.46 589.5,223.64 590.0,223.81 590.5,223.98 591.0,224.15 591.5,224.33 592.0,224.53 592.5,224.72 593.0,224.90 593.5,225.07 594.0,225.24 594.5,225.43 595.0,225.64 595.5,225.86 596.0,226.06 596.5,226.24 597.0,226.41 597.5,226.58 598.0,226.78 598.5,227.00 599.0,227.26 599.5,227.53 600.0,227.79 600.5,228.02 601.0,228.21 601.5,228.36 602.0,228.51 602.5,228.66 603.0,228.82 603.5,229.01 604.0,229.21 604.5,229.42 605.0,229.63 605.5,229.82 606.0,229.99 606.5,230.12 607.0,230.24 607.5,230.38 608.0,230.56 608.5,230.80 609.0,231.10 609.5,231.45 610.0,231.80 610.5,232.12 611.0,232.35 611.5,232.49 612.0,232.55 612.5,232.58 613.0,232.66 613.5,232.84 614.0,233.12 614.5,233.46 615.0,233.82 615.5,234.17 616.0,234.52 616.5,234.88 617.0,235.24 617.5,235.57 618.0,235.84 618.5,236.05 619.0,236.21 619.5,236.38 620.0,236.58 620.5,236.83 621.0,237.11 621.5,237.38 622.0,237.59 622.5,237.74 623.0,237.83 623.5,237.92 624.0,238.07 624.5,238.33 625.0,238.68 625.5,239.08 626.0,239.46 626.5,239.76 627.0,239.96 627.5,240.06 628.0,240.10 628.5,240.16 629.0,240.30 629.5,240.55 630.0,240.86 630.5,241.18 631.0,241.45 631.5,241.64 632.0,241.77 632.5,241.86 633.0,241.94 633.5,242.01 634.0,242.11 634.5,242.23 635.0,242.41 635.5,242.63 636.0,242.86 636.5,243.09 637.0,243.28 637.5,243.45 638.0,243.63 638.5,243.82 639.0,244.02 639.5,244.20 640.0,244.37 640.5,244.54 641.0,244.73 641.5,244.96 642.0,245.22 642.5,245.48 643.0,245.70 643.5,245.84 644.0,245.93 644.5,246.02 645.0,246.16 645.5,246.40 646.0,246.72 646.5,247.07 647.0,247.37 647.5,247.60 648.0,247.75 648.5,247.83 649.0,247.88 649.5,247.90 650.0,247.91 650.5,247.93 651.0,247.96 651.5,248.04 652.0,248.16 652.5,248.29 653.0,248.40 653.5,248.48 654.0,248.55 654.5,248.69 655.0,248.94 655.5,249.31 656.0,249.77 656.5,250.24 657.0,250.68 657.5,251.06 658.0,251.35 658.5,251.50 659.0,251.47 659.5,251.27 660.0,251.02 660.5,250.84 661.0,250.85 661.5,251.06 662.0,251.42 662.5,251.85 663.0,252.33 663.5,252.87 664.0,253.44 664.5,253.98 665.0,254.39 665.5,254.54 666.0,254.36 666.5,253.88 667.0,253.19 667.5,252.46 668.0,251.87 668.5,251.59 669.0,251.69 669.5,252.13 670.0,252.77 670.5,253.45 671.0,254.04 671.5,254.51 672.0,254.90 672.5,255.22 673.0,255.51 673.5,255.79 674.0,256.08 674.5,256.39 675.0,256.69 675.5,256.87 676.0,256.88 676.5,256.73 677.0,256.51 677.5,256.38 678.0,256.44 678.5,256.71 679.0,257.11 679.5,257.55 680.0,257.92 680.5,258.16 681.0,258.29 681.5,258.37 682.0,258.49 682.5,258.65 683.0,258.83 683.5,259.00 684.0,259.15 684.5,259.28 L684.5,266.08 684.0,266.01 683.5,266.03 683.0,266.12 682.5,266.27 682.0,266.43 681.5,266.57 681.0,266.61 680.5,266.53 680.0,266.32 679.5,266.03 679.0,265.71 678.5,265.46 678.0,265.31 677.5,265.27 677.0,265.29 676.5,265.27 676.0,265.12 675.5,264.82 675.0,264.38 674.5,263.92 674.0,263.54 673.5,263.31 673.0,263.20 672.5,263.15 672.0,263.02 671.5,262.77 671.0,262.39 670.5,261.94 670.0,261.49 669.5,261.10 669.0,260.79 668.5,260.55 668.0,260.36 667.5,260.23 667.0,260.15 666.5,260.10 666.0,260.04 665.5,259.94 665.0,259.77 664.5,259.53 664.0,259.24 663.5,258.96 663.0,258.74 662.5,258.60 662.0,258.51 661.5,258.43 661.0,258.36 660.5,258.34 660.0,258.40 659.5,258.54 659.0,258.75 658.5,258.96 658.0,259.14 657.5,259.26 657.0,259.27 656.5,259.10 656.0,258.76 655.5,258.28 655.0,257.76 654.5,257.31 654.0,256.98 653.5,256.78 653.0,256.65 652.5,256.54 652.0,256.38 651.5,256.18 651.0,255.96 650.5,255.75 650.0,255.60 649.5,255.54 649.0,255.57 648.5,255.70 648.0,255.87 647.5,256.03 647.0,256.10 646.5,256.02 646.0,255.78 645.5,255.35 645.0,254.77 644.5,254.08 644.0,253.39 643.5,252.80 643.0,252.39 642.5,252.16 642.0,252.09 641.5,252.07 641.0,252.07 640.5,252.04 640.0,251.98 639.5,251.91 639.0,251.83 638.5,251.70 638.0,251.54 637.5,251.36 637.0,251.20 636.5,251.11 636.0,251.09 635.5,251.12 635.0,251.13 634.5,251.09 634.0,250.99 633.5,250.81 633.0,250.54 632.5,250.15 632.0,249.65 631.5,249.07 631.0,248.49 630.5,248.00 630.0,247.67 629.5,247.49 629.0,247.41 628.5,247.37 628.0,247.31 627.5,247.19 627.0,246.98 626.5,246.69 626.0,246.33 625.5,245.96 625.0,245.61 624.5,245.36 624.0,245.23 623.5,245.23 623.0,245.33 622.5,245.46 622.0,245.56 621.5,245.58 621.0,245.46 620.5,245.23 620.0,244.88 619.5,244.46 619.0,244.00 618.5,243.55 618.0,243.12 617.5,242.77 617.0,242.50 616.5,242.33 616.0,242.23 615.5,242.15 615.0,242.05 614.5,241.91 614.0,241.73 613.5,241.53 613.0,241.35 612.5,241.20 612.0,241.08 611.5,240.98 611.0,240.88 610.5,240.76 610.0,240.60 609.5,240.39 609.0,240.12 608.5,239.84 608.0,239.60 607.5,239.41 607.0,239.27 606.5,239.12 606.0,238.94 605.5,238.69 605.0,238.39 604.5,238.05 604.0,237.72 603.5,237.43 603.0,237.21 602.5,237.06 602.0,236.96 601.5,236.90 601.0,236.83 600.5,236.74 600.0,236.60 599.5,236.44 599.0,236.26 598.5,236.09 598.0,235.94 597.5,235.81 597.0,235.71 596.5,235.63 596.0,235.58 595.5,235.53 595.0,235.48 594.5,235.41 594.0,235.32 593.5,235.20 593.0,235.07 592.5,234.94 592.0,234.81 591.5,234.67 591.0,234.51 590.5,234.34 590.0,234.18 589.5,234.05 589.0,233.94 588.5,233.84 588.0,233.75 587.5,233.66 587.0,233.56 586.5,233.47 586.0,233.36 585.5,233.24 585.0,233.09 584.5,232.94 584.0,232.80 583.5,232.68 583.0,232.59 582.5,232.52 582.0,232.45 581.5,232.37 581.0,232.27 580.5,232.16 580.0,232.04 579.5,231.91 579.0,231.77 578.5,231.63 578.0,231.48 577.5,231.33 577.0,231.18 576.5,231.03 576.0,230.91 575.5,230.81 575.0,230.73 574.5,230.65 574.0,230.55 573.5,230.43 573.0,230.30 572.5,230.15 572.0,230.00 571.5,229.86 571.0,229.73 570.5,229.60 570.0,229.46 569.5,229.32 569.0,229.18 568.5,229.04 568.0,228.91 567.5,228.77 567.0,228.63 566.5,228.49 566.0,228.34 565.5,228.20 565.0,228.05 564.5,227.89 564.0,227.74 563.5,227.58 563.0,227.42 562.5,227.26 562.0,227.10 561.5,226.93 561.0,226.76 560.5,226.58 560.0,226.40 559.5,226.22 559.0,226.03 558.5,225.84 558.0,225.65 557.5,225.45 557.0,225.25 556.5,225.04 556.0,224.83 555.5,224.61 555.0,224.39 554.5,224.17 554.0,223.94 553.5,223.71 553.0,223.48 552.5,223.24 552.0,223.00 551.5,222.76 551.0,222.51 550.5,222.26 550.0,222.01 549.5,221.76 549.0,221.50 548.5,221.25 548.0,220.99 547.5,220.73 547.0,220.47 546.5,220.20 546.0,219.94 545.5,219.68 545.0,219.41 544.5,219.15 544.0,218.88 543.5,218.62 543.0,218.36 542.5,218.09 542.0,217.83 541.5,217.57 541.0,217.31 540.5,217.05 540.0,216.79 539.5,216.54 539.0,216.28 538.5,216.03 538.0,215.78 537.5,215.53 537.0,215.29 536.5,215.05 536.0,214.81 535.5,214.57 535.0,214.34 534.5,214.11 534.0,213.89 533.5,213.67 533.0,213.45 532.5,213.23 532.0,213.02 531.5,212.82 531.0,212.62 530.5,212.42 530.0,212.22 529.5,212.03 529.0,211.85 528.5,211.66 528.0,211.49 527.5,211.31 527.0,211.14 526.5,210.97 526.0,210.80 525.5,210.64 525.0,210.48 524.5,210.32 524.0,210.17 523.5,210.01 523.0,209.86 522.5,209.71 522.0,209.57 521.5,209.42 521.0,209.28 520.5,209.13 520.0,208.99 519.5,208.85 519.0,208.71 518.5,208.57 518.0,208.43 517.5,208.29 517.0,208.15 516.5,208.02 516.0,207.88 515.5,207.74 515.0,207.60 514.5,207.46 514.0,207.32 513.5,207.17 513.0,207.03 512.5,206.89 512.0,206.74 511.5,206.59 511.0,206.44 510.5,206.29 510.0,206.14 509.5,205.98 509.0,205.82 508.5,205.66 508.0,205.50 507.5,205.33 507.0,205.16 506.5,204.99 506.0,204.81 505.5,204.63 505.0,204.45 504.5,204.27 504.0,204.08 503.5,203.88 503.0,203.69 502.5,203.49 502.0,203.29 501.5,203.08 501.0,202.87 500.5,202.66 500.0,202.44 499.5,202.22 499.0,202.00 498.5,201.77 498.0,201.55 497.5,201.32 497.0,201.08 496.5,200.85 496.0,200.61 495.5,200.38 495.0,200.14 494.5,199.89 494.0,199.65 493.5,199.41 493.0,199.16 492.5,198.92 492.0,198.67 491.5,198.43 491.0,198.18 490.5,197.94 490.0,197.69 489.5,197.45 489.0,197.20 488.5,196.96 488.0,196.72 487.5,196.47 487.0,196.23 486.5,196.00 486.0,195.76 485.5,195.52 485.0,195.29 484.5,195.06 484.0,194.83 483.5,194.60 483.0,194.37 482.5,194.15 482.0,193.93 481.5,193.71 481.0,193.49 480.5,193.27 480.0,193.06 479.5,192.84 479.0,192.63 478.5,192.42 478.0,192.21 477.5,192.00 477.0,191.80 476.5,191.59 476.0,191.38 475.5,191.18 475.0,190.98 474.5,190.77 474.0,190.57 473.5,190.37 473.0,190.17 472.5,189.97 472.0,189.77 471.5,189.57 471.0,189.37 470.5,189.17 470.0,188.98 469.5,188.78 469.0,188.59 468.5,188.39 468.0,188.20 467.5,188.01 467.0,187.81 466.5,187.62 466.0,187.43 465.5,187.25 465.0,187.06 464.5,186.87 464.0,186.69 463.5,186.50 463.0,186.32 462.5,186.14 462.0,185.96 461.5,185.78 461.0,185.61 460.5,185.43 460.0,185.26 459.5,185.09 459.0,184.92 458.5,184.75 458.0,184.59 457.5,184.42 457.0,184.26 456.5,184.10 456.0,183.94 455.5,183.78 455.0,183.63 454.5,183.48 454.0,183.32 453.5,183.18 453.0,183.03 452.5,182.88 452.0,182.74 451.5,182.60 451.0,182.46 450.5,182.32 450.0,182.19 449.5,182.06 449.0,181.92 448.5,181.79 448.0,181.66 447.5,181.54 447.0,181.41 446.5,181.29 446.0,181.16 445.5,181.04 445.0,180.92 444.5,180.80 444.0,180.68 443.5,180.57 443.0,180.45 442.5,180.34 442.0,180.22 441.5,180.11 441.0,180.00 440.5,179.89 440.0,179.78 439.5,179.67 439.0,179.57 438.5,179.46 438.0,179.36 437.5,179.25 437.0,179.15 436.5,179.05 436.0,178.95 435.5,178.85 435.0,178.76 434.5,178.66 434.0,178.56 433.5,178.47 433.0,178.38 432.5,178.29 432.0,178.20 431.5,178.11 431.0,178.02 430.5,177.93 430.0,177.85 429.5,177.76 429.0,177.68 428.5,177.60 428.0,177.52 427.5,177.44 427.0,177.36 426.5,177.28 426.0,177.21 425.5,177.13 425.0,177.06 424.5,176.99 424.0,176.91 423.5,176.84 423.0,176.77 422.5,176.70 422.0,176.63 421.5,176.56 421.0,176.50 420.5,176.43 420.0,176.37 419.5,176.30 419.0,176.24 418.5,176.17 418.0,176.11 417.5,176.05 417.0,175.99 416.5,175.93 416.0,175.87 415.5,175.81 415.0,175.75 414.5,175.69 414.0,175.63 413.5,175.58 413.0,175.52 412.5,175.47 412.0,175.42 411.5,175.36 411.0,175.31 410.5,175.26 410.0,175.21 409.5,175.17 409.0,175.12 408.5,175.07 408.0,175.02 407.5,174.98 407.0,174.94 406.5,174.89 406.0,174.85 405.5,174.81 405.0,174.76 404.5,174.72 404.0,174.68 403.5,174.64 403.0,174.60 Z" fill="#21918c" fill-opacity="0.30" stroke="none"/>
<path d="M403.0,52.50 403.5,52.57 404.0,52.64 404.5,52.72 405.0,52.79 405.5,52.86 406.0,52.93 406.5,53.00 407.0,53.07 407.5,53.14 408.0,53.21 408.5,53.28 409.0,53.34 409.5,53.41 410.0,53.47 410.5,53.53 411.0,53.59 411.5,53.65 412.0,53.71 412.5,53.77 413.0,53.83 413.5,53.88 414.0,53.94 414.5,53.99 415.0,54.04 415.5,54.10 416.0,54.15 416.5,54.20 417.0,54.25 417.5,54.30 418.0,54.35 418.5,54.40 419.0,54.44 419.5,54.49 420.0,54.54 420.5,54.59 421.0,54.64 421.5,54.69 422.0,54.74 422.5,54.80 423.0,54.85 423.5,54.90 424.0,54.96 424.5,55.01 425.0,55.07 425.5,55.13 426.0,55.19 426.5,55.25 427.0,55.31 427.5,55.37 428.0,55.44 428.5,55.50 429.0,55.57 429.5,55.64 430.0,55.71 430.5,55.78 431.0,55.85 431.5,55.92 432.0,56.00 432.5,56.07 433.0,56.15 433.5,56.23 434.0,56.31 434.5,56.39 435.0,56.47 435.5,56.55 436.0,56.64 436.5,56.72 437.0,56.81 437.5,56.90 438.0,56.99 438.5,57.07 439.0,57.17 439.5,57.26 440.0,57.35 440.5,57.44 441.0,57.54 441.5,57.64 442.0,57.73 442.5,57.83 443.0,57.93 443.5,58.03 444.0,58.13 444.5,58.24 445.0,58.34 445.5,58.45 446.0,58.55 446.5,58.66 447.0,58.77 447.5,58.88 448.0,58.99 448.5,59.11 449.0,59.22 449.5,59.34 450.0,59.45 450.5,59.57 451.0,59.69 451.5,59.81 452.0,59.94 452.5,60.06 453.0,60.19 453.5,60.31 454.0,60.44 454.5,60.57 455.0,60.70 455.5,60.84 456.0,60.97 456.5,61.11 457.0,61.25 457.5,61.39 458.0,61.53 458.5,61.67 459.0,61.82 459.5,61.96 460.0,62.11 460.5,62.26 461.0,62.42 461.5,62.57 462.0,62.73 462.5,62.89 463.0,63.05 463.5,63.21 464.0,63.38 464.5,63.55 465.0,63.72 465.5,63.89 466.0,64.07 466.5,64.25 467.0,64.43 467.5,64.61 468.0,64.79 468.5,64.98 469.0,65.17 469.5,65.36 470.0,65.56 470.5,65.75 471.0,65.95 471.5,66.15 472.0,66.36 472.5,66.56 473.0,66.77 473.5,66.98 474.0,67.19 474.5,67.40 475.0,67.62 475.5,67.83 476.0,68.05 476.5,68.27 477.0,68.49 477.5,68.71 478.0,68.94 478.5,69.16 479.0,69.39 479.5,69.62 480.0,69.85 480.5,70.09 481.0,70.32 481.5,70.56 482.0,70.80 482.5,71.04 483.0,71.28 483.5,71.52 484.0,71.77 484.5,72.02 485.0,72.27 485.5,72.52 486.0,72.78 486.5,73.04 487.0,73.30 487.5,73.56 488.0,73.82 488.5,74.09 489.0,74.36 489.5,74.63 490.0,74.90 490.5,75.18 491.0,75.46 491.5,75.74 492.0,76.02 492.5,76.31 493.0,76.60 493.5,76.89 494.0,77.18 494.5,77.48 495.0,77.78 495.5,78.08 496.0,78.38 496.5,78.69 497.0,79.00 497.5,79.31 498.0,79.63 498.5,79.94 499.0,80.26 499.5,80.59 500.0,80.91 500.5,81.25 501.0,81.58 501.5,81.92 502.0,82.26 502.5,82.60 503.0,82.95 503.5,83.31 504.0,83.67 504.5,84.03 505.0,84.40 505.5,84.78 506.0,85.16 506.5,85.54 507.0,85.94 507.5,86.33 508.0,86.74 508.5,87.15 509.0,87.57 509.5,88.00 510.0,88.43 510.5,88.88 511.0,89.33 511.5,89.79 512.0,90.26 512.5,90.73 513.0,91.22 513.5,91.71 514.0,92.21 514.5,92.72 515.0,93.24 515.5,93.77 516.0,94.31 516.5,94.86 517.0,95.41 517.5,95.98 518.0,96.55 518.5,97.13 519.0,97.72 519.5,98.32 520.0,98.93 520.5,99.55 521.0,100.18 521.5,100.81 522.0,101.45 522.5,102.11 523.0,102.76 523.5,103.43 524.0,104.10 524.5,104.78 525.0,105.47 525.5,106.16 526.0,106.86 526.5,107.56 527.0,108.26 527.5,108.96 528.0,109.67 528.5,110.37 529.0,111.07 529.5,111.78 530.0,112.48 530.5,113.18 531.0,113.88 531.5,114.57 532.0,115.26 532.5,115.95 533.0,116.63 533.5,117.32 534.0,118.00 534.5,118.67 535.0,119.35 535.5,120.02 536.0,120.70 536.5,121.37 537.0,122.05 537.5,122.73 538.0,123.41 538.5,124.09 539.0,124.78 539.5,125.47 540.0,126.17 540.5,126.88 541.0,127.59 541.5,128.31 542.0,129.04 542.5,129.77 543.0,130.51 543.5,131.25 544.0,132.01 544.5,132.77 545.0,133.53 545.5,134.31 546.0,135.08 546.5,135.86 547.0,136.64 547.5,137.42 548.0,138.19 548.5,138.97 549.0,139.74 549.5,140.50 550.0,141.26 550.5,142.00 551.0,142.74 551.5,143.47 552.0,144.18 552.5,144.88 553.0,145.57 553.5,146.25 554.0,146.92 554.5,147.57 555.0,148.22 555.5,148.85 556.0,149.48 556.5,150.10 557.0,150.71 557.5,151.31 558.0,151.90 558.5,152.49 559.0,153.08 559.5,153.66 560.0,154.23 560.5,154.80 561.0,155.37 561.5,155.93 562.0,156.49 562.5,157.04 563.0,157.59 563.5,158.14 564.0,158.69 564.5,159.23 565.0,159.77 565.5,160.30 566.0,160.83 566.5,161.36 567.0,161.88 567.5,162.40 568.0,162.92 568.5,163.44 569.0,163.95 569.5,164.46 570.0,164.96 570.5,165.46 571.0,165.96 571.5,166.46 572.0,166.95 572.5,167.45 573.0,167.95 573.5,168.44 574.0,168.94 574.5,169.42 575.0,169.89 575.5,170.35 576.0,170.79 576.5,171.22 577.0,171.65 577.5,172.07 578.0,172.48 578.5,172.89 579.0,173.30 579.5,173.71 580.0,174.11 580.5,174.51 581.0,174.90 581.5,175.28 582.0,175.64 582.5,175.99 583.0,176.33 583.5,176.64 584.0,176.95 584.5,177.23 585.0,177.51 585.5,177.78 586.0,178.06 586.5,178.35 587.0,178.66 587.5,178.96 588.0,179.24 588.5,179.52 589.0,179.77 589.5,180.02 590.0,180.26 590.5,180.51 591.0,180.77 591.5,181.03 592.0,181.30 592.5,181.56 593.0,181.81 593.5,182.05 594.0,182.29 594.5,182.55 595.0,182.82 595.5,183.13 596.0,183.45 596.5,183.79 597.0,184.12 597.5,184.45 598.0,184.77 598.5,185.09 599.0,185.39 599.5,185.68 600.0,185.93 600.5,186.16 601.0,186.36 601.5,186.58 602.0,186.81 602.5,187.06 603.0,187.33 603.5,187.61 604.0,187.90 604.5,188.21 605.0,188.53 605.5,188.87 606.0,189.20 606.5,189.52 607.0,189.81 607.5,190.09 608.0,190.34 608.5,190.59 609.0,190.83 609.5,191.06 610.0,191.29 610.5,191.51 611.0,191.73 611.5,191.96 612.0,192.20 612.5,192.44 613.0,192.69 613.5,192.97 614.0,193.28 614.5,193.60 615.0,193.92 615.5,194.21 616.0,194.46 616.5,194.69 617.0,194.90 617.5,195.10 618.0,195.29 618.5,195.49 619.0,195.70 619.5,195.94 620.0,196.20 620.5,196.48 621.0,196.74 621.5,196.95 622.0,197.13 622.5,197.29 623.0,197.46 623.5,197.68 624.0,197.95 624.5,198.26 625.0,198.57 625.5,198.87 626.0,199.16 626.5,199.44 627.0,199.73 627.5,200.05 628.0,200.41 628.5,200.80 629.0,201.21 629.5,201.60 630.0,201.95 630.5,202.26 631.0,202.55 631.5,202.84 632.0,203.14 632.5,203.48 633.0,203.87 633.5,204.30 634.0,204.76 634.5,205.21 635.0,205.63 635.5,205.97 636.0,206.23 636.5,206.45 637.0,206.67 637.5,206.93 638.0,207.22 638.5,207.54 639.0,207.86 639.5,208.17 640.0,208.48 640.5,208.84 641.0,209.24 641.5,209.70 642.0,210.20 642.5,210.71 643.0,211.21 643.5,211.68 644.0,212.08 644.5,212.39 645.0,212.60 645.5,212.75 646.0,212.89 646.5,213.08 647.0,213.35 647.5,213.71 648.0,214.16 648.5,214.66 649.0,215.20 649.5,215.73 650.0,216.22 650.5,216.66 651.0,217.05 651.5,217.44 652.0,217.83 652.5,218.22 653.0,218.57 653.5,218.84 654.0,219.04 654.5,219.18 655.0,219.32 655.5,219.50 656.0,219.75 656.5,220.07 657.0,220.46 657.5,220.89 658.0,221.36 658.5,221.85 659.0,222.33 659.5,222.79 660.0,223.24 660.5,223.67 661.0,224.08 661.5,224.43 662.0,224.69 662.5,224.84 663.0,224.91 663.5,224.94 664.0,224.99 664.5,225.10 665.0,225.29 665.5,225.56 666.0,225.89 666.5,226.28 667.0,226.73 667.5,227.21 668.0,227.72 668.5,228.24 669.0,228.79 669.5,229.36 670.0,229.93 670.5,230.44 671.0,230.83 671.5,231.08 672.0,231.20 672.5,231.25 673.0,231.32 673.5,231.47 674.0,231.75 674.5,232.16 675.0,232.66 675.5,233.18 676.0,233.68 676.5,234.12 677.0,234.50 677.5,234.85 678.0,235.16 678.5,235.46 679.0,235.73 679.5,236.01 680.0,236.32 680.5,236.69 681.0,237.12 681.5,237.59 682.0,238.08 682.5,238.58 683.0,239.10 683.5,239.62 684.0,240.15 684.5,240.64" fill="none" stroke="#440154" stroke-width="2.1" stroke-linejoin="round" stroke-linecap="butt"/>
<path d="M403.0,91.81 403.5,91.82 404.0,91.84 404.5,91.86 405.0,91.87 405.5,91.89 406.0,91.91 406.5,91.93 407.0,91.96 407.5,91.98 408.0,92.00 408.5,92.03 409.0,92.06 409.5,92.08 410.0,92.11 410.5,92.15 411.0,92.18 411.5,92.21 412.0,92.25 412.5,92.29 413.0,92.32 413.5,92.36 414.0,92.41 414.5,92.45 415.0,92.49 415.5,92.54 416.0,92.58 416.5,92.63 417.0,92.68 417.5,92.73 418.0,92.78 418.5,92.83 419.0,92.88 419.5,92.94 420.0,92.99 420.5,93.05 421.0,93.11 421.5,93.16 422.0,93.22 422.5,93.28 423.0,93.34 423.5,93.40 424.0,93.46 424.5,93.52 425.0,93.59 425.5,93.65 426.0,93.71 426.5,93.78 427.0,93.84 427.5,93.91 428.0,93.98 428.5,94.05 429.0,94.11 429.5,94.18 430.0,94.25 430.5,94.33 431.0,94.40 431.5,94.47 432.0,94.55 432.5,94.63 433.0,94.70 433.5,94.78 434.0,94.87 434.5,94.95 435.0,95.04 435.5,95.13 436.0,95.22 436.5,95.31 437.0,95.40 437.5,95.50 438.0,95.60 438.5,95.70 439.0,95.81 439.5,95.91 440.0,96.02 440.5,96.13 441.0,96.24 441.5,96.36 442.0,96.48 442.5,96.59 443.0,96.71 443.5,96.84 444.0,96.96 444.5,97.08 445.0,97.21 445.5,97.34 446.0,97.47 446.5,97.60 447.0,97.73 447.5,97.87 448.0,98.00 448.5,98.14 449.0,98.28 449.5,98.42 450.0,98.56 450.5,98.71 451.0,98.85 451.5,99.00 452.0,99.15 452.5,99.31 453.0,99.46 453.5,99.62 454.0,99.78 454.5,99.94 455.0,100.10 455.5,100.26 456.0,100.43 456.5,100.60 457.0,100.77 457.5,100.94 458.0,101.11 458.5,101.28 459.0,101.46 459.5,101.63 460.0,101.80 460.5,101.98 461.0,102.15 461.5,102.33 462.0,102.50 462.5,102.68 463.0,102.85 463.5,103.03 464.0,103.20 464.5,103.37 465.0,103.54 465.5,103.71 466.0,103.88 466.5,104.05 467.0,104.21 467.5,104.38 468.0,104.54 468.5,104.71 469.0,104.87 469.5,105.03 470.0,105.20 470.5,105.36 471.0,105.53 471.5,105.70 472.0,105.87 472.5,106.04 473.0,106.22 473.5,106.40 474.0,106.58 474.5,106.77 475.0,106.96 475.5,107.16 476.0,107.37 476.5,107.57 477.0,107.79 477.5,108.01 478.0,108.23 478.5,108.46 479.0,108.70 479.5,108.94 480.0,109.19 480.5,109.44 481.0,109.69 481.5,109.95 482.0,110.22 482.5,110.48 483.0,110.75 483.5,111.03 484.0,111.31 484.5,111.59 485.0,111.87 485.5,112.16 486.0,112.45 486.5,112.74 487.0,113.04 487.5,113.34 488.0,113.64 488.5,113.94 489.0,114.25 489.5,114.55 490.0,114.86 490.5,115.18 491.0,115.49 491.5,115.81 492.0,116.12 492.5,116.45 493.0,116.77 493.5,117.10 494.0,117.43 494.5,117.76 495.0,118.10 495.5,118.44 496.0,118.79 496.5,119.14 497.0,119.49 497.5,119.85 498.0,120.22 498.5,120.59 499.0,120.96 499.5,121.35 500.0,121.73 500.5,122.13 501.0,122.53 501.5,122.94 502.0,123.35 502.5,123.77 503.0,124.19 503.5,124.62 504.0,125.06 504.5,125.50 505.0,125.94 505.5,126.39 506.0,126.85 506.5,127.30 507.0,127.76 507.5,128.23 508.0,128.69 508.5,129.16 509.0,129.63 509.5,130.10 510.0,130.57 510.5,131.05 511.0,131.52 511.5,132.00 512.0,132.47 512.5,132.95 513.0,133.43 513.5,133.91 514.0,134.39 514.5,134.87 515.0,135.35 515.5,135.83 516.0,136.32 516.5,136.80 517.0,137.28 517.5,137.77 518.0,138.25 518.5,138.74 519.0,139.22 519.5,139.71 520.0,140.20 520.5,140.69 521.0,141.18 521.5,141.67 522.0,142.17 522.5,142.67 523.0,143.17 523.5,143.67 524.0,144.18 524.5,144.69 525.0,145.21 525.5,145.73 526.0,146.26 526.5,146.79 527.0,147.33 527.5,147.88 528.0,148.43 528.5,148.98 529.0,149.54 529.5,150.11 530.0,150.68 530.5,151.25 531.0,151.82 531.5,152.39 532.0,152.96 532.5,153.53 533.0,154.09 533.5,154.65 534.0,155.21 534.5,155.76 535.0,156.30 535.5,156.84 536.0,157.36 536.5,157.88 537.0,158.38 537.5,158.88 538.0,159.36 538.5,159.83 539.0,160.30 539.5,160.75 540.0,161.18 540.5,161.61 541.0,162.03 541.5,162.43 542.0,162.82 542.5,163.21 543.0,163.58 543.5,163.94 544.0,164.30 544.5,164.64 545.0,164.97 545.5,165.30 546.0,165.62 546.5,165.94 547.0,166.25 547.5,166.56 548.0,166.87 548.5,167.18 549.0,167.48 549.5,167.79 550.0,168.11 550.5,168.42 551.0,168.75 551.5,169.07 552.0,169.41 552.5,169.75 553.0,170.09 553.5,170.44 554.0,170.80 554.5,171.16 555.0,171.53 555.5,171.90 556.0,172.27 556.5,172.65 557.0,173.03 557.5,173.41 558.0,173.79 558.5,174.17 559.0,174.55 559.5,174.94 560.0,175.32 560.5,175.71 561.0,176.09 561.5,176.48 562.0,176.87 562.5,177.27 563.0,177.66 563.5,178.06 564.0,178.46 564.5,178.87 565.0,179.28 565.5,179.70 566.0,180.12 566.5,180.55 567.0,180.98 567.5,181.41 568.0,181.85 568.5,182.30 569.0,182.75 569.5,183.21 570.0,183.68 570.5,184.16 571.0,184.65 571.5,185.15 572.0,185.65 572.5,186.15 573.0,186.66 573.5,187.17 574.0,187.69 574.5,188.22 575.0,188.77 575.5,189.33 576.0,189.91 576.5,190.51 577.0,191.12 577.5,191.74 578.0,192.37 578.5,193.00 579.0,193.63 579.5,194.26 580.0,194.88 580.5,195.50 581.0,196.12 581.5,196.74 582.0,197.36 582.5,197.97 583.0,198.56 583.5,199.14 584.0,199.69 584.5,200.21 585.0,200.71 585.5,201.19 586.0,201.64 586.5,202.09 587.0,202.52 587.5,202.93 588.0,203.32 588.5,203.68 589.0,204.00 589.5,204.30 590.0,204.57 590.5,204.83 591.0,205.10 591.5,205.36 592.0,205.64 592.5,205.92 593.0,206.22 593.5,206.52 594.0,206.83 594.5,207.13 595.0,207.42 595.5,207.71 596.0,208.01 596.5,208.30 597.0,208.61 597.5,208.92 598.0,209.25 598.5,209.58 599.0,209.92 599.5,210.26 600.0,210.60 600.5,210.95 601.0,211.30 601.5,211.66 602.0,211.99 602.5,212.31 603.0,212.61 603.5,212.89 604.0,213.16 604.5,213.42 605.0,213.69 605.5,213.98 606.0,214.31 606.5,214.68 607.0,215.08 607.5,215.49 608.0,215.88 608.5,216.23 609.0,216.54 609.5,216.83 610.0,217.10 610.5,217.38 611.0,217.68 611.5,217.99 612.0,218.31 612.5,218.60 613.0,218.87 613.5,219.13 614.0,219.39 614.5,219.68 615.0,220.01 615.5,220.35 616.0,220.70 616.5,221.04 617.0,221.37 617.5,221.68 618.0,221.96 618.5,222.20 619.0,222.43 619.5,222.67 620.0,222.93 620.5,223.25 621.0,223.60 621.5,223.98 622.0,224.38 622.5,224.79 623.0,225.19 623.5,225.58 624.0,225.93 624.5,226.22 625.0,226.49 625.5,226.75 626.0,227.02 626.5,227.30 627.0,227.58 627.5,227.85 628.0,228.11 628.5,228.37 629.0,228.66 629.5,228.96 630.0,229.27 630.5,229.57 631.0,229.86 631.5,230.15 632.0,230.45 632.5,230.78 633.0,231.16 633.5,231.54 634.0,231.90 634.5,232.23 635.0,232.51 635.5,232.75 636.0,232.99 636.5,233.27 637.0,233.61 637.5,234.03 638.0,234.55 638.5,235.14 639.0,235.76 639.5,236.38 640.0,236.97 640.5,237.50 641.0,237.96 641.5,238.35 642.0,238.69 642.5,238.97 643.0,239.22 643.5,239.45 644.0,239.68 644.5,239.93 645.0,240.20 645.5,240.46 646.0,240.69 646.5,240.89 647.0,241.06 647.5,241.21 648.0,241.34 648.5,241.47 649.0,241.62 649.5,241.83 650.0,242.11 650.5,242.46 651.0,242.83 651.5,243.14 652.0,243.36 652.5,243.47 653.0,243.48 653.5,243.47 654.0,243.52 654.5,243.68 655.0,243.96 655.5,244.34 656.0,244.79 656.5,245.26 657.0,245.75 657.5,246.27 658.0,246.81 658.5,247.39 659.0,247.95 659.5,248.45 660.0,248.84 660.5,249.08 661.0,249.19 661.5,249.24 662.0,249.30 662.5,249.43 663.0,249.64 663.5,249.93 664.0,250.27 664.5,250.62 665.0,250.98 665.5,251.37 666.0,251.77 666.5,252.20 667.0,252.62 667.5,252.99 668.0,253.28 668.5,253.50 669.0,253.66 669.5,253.83 670.0,254.03 670.5,254.29 671.0,254.59 671.5,254.89 672.0,255.19 672.5,255.47 673.0,255.74 673.5,255.99 674.0,256.25 674.5,256.49 675.0,256.73 675.5,256.96 676.0,257.15 676.5,257.29 677.0,257.34 677.5,257.31 678.0,257.20 678.5,257.04 679.0,256.89 679.5,256.81 680.0,256.87 680.5,257.10 681.0,257.50 681.5,258.02 682.0,258.58 682.5,259.10 683.0,259.50 683.5,259.78 684.0,259.94 684.5,260.07" fill="none" stroke="#3b528b" stroke-width="2.1" stroke-linejoin="round" stroke-linecap="butt"/>
<path d="M403.0,159.01 403.5,159.02 404.0,159.03 404.5,159.04 405.0,159.05 405.5,159.06 406.0,159.08 406.5,159.09 407.0,159.11 407.5,159.12 408.0,159.14 408.5,159.16 409.0,159.18 409.5,159.21 410.0,159.23 410.5,159.26 411.0,159.28 411.5,159.31 412.0,159.34 412.5,159.37 413.0,159.40 413.5,159.44 414.0,159.47 414.5,159.51 415.0,159.55 415.5,159.59 416.0,159.63 416.5,159.67 417.0,159.71 417.5,159.76 418.0,159.80 418.5,159.85 419.0,159.89 419.5,159.94 420.0,159.99 420.5,160.04 421.0,160.09 421.5,160.15 422.0,160.20 422.5,160.25 423.0,160.31 423.5,160.37 424.0,160.42 424.5,160.48 425.0,160.54 425.5,160.60 426.0,160.66 426.5,160.72 427.0,160.78 427.5,160.85 428.0,160.91 428.5,160.98 429.0,161.04 429.5,161.11 430.0,161.18 430.5,161.26 431.0,161.33 431.5,161.41 432.0,161.49 432.5,161.57 433.0,161.65 433.5,161.74 434.0,161.83 434.5,161.92 435.0,162.02 435.5,162.12 436.0,162.22 436.5,162.33 437.0,162.44 437.5,162.56 438.0,162.68 438.5,162.80 439.0,162.92 439.5,163.05 440.0,163.18 440.5,163.32 441.0,163.46 441.5,163.60 442.0,163.74 442.5,163.88 443.0,164.03 443.5,164.17 444.0,164.32 444.5,164.47 445.0,164.62 445.5,164.77 446.0,164.93 446.5,165.08 447.0,165.23 447.5,165.39 448.0,165.54 448.5,165.70 449.0,165.85 449.5,166.01 450.0,166.16 450.5,166.32 451.0,166.48 451.5,166.64 452.0,166.79 452.5,166.95 453.0,167.11 453.5,167.28 454.0,167.44 454.5,167.60 455.0,167.76 455.5,167.93 456.0,168.10 456.5,168.26 457.0,168.43 457.5,168.60 458.0,168.77 458.5,168.94 459.0,169.12 459.5,169.29 460.0,169.46 460.5,169.64 461.0,169.82 461.5,170.00 462.0,170.18 462.5,170.36 463.0,170.54 463.5,170.72 464.0,170.91 464.5,171.09 465.0,171.28 465.5,171.47 466.0,171.66 466.5,171.85 467.0,172.04 467.5,172.24 468.0,172.43 468.5,172.63 469.0,172.82 469.5,173.02 470.0,173.22 470.5,173.42 471.0,173.62 471.5,173.82 472.0,174.02 472.5,174.22 473.0,174.42 473.5,174.63 474.0,174.83 474.5,175.03 475.0,175.24 475.5,175.44 476.0,175.65 476.5,175.85 477.0,176.06 477.5,176.26 478.0,176.47 478.5,176.67 479.0,176.88 479.5,177.08 480.0,177.29 480.5,177.49 481.0,177.70 481.5,177.90 482.0,178.11 482.5,178.32 483.0,178.52 483.5,178.73 484.0,178.94 484.5,179.15 485.0,179.36 485.5,179.58 486.0,179.79 486.5,180.01 487.0,180.23 487.5,180.46 488.0,180.69 488.5,180.92 489.0,181.15 489.5,181.39 490.0,181.63 490.5,181.88 491.0,182.13 491.5,182.39 492.0,182.65 492.5,182.91 493.0,183.18 493.5,183.45 494.0,183.72 494.5,184.00 495.0,184.28 495.5,184.57 496.0,184.85 496.5,185.14 497.0,185.43 497.5,185.72 498.0,186.02 498.5,186.31 499.0,186.61 499.5,186.90 500.0,187.20 500.5,187.50 501.0,187.80 501.5,188.10 502.0,188.41 502.5,188.71 503.0,189.02 503.5,189.32 504.0,189.63 504.5,189.95 505.0,190.26 505.5,190.58 506.0,190.89 506.5,191.21 507.0,191.54 507.5,191.86 508.0,192.18 508.5,192.51 509.0,192.84 509.5,193.16 510.0,193.49 510.5,193.82 511.0,194.14 511.5,194.47 512.0,194.79 512.5,195.11 513.0,195.43 513.5,195.75 514.0,196.07 514.5,196.38 515.0,196.69 515.5,196.99 516.0,197.29 516.5,197.59 517.0,197.88 517.5,198.17 518.0,198.46 518.5,198.74 519.0,199.01 519.5,199.29 520.0,199.55 520.5,199.81 521.0,200.07 521.5,200.33 522.0,200.58 522.5,200.82 523.0,201.07 523.5,201.31 524.0,201.54 524.5,201.78 525.0,202.01 525.5,202.23 526.0,202.46 526.5,202.68 527.0,202.90 527.5,203.12 528.0,203.34 528.5,203.56 529.0,203.77 529.5,203.98 530.0,204.20 530.5,204.41 531.0,204.62 531.5,204.83 532.0,205.04 532.5,205.26 533.0,205.47 533.5,205.68 534.0,205.89 534.5,206.11 535.0,206.32 535.5,206.54 536.0,206.75 536.5,206.97 537.0,207.19 537.5,207.41 538.0,207.63 538.5,207.85 539.0,208.08 539.5,208.31 540.0,208.53 540.5,208.76 541.0,208.99 541.5,209.23 542.0,209.46 542.5,209.69 543.0,209.93 543.5,210.17 544.0,210.40 544.5,210.64 545.0,210.88 545.5,211.13 546.0,211.37 546.5,211.61 547.0,211.85 547.5,212.09 548.0,212.34 548.5,212.58 549.0,212.82 549.5,213.07 550.0,213.31 550.5,213.55 551.0,213.80 551.5,214.04 552.0,214.28 552.5,214.52 553.0,214.76 553.5,214.99 554.0,215.23 554.5,215.47 555.0,215.70 555.5,215.93 556.0,216.17 556.5,216.40 557.0,216.63 557.5,216.85 558.0,217.08 558.5,217.30 559.0,217.52 559.5,217.74 560.0,217.96 560.5,218.18 561.0,218.40 561.5,218.61 562.0,218.83 562.5,219.04 563.0,219.25 563.5,219.46 564.0,219.67 564.5,219.88 565.0,220.08 565.5,220.29 566.0,220.49 566.5,220.70 567.0,220.90 567.5,221.10 568.0,221.30 568.5,221.50 569.0,221.70 569.5,221.89 570.0,222.08 570.5,222.27 571.0,222.47 571.5,222.66 572.0,222.86 572.5,223.05 573.0,223.25 573.5,223.45 574.0,223.65 574.5,223.84 575.0,224.03 575.5,224.21 576.0,224.39 576.5,224.56 577.0,224.74 577.5,224.93 578.0,225.11 578.5,225.30 579.0,225.49 579.5,225.68 580.0,225.85 580.5,226.01 581.0,226.15 581.5,226.28 582.0,226.41 582.5,226.54 583.0,226.68 583.5,226.83 584.0,226.98 584.5,227.14 585.0,227.30 585.5,227.46 586.0,227.63 586.5,227.78 587.0,227.91 587.5,228.03 588.0,228.12 588.5,228.21 589.0,228.30 589.5,228.41 590.0,228.54 590.5,228.69 591.0,228.85 591.5,229.01 592.0,229.15 592.5,229.29 593.0,229.42 593.5,229.54 594.0,229.64 594.5,229.74 595.0,229.84 595.5,229.95 596.0,230.08 596.5,230.23 597.0,230.36 597.5,230.49 598.0,230.62 598.5,230.76 599.0,230.94 599.5,231.16 600.0,231.41 600.5,231.68 601.0,231.96 601.5,232.23 602.0,232.47 602.5,232.67 603.0,232.84 603.5,232.97 604.0,233.08 604.5,233.19 605.0,233.30 605.5,233.45 606.0,233.63 606.5,233.84 607.0,234.07 607.5,234.30 608.0,234.51 608.5,234.68 609.0,234.83 609.5,234.97 610.0,235.13 610.5,235.34 611.0,235.60 611.5,235.92 612.0,236.24 612.5,236.54 613.0,236.79 613.5,236.99 614.0,237.14 614.5,237.27 615.0,237.40 615.5,237.54 616.0,237.68 616.5,237.85 617.0,238.04 617.5,238.25 618.0,238.49 618.5,238.72 619.0,238.94 619.5,239.12 620.0,239.30 620.5,239.50 621.0,239.73 621.5,240.01 622.0,240.33 622.5,240.69 623.0,241.07 623.5,241.49 624.0,241.94 624.5,242.40 625.0,242.84 625.5,243.25 626.0,243.60 626.5,243.89 627.0,244.14 627.5,244.38 628.0,244.62 628.5,244.84 629.0,245.03 629.5,245.15 630.0,245.21 630.5,245.23 631.0,245.26 631.5,245.31 632.0,245.41 632.5,245.54 633.0,245.71 633.5,245.94 634.0,246.21 634.5,246.53 635.0,246.85 635.5,247.15 636.0,247.41 636.5,247.63 637.0,247.80 637.5,247.93 638.0,248.03 638.5,248.10 639.0,248.17 639.5,248.25 640.0,248.39 640.5,248.60 641.0,248.88 641.5,249.19 642.0,249.52 642.5,249.81 643.0,250.07 643.5,250.29 644.0,250.49 644.5,250.72 645.0,250.98 645.5,251.31 646.0,251.67 646.5,252.06 647.0,252.43 647.5,252.74 648.0,252.98 648.5,253.14 649.0,253.27 649.5,253.44 650.0,253.70 650.5,254.09 651.0,254.56 651.5,255.07 652.0,255.55 652.5,255.98 653.0,256.36 653.5,256.68 654.0,256.93 654.5,257.10 655.0,257.19 655.5,257.20 656.0,257.20 656.5,257.23 657.0,257.32 657.5,257.45 658.0,257.61 658.5,257.77 659.0,257.90 659.5,258.01 660.0,258.08 660.5,258.12 661.0,258.17 661.5,258.26 662.0,258.44 662.5,258.68 663.0,258.95 663.5,259.18 664.0,259.35 664.5,259.44 665.0,259.48 665.5,259.52 666.0,259.60 666.5,259.72 667.0,259.88 667.5,260.07 668.0,260.25 668.5,260.41 669.0,260.55 669.5,260.66 670.0,260.77 670.5,260.87 671.0,260.96 671.5,261.02 672.0,261.05 672.5,261.06 673.0,261.10 673.5,261.18 674.0,261.32 674.5,261.49 675.0,261.68 675.5,261.90 676.0,262.14 676.5,262.38 677.0,262.60 677.5,262.77 678.0,262.89 678.5,262.94 679.0,262.93 679.5,262.87 680.0,262.77 680.5,262.64 681.0,262.52 681.5,262.45 682.0,262.47 682.5,262.62 683.0,262.88 683.5,263.20 684.0,263.50 684.5,263.72" fill="none" stroke="#21918c" stroke-width="2.1" stroke-linejoin="round" stroke-linecap="butt"/>
<path d="M403.0,162.91 403.5,162.92 404.0,162.93 404.5,162.94 405.0,162.95 405.5,162.96 406.0,162.98 406.5,162.99 407.0,163.01 407.5,163.03 408.0,163.05 408.5,163.07 409.0,163.09 409.5,163.11 410.0,163.13 410.5,163.16 411.0,163.19 411.5,163.22 412.0,163.25 412.5,163.28 413.0,163.31 413.5,163.34 414.0,163.38 414.5,163.42 415.0,163.45 415.5,163.49 416.0,163.53 416.5,163.58 417.0,163.62 417.5,163.66 418.0,163.71 418.5,163.76 419.0,163.80 419.5,163.85 420.0,163.90 420.5,163.95 421.0,164.00 421.5,164.06 422.0,164.11 422.5,164.16 423.0,164.22 423.5,164.28 424.0,164.33 424.5,164.39 425.0,164.45 425.5,164.51 426.0,164.57 426.5,164.63 427.0,164.69 427.5,164.76 428.0,164.82 428.5,164.89 429.0,164.95 429.5,165.02 430.0,165.10 430.5,165.17 431.0,165.24 431.5,165.32 432.0,165.40 432.5,165.49 433.0,165.58 433.5,165.67 434.0,165.76 434.5,165.86 435.0,165.96 435.5,166.07 436.0,166.18 436.5,166.29 437.0,166.40 437.5,166.52 438.0,166.65 438.5,166.77 439.0,166.90 439.5,167.03 440.0,167.16 440.5,167.30 441.0,167.43 441.5,167.56 442.0,167.70 442.5,167.83 443.0,167.96 443.5,168.10 444.0,168.23 444.5,168.35 445.0,168.48 445.5,168.60 446.0,168.72 446.5,168.84 447.0,168.95 447.5,169.06 448.0,169.16 448.5,169.26 449.0,169.36 449.5,169.45 450.0,169.54 450.5,169.63 451.0,169.71 451.5,169.79 452.0,169.87 452.5,169.94 453.0,170.01 453.5,170.08 454.0,170.15 454.5,170.21 455.0,170.28 455.5,170.34 456.0,170.40 456.5,170.46 457.0,170.52 457.5,170.58 458.0,170.64 458.5,170.69 459.0,170.75 459.5,170.81 460.0,170.87 460.5,170.93 461.0,170.99 461.5,171.06 462.0,171.12 462.5,171.18 463.0,171.25 463.5,171.31 464.0,171.38 464.5,171.45 465.0,171.52 465.5,171.59 466.0,171.66 466.5,171.74 467.0,171.81 467.5,171.88 468.0,171.96 468.5,172.04 469.0,172.11 469.5,172.19 470.0,172.27 470.5,172.34 471.0,172.42 471.5,172.50 472.0,172.58 472.5,172.66 473.0,172.73 473.5,172.81 474.0,172.89 474.5,172.96 475.0,173.04 475.5,173.11 476.0,173.18 476.5,173.26 477.0,173.33 477.5,173.40 478.0,173.46 478.5,173.53 479.0,173.60 479.5,173.66 480.0,173.72 480.5,173.78 481.0,173.84 481.5,173.90 482.0,173.95 482.5,174.01 483.0,174.06 483.5,174.11 484.0,174.16 484.5,174.21 485.0,174.26 485.5,174.31 486.0,174.35 486.5,174.40 487.0,174.44 487.5,174.49 488.0,174.53 488.5,174.57 489.0,174.61 489.5,174.66 490.0,174.70 490.5,174.74 491.0,174.78 491.5,174.82 492.0,174.87 492.5,174.91 493.0,174.95 493.5,174.99 494.0,175.04 494.5,175.08 495.0,175.12 495.5,175.17 496.0,175.21 496.5,175.25 497.0,175.30 497.5,175.35 498.0,175.39 498.5,175.44 499.0,175.48 499.5,175.53 500.0,175.58 500.5,175.63 501.0,175.68 501.5,175.73 502.0,175.78 502.5,175.83 503.0,175.88 503.5,175.93 504.0,175.99 504.5,176.04 505.0,176.10 505.5,176.16 506.0,176.21 506.5,176.27 507.0,176.33 507.5,176.40 508.0,176.46 508.5,176.53 509.0,176.59 509.5,176.66 510.0,176.73 510.5,176.81 511.0,176.88 511.5,176.96 512.0,177.04 512.5,177.12 513.0,177.21 513.5,177.30 514.0,177.39 514.5,177.49 515.0,177.59 515.5,177.69 516.0,177.80 516.5,177.91 517.0,178.03 517.5,178.15 518.0,178.27 518.5,178.40 519.0,178.53 519.5,178.66 520.0,178.80 520.5,178.94 521.0,179.08 521.5,179.22 522.0,179.36 522.5,179.50 523.0,179.64 523.5,179.78 524.0,179.92 524.5,180.06 525.0,180.20 525.5,180.34 526.0,180.47 526.5,180.61 527.0,180.74 527.5,180.87 528.0,181.00 528.5,181.12 529.0,181.25 529.5,181.38 530.0,181.50 530.5,181.63 531.0,181.75 531.5,181.88 532.0,182.01 532.5,182.14 533.0,182.27 533.5,182.40 534.0,182.53 534.5,182.67 535.0,182.81 535.5,182.95 536.0,183.10 536.5,183.25 537.0,183.40 537.5,183.55 538.0,183.71 538.5,183.87 539.0,184.03 539.5,184.20 540.0,184.37 540.5,184.55 541.0,184.73 541.5,184.91 542.0,185.10 542.5,185.29 543.0,185.48 543.5,185.68 544.0,185.88 544.5,186.08 545.0,186.29 545.5,186.51 546.0,186.72 546.5,186.94 547.0,187.16 547.5,187.39 548.0,187.62 548.5,187.85 549.0,188.08 549.5,188.31 550.0,188.54 550.5,188.77 551.0,189.00 551.5,189.23 552.0,189.46 552.5,189.69 553.0,189.91 553.5,190.13 554.0,190.34 554.5,190.55 555.0,190.76 555.5,190.96 556.0,191.15 556.5,191.34 557.0,191.53 557.5,191.71 558.0,191.89 558.5,192.07 559.0,192.24 559.5,192.41 560.0,192.58 560.5,192.75 561.0,192.92 561.5,193.08 562.0,193.25 562.5,193.41 563.0,193.58 563.5,193.75 564.0,193.92 564.5,194.09 565.0,194.26 565.5,194.44 566.0,194.62 566.5,194.80 567.0,194.98 567.5,195.17 568.0,195.36 568.5,195.55 569.0,195.74 569.5,195.93 570.0,196.12 570.5,196.31 571.0,196.51 571.5,196.72 572.0,196.94 572.5,197.16 573.0,197.37 573.5,197.59 574.0,197.79 574.5,198.00 575.0,198.21 575.5,198.42 576.0,198.63 576.5,198.85 577.0,199.06 577.5,199.27 578.0,199.47 578.5,199.67 579.0,199.85 579.5,200.04 580.0,200.23 580.5,200.45 581.0,200.68 581.5,200.94 582.0,201.22 582.5,201.52 583.0,201.82 583.5,202.12 584.0,202.40 584.5,202.66 585.0,202.91 585.5,203.16 586.0,203.41 586.5,203.67 587.0,203.94 587.5,204.21 588.0,204.48 588.5,204.76 589.0,205.06 589.5,205.39 590.0,205.75 590.5,206.12 591.0,206.47 591.5,206.79 592.0,207.06 592.5,207.30 593.0,207.51 593.5,207.73 594.0,207.96 594.5,208.19 595.0,208.42 595.5,208.64 596.0,208.86 596.5,209.09 597.0,209.34 597.5,209.61 598.0,209.91 598.5,210.23 599.0,210.57 599.5,210.91 600.0,211.24 600.5,211.56 601.0,211.85 601.5,212.11 602.0,212.33 602.5,212.53 603.0,212.72 603.5,212.93 604.0,213.17 604.5,213.45 605.0,213.75 605.5,214.06 606.0,214.37 606.5,214.67 607.0,214.97 607.5,215.27 608.0,215.57 608.5,215.84 609.0,216.12 609.5,216.40 610.0,216.70 610.5,217.00 611.0,217.30 611.5,217.58 612.0,217.82 612.5,218.02 613.0,218.21 613.5,218.40 614.0,218.65 614.5,219.00 615.0,219.47 615.5,220.04 616.0,220.62 616.5,221.13 617.0,221.48 617.5,221.67 618.0,221.76 618.5,221.82 619.0,221.93 619.5,222.12 620.0,222.41 620.5,222.75 621.0,223.11 621.5,223.45 622.0,223.78 622.5,224.10 623.0,224.43 623.5,224.75 624.0,225.02 624.5,225.21 625.0,225.32 625.5,225.41 626.0,225.50 626.5,225.63 627.0,225.80 627.5,226.01 628.0,226.27 628.5,226.59 629.0,226.97 629.5,227.43 630.0,227.97 630.5,228.55 631.0,229.14 631.5,229.67 632.0,230.12 632.5,230.49 633.0,230.83 633.5,231.14 634.0,231.41 634.5,231.63 635.0,231.78 635.5,231.85 636.0,231.87 636.5,231.93 637.0,232.07 637.5,232.36 638.0,232.80 638.5,233.36 639.0,233.98 639.5,234.57 640.0,235.09 640.5,235.47 641.0,235.70 641.5,235.78 642.0,235.76 642.5,235.66 643.0,235.55 643.5,235.50 644.0,235.56 644.5,235.73 645.0,235.96 645.5,236.19 646.0,236.33 646.5,236.39 647.0,236.39 647.5,236.43 648.0,236.56 648.5,236.80 649.0,237.12 649.5,237.48 650.0,237.88 650.5,238.32 651.0,238.82 651.5,239.38 652.0,239.95 652.5,240.48 653.0,240.94 653.5,241.32 654.0,241.69 654.5,242.10 655.0,242.58 655.5,243.13 656.0,243.75 656.5,244.44 657.0,245.25 657.5,246.20 658.0,247.24 658.5,248.25 659.0,249.07 659.5,249.60 660.0,249.85 660.5,249.87 661.0,249.78 661.5,249.65 662.0,249.53 662.5,249.42 663.0,249.31 663.5,249.19 664.0,249.07 664.5,249.02 665.0,249.09 665.5,249.35 666.0,249.80 666.5,250.42 667.0,251.13 667.5,251.88 668.0,252.59 668.5,253.24 669.0,253.81 669.5,254.28 670.0,254.60 670.5,254.72 671.0,254.60 671.5,254.28 672.0,253.83 672.5,253.35 673.0,252.94 673.5,252.67 674.0,252.59 674.5,252.69 675.0,252.93 675.5,253.32 676.0,253.89 676.5,254.66 677.0,255.58 677.5,256.55 678.0,257.41 678.5,258.03 679.0,258.36 679.5,258.45 680.0,258.38 680.5,258.29 681.0,258.29 681.5,258.43 682.0,258.76 682.5,259.23 683.0,259.77 683.5,260.28 684.0,260.72 684.5,261.05" fill="none" stroke="#000" stroke-width="2.1" stroke-dasharray="6.85,2.95"/>
</g>
<line x1="51.50" y1="278.50" x2="51.50" y2="283.10" stroke="#000" stroke-width="1.00"/>
<line x1="80.31" y1="278.50" x2="80.31" y2="281.10" stroke="#000" stroke-width="0.80"/>
<line x1="97.16" y1="278.50" x2="97.16" y2="281.10" stroke="#000" stroke-width="0.80"/>
<line x1="109.12" y1="278.50" x2="109.12" y2="281.10" stroke="#000" stroke-width="0.80"/>
<line x1="118.39" y1="278.50" x2="118.39" y2="281.10" stroke="#000" stroke-width="0.80"/>
<line x1="125.97" y1="278.50" x2="125.97" y2="281.10" stroke="#000" stroke-width="0.80"/>
<line x1="132.38" y1="278.50" x2="132.38" y2="281.10" stroke="#000" stroke-width="0.80"/>
<line x1="137.93" y1="278.50" x2="137.93" y2="281.10" stroke="#000" stroke-width="0.80"/>
<line x1="142.82" y1="278.50" x2="142.82" y2="281.10" stroke="#000" stroke-width="0.80"/>
<line x1="147.20" y1="278.50" x2="147.20" y2="283.10" stroke="#000" stroke-width="1.00"/>
<line x1="176.01" y1="278.50" x2="176.01" y2="281.10" stroke="#000" stroke-width="0.80"/>
<line x1="192.86" y1="278.50" x2="192.86" y2="281.10" stroke="#000" stroke-width="0.80"/>
<line x1="204.82" y1="278.50" x2="204.82" y2="281.10" stroke="#000" stroke-width="0.80"/>
<line x1="214.09" y1="278.50" x2="214.09" y2="281.10" stroke="#000" stroke-width="0.80"/>
<line x1="221.67" y1="278.50" x2="221.67" y2="281.10" stroke="#000" stroke-width="0.80"/>
<line x1="228.08" y1="278.50" x2="228.08" y2="281.10" stroke="#000" stroke-width="0.80"/>
<line x1="233.63" y1="278.50" x2="233.63" y2="281.10" stroke="#000" stroke-width="0.80"/>
<line x1="238.52" y1="278.50" x2="238.52" y2="281.10" stroke="#000" stroke-width="0.80"/>
<line x1="242.90" y1="278.50" x2="242.90" y2="283.10" stroke="#000" stroke-width="1.00"/>
<line x1="271.71" y1="278.50" x2="271.71" y2="281.10" stroke="#000" stroke-width="0.80"/>
<line x1="288.56" y1="278.50" x2="288.56" y2="281.10" stroke="#000" stroke-width="0.80"/>
<line x1="300.52" y1="278.50" x2="300.52" y2="281.10" stroke="#000" stroke-width="0.80"/>
<line x1="309.79" y1="278.50" x2="309.79" y2="281.10" stroke="#000" stroke-width="0.80"/>
<line x1="317.37" y1="278.50" x2="317.37" y2="281.10" stroke="#000" stroke-width="0.80"/>
<line x1="323.78" y1="278.50" x2="323.78" y2="281.10" stroke="#000" stroke-width="0.80"/>
<line x1="329.33" y1="278.50" x2="329.33" y2="281.10" stroke="#000" stroke-width="0.80"/>
<line x1="46.90" y1="229.29" x2="51.50" y2="229.29" stroke="#000" stroke-width="1.0"/>
<line x1="46.90" y1="163.96" x2="51.50" y2="163.96" stroke="#000" stroke-width="1.0"/>
<line x1="46.90" y1="98.63" x2="51.50" y2="98.63" stroke="#000" stroke-width="1.0"/>
<line x1="46.90" y1="33.30" x2="51.50" y2="33.30" stroke="#000" stroke-width="1.0"/>
<rect x="51.50" y="0.50" width="281.50" height="278.00" fill="none" stroke="#000" stroke-width="1"/>
<line x1="403.00" y1="278.50" x2="403.00" y2="283.10" stroke="#000" stroke-width="1.00"/>
<line x1="431.81" y1="278.50" x2="431.81" y2="281.10" stroke="#000" stroke-width="0.80"/>
<line x1="448.66" y1="278.50" x2="448.66" y2="281.10" stroke="#000" stroke-width="0.80"/>
<line x1="460.62" y1="278.50" x2="460.62" y2="281.10" stroke="#000" stroke-width="0.80"/>
<line x1="469.89" y1="278.50" x2="469.89" y2="281.10" stroke="#000" stroke-width="0.80"/>
<line x1="477.47" y1="278.50" x2="477.47" y2="281.10" stroke="#000" stroke-width="0.80"/>
<line x1="483.88" y1="278.50" x2="483.88" y2="281.10" stroke="#000" stroke-width="0.80"/>
<line x1="489.43" y1="278.50" x2="489.43" y2="281.10" stroke="#000" stroke-width="0.80"/>
<line x1="494.32" y1="278.50" x2="494.32" y2="281.10" stroke="#000" stroke-width="0.80"/>
<line x1="498.70" y1="278.50" x2="498.70" y2="283.10" stroke="#000" stroke-width="1.00"/>
<line x1="527.51" y1="278.50" x2="527.51" y2="281.10" stroke="#000" stroke-width="0.80"/>
<line x1="544.36" y1="278.50" x2="544.36" y2="281.10" stroke="#000" stroke-width="0.80"/>
<line x1="556.32" y1="278.50" x2="556.32" y2="281.10" stroke="#000" stroke-width="0.80"/>
<line x1="565.59" y1="278.50" x2="565.59" y2="281.10" stroke="#000" stroke-width="0.80"/>
<line x1="573.17" y1="278.50" x2="573.17" y2="281.10" stroke="#000" stroke-width="0.80"/>
<line x1="579.58" y1="278.50" x2="579.58" y2="281.10" stroke="#000" stroke-width="0.80"/>
<line x1="585.13" y1="278.50" x2="585.13" y2="281.10" stroke="#000" stroke-width="0.80"/>
<line x1="590.02" y1="278.50" x2="590.02" y2="281.10" stroke="#000" stroke-width="0.80"/>
<line x1="594.40" y1="278.50" x2="594.40" y2="283.10" stroke="#000" stroke-width="1.00"/>
<line x1="623.21" y1="278.50" x2="623.21" y2="281.10" stroke="#000" stroke-width="0.80"/>
<line x1="640.06" y1="278.50" x2="640.06" y2="281.10" stroke="#000" stroke-width="0.80"/>
<line x1="652.02" y1="278.50" x2="652.02" y2="281.10" stroke="#000" stroke-width="0.80"/>
<line x1="661.29" y1="278.50" x2="661.29" y2="281.10" stroke="#000" stroke-width="0.80"/>
<line x1="668.87" y1="278.50" x2="668.87" y2="281.10" stroke="#000" stroke-width="0.80"/>
<line x1="675.28" y1="278.50" x2="675.28" y2="281.10" stroke="#000" stroke-width="0.80"/>
<line x1="680.83" y1="278.50" x2="680.83" y2="281.10" stroke="#000" stroke-width="0.80"/>
<line x1="398.40" y1="229.29" x2="403.00" y2="229.29" stroke="#000" stroke-width="1.0"/>
<line x1="398.40" y1="163.96" x2="403.00" y2="163.96" stroke="#000" stroke-width="1.0"/>
<line x1="398.40" y1="98.63" x2="403.00" y2="98.63" stroke="#000" stroke-width="1.0"/>
<line x1="398.40" y1="33.30" x2="403.00" y2="33.30" stroke="#000" stroke-width="1.0"/>
<rect x="403.00" y="0.50" width="281.50" height="278.00" fill="none" stroke="#000" stroke-width="1"/>
<text x="42.90" y="39.80" text-anchor="end" font-size="18.0">0.8</text>
<text x="42.90" y="105.13" text-anchor="end" font-size="18.0">0.6</text>
<text x="42.90" y="170.46" text-anchor="end" font-size="18.0">0.4</text>
<text x="42.90" y="235.79" text-anchor="end" font-size="18.0">0.2</text>
<text x="39.30" y="299.5" font-size="18.0">10</text>
<text x="57.20" y="292.6" font-size="12.0">0</text>
<text x="135.10" y="299.5" font-size="18.0">10</text>
<text x="153.40" y="292.6" font-size="12.0">1</text>
<text x="230.60" y="299.5" font-size="18.0">10</text>
<text x="248.90" y="292.6" font-size="12.0">2</text>
<text x="394.40" y="39.80" text-anchor="end" font-size="18.0">0.8</text>
<text x="394.40" y="105.13" text-anchor="end" font-size="18.0">0.6</text>
<text x="394.40" y="170.46" text-anchor="end" font-size="18.0">0.4</text>
<text x="394.40" y="235.79" text-anchor="end" font-size="18.0">0.2</text>
<text x="390.80" y="299.5" font-size="18.0">10</text>
<text x="408.70" y="292.6" font-size="12.0">0</text>
<text x="486.60" y="299.5" font-size="18.0">10</text>
<text x="504.90" y="292.6" font-size="12.0">1</text>
<text x="582.10" y="299.5" font-size="18.0">10</text>
<text x="600.40" y="292.6" font-size="12.0">2</text>
<text x="192.50" y="320.1" font-size="17.3" text-anchor="middle" textLength="72.0" lengthAdjust="spacingAndGlyphs">Iterations</text>
<text x="544.00" y="320.1" font-size="17.3" text-anchor="middle" textLength="72.0" lengthAdjust="spacingAndGlyphs">Iterations</text>
<text transform="translate(13.00,139.5) rotate(-90)" font-size="17.3" text-anchor="middle" textLength="96.0" lengthAdjust="spacingAndGlyphs">Training loss</text>
<text transform="translate(364.50,139.5) rotate(-90)" font-size="17.3" text-anchor="middle" textLength="96.0" lengthAdjust="spacingAndGlyphs">Training loss</text>
<text x="2.20" y="317.4" font-size="25.5">(a)</text>
<text x="357.20" y="317.4" font-size="25.5">(b)</text>
<rect x="242.5" y="6.5" width="83.8" height="89.8" rx="2.5" ry="2.5" fill="#fff" fill-opacity="0.8" stroke="#d0d0d0" stroke-width="0.9"/>
<line x1="246.20" y1="16.10" x2="273.50" y2="16.10" stroke="#440154" stroke-width="2.1"/>
<text x="282.20" y="20.85" font-size="12.6" font-style="italic">t</text>
<line x1="290.80" y1="16.50" x2="299.70" y2="16.50" stroke="#000" stroke-width="0.8" stroke-opacity="0.85"/><line x1="290.80" y1="18.50" x2="299.70" y2="18.50" stroke="#000" stroke-width="0.8" stroke-opacity="0.85"/>
<text x="303.40" y="20.85" font-size="12.6">5</text>
<text transform="translate(309.90,20.85) scale(1.45,1)" font-size="12.6" font-style="italic">τ</text>
<line x1="246.20" y1="33.57" x2="273.50" y2="33.57" stroke="#3b528b" stroke-width="2.1"/>
<text x="282.20" y="38.32" font-size="12.6" font-style="italic">t</text>
<line x1="290.80" y1="33.50" x2="299.70" y2="33.50" stroke="#000" stroke-width="0.8" stroke-opacity="0.85"/><line x1="290.80" y1="36.50" x2="299.70" y2="36.50" stroke="#000" stroke-width="0.8" stroke-opacity="0.85"/>
<text x="303.20" y="38.32" font-size="12.6">10</text>
<text transform="translate(316.00,38.32) scale(1.45,1)" font-size="12.6" font-style="italic">τ</text>
<line x1="246.20" y1="51.04" x2="273.50" y2="51.04" stroke="#21918c" stroke-width="2.1"/>
<text x="282.20" y="55.79" font-size="12.6" font-style="italic">t</text>
<line x1="290.80" y1="51.50" x2="299.70" y2="51.50" stroke="#000" stroke-width="0.8" stroke-opacity="0.85"/><line x1="290.80" y1="53.50" x2="299.70" y2="53.50" stroke="#000" stroke-width="0.8" stroke-opacity="0.85"/>
<text x="303.20" y="55.79" font-size="12.6">20</text>
<text transform="translate(316.00,55.79) scale(1.45,1)" font-size="12.6" font-style="italic">τ</text>
<line x1="246.20" y1="68.51" x2="273.50" y2="68.51" stroke="#7ad151" stroke-width="2.1"/>
<text x="282.20" y="73.26" font-size="12.6" font-style="italic">t</text>
<line x1="290.80" y1="68.50" x2="299.70" y2="68.50" stroke="#000" stroke-width="0.8" stroke-opacity="0.85"/><line x1="290.80" y1="71.50" x2="299.70" y2="71.50" stroke="#000" stroke-width="0.8" stroke-opacity="0.85"/>
<text x="303.20" y="73.26" font-size="12.6">50</text>
<text transform="translate(316.00,73.26) scale(1.45,1)" font-size="12.6" font-style="italic">τ</text>
<line x1="246.90" y1="86.00" x2="273.50" y2="86.00" stroke="#000" stroke-width="2.1" stroke-dasharray="6.85,2.95"/>
<text x="283.0" y="90.0" font-size="12.6" textLength="27.5" lengthAdjust="spacingAndGlyphs">NGD</text>
<rect x="584.6" y="6.5" width="93.6" height="73.7" rx="2.5" ry="2.5" fill="#fff" fill-opacity="0.8" stroke="#d0d0d0" stroke-width="0.9"/>
<line x1="588.80" y1="16.15" x2="616.00" y2="16.15" stroke="#440154" stroke-width="2.1"/>
<text x="624.40" y="20.75" font-size="12.6" font-style="italic">t</text>
<text x="629.30" y="22.65" font-size="9.0" font-style="italic">d</text>
<line x1="638.80" y1="16.50" x2="648.00" y2="16.50" stroke="#000" stroke-width="0.8" stroke-opacity="0.85"/><line x1="638.80" y1="18.50" x2="648.00" y2="18.50" stroke="#000" stroke-width="0.8" stroke-opacity="0.85"/>
<text x="651.20" y="20.75" font-size="12.6">0</text>
<line x1="588.80" y1="33.60" x2="616.00" y2="33.60" stroke="#3b528b" stroke-width="2.1"/>
<text x="624.40" y="38.20" font-size="12.6" font-style="italic">t</text>
<text x="629.30" y="40.10" font-size="9.0" font-style="italic">d</text>
<line x1="638.80" y1="33.50" x2="648.00" y2="33.50" stroke="#000" stroke-width="0.8" stroke-opacity="0.85"/><line x1="638.80" y1="36.50" x2="648.00" y2="36.50" stroke="#000" stroke-width="0.8" stroke-opacity="0.85"/>
<text x="651.20" y="38.20" font-size="12.6">0.2</text>
<text transform="translate(666.40,38.20) scale(1.45,1)" font-size="12.6" font-style="italic">τ</text>
<line x1="588.80" y1="51.07" x2="616.00" y2="51.07" stroke="#21918c" stroke-width="2.1"/>
<text x="624.40" y="55.67" font-size="12.6" font-style="italic">t</text>
<text x="629.30" y="57.57" font-size="9.0" font-style="italic">d</text>
<line x1="638.80" y1="51.50" x2="648.00" y2="51.50" stroke="#000" stroke-width="0.8" stroke-opacity="0.85"/><line x1="638.80" y1="53.50" x2="648.00" y2="53.50" stroke="#000" stroke-width="0.8" stroke-opacity="0.85"/>
<text transform="translate(651.20,55.67) scale(1.45,1)" font-size="12.6" font-style="italic">τ</text>
<line x1="589.50" y1="68.60" x2="616.00" y2="68.60" stroke="#000" stroke-width="2.1" stroke-dasharray="6.85,2.95"/>
<text x="624.6" y="73.0" font-size="12.6" textLength="27.5" lengthAdjust="spacingAndGlyphs">NGD</text>
</svg></body></html>
